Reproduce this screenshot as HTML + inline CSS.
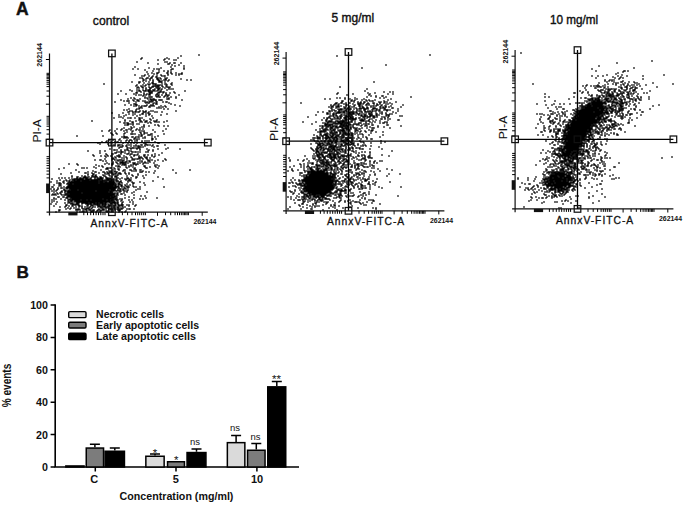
<!DOCTYPE html><html><head><meta charset="utf-8"><style>html,body{margin:0;padding:0;background:#fff;}svg{display:block;}text{font-family:"Liberation Sans",sans-serif;}</style></head><body>
<svg width="685" height="505" viewBox="0 0 685 505">
<rect width="685" height="505" fill="#fff"/>
<text x="16.0" y="15.0" font-family="Liberation Sans, sans-serif" font-size="17.5" font-weight="bold" fill="#111" stroke="#111" stroke-width="0.4">A</text>
<text x="92.8" y="24.7" font-family="Liberation Sans, sans-serif" font-size="12.5" textLength="36.5" lengthAdjust="spacingAndGlyphs" fill="#111" stroke="#111" stroke-width="0.4">control</text>
<text x="331.6" y="22.1" font-family="Liberation Sans, sans-serif" font-size="12" textLength="42.6" lengthAdjust="spacingAndGlyphs" fill="#111" stroke="#111" stroke-width="0.4">5 mg/ml</text>
<text x="549.9" y="23.9" font-family="Liberation Sans, sans-serif" font-size="12" textLength="48.2" lengthAdjust="spacingAndGlyphs" fill="#111" stroke="#111" stroke-width="0.4">10 mg/ml</text>
<g>
<path d="M198.25 54.25h1.5v1.5h-1.5zM180.25 55.25h1.5v1.5h-1.5zM141.25 57.25h1.5v1.5h-1.5zM166.25 57.25h1.5v1.5h-1.5zM177.25 57.25h1.5v1.5h-1.5zM140.25 58.25h1.5v1.5h-1.5zM164.25 58.25h1.5v1.5h-1.5zM168.25 58.25h1.5v1.5h-1.5zM157.25 59.25h1.5v1.5h-1.5zM163.25 59.25h1.5v1.5h-1.5zM173.25 59.25h1.5v1.5h-1.5zM175.25 59.25h1.5v1.5h-1.5zM136.25 61.25h1.5v1.5h-1.5zM164.25 61.25h1.5v1.5h-1.5zM166.25 61.25h1.5v1.5h-1.5zM147.25 62.25h1.5v1.5h-1.5zM169.25 62.25h1.5v1.5h-1.5zM173.25 62.25h2.5v1.5h-2.5zM180.25 62.25h1.5v1.5h-1.5zM157.25 63.25h1.5v1.5h-1.5zM167.25 63.25h2.5v1.5h-2.5zM171.25 64.25h1.5v1.5h-1.5zM178.25 64.25h1.5v1.5h-1.5zM174.25 65.25h1.5v1.5h-1.5zM183.25 65.25h1.5v1.5h-1.5zM134.25 66.25h1.5v1.5h-1.5zM170.25 66.25h1.5v1.5h-1.5zM148.25 67.25h1.5v1.5h-1.5zM160.25 67.25h1.5v1.5h-1.5zM183.25 67.25h1.5v1.5h-1.5zM132.25 68.25h1.5v1.5h-1.5zM137.25 68.25h1.5v1.5h-1.5zM153.25 68.25h1.5v1.5h-1.5zM156.25 68.25h1.5v1.5h-1.5zM158.25 68.25h1.5v1.5h-1.5zM171.25 68.25h2.5v1.5h-2.5zM183.25 68.25h1.5v1.5h-1.5zM144.25 69.25h1.5v1.5h-1.5zM158.25 69.25h1.5v1.5h-1.5zM170.25 69.25h1.5v1.5h-1.5zM152.25 70.25h1.5v1.5h-1.5zM163.25 70.25h1.5v1.5h-1.5zM167.25 70.25h1.5v1.5h-1.5zM146.25 71.25h1.5v1.5h-1.5zM158.25 71.25h1.5v1.5h-1.5zM167.25 71.25h1.5v1.5h-1.5zM170.25 71.25h1.5v1.5h-1.5zM151.25 72.25h1.5v1.5h-1.5zM156.25 72.25h2.5v1.5h-2.5zM166.25 72.25h1.5v1.5h-1.5zM170.25 72.25h1.5v1.5h-1.5zM175.25 72.25h1.5v1.5h-1.5zM181.25 72.25h1.5v1.5h-1.5zM147.25 73.25h1.5v1.5h-1.5zM153.25 73.25h1.5v1.5h-1.5zM156.25 73.25h1.5v1.5h-1.5zM167.25 73.25h1.5v1.5h-1.5zM171.25 73.25h1.5v1.5h-1.5zM178.25 73.25h1.5v1.5h-1.5zM180.25 73.25h2.5v1.5h-2.5zM134.25 74.25h1.5v1.5h-1.5zM144.25 74.25h1.5v1.5h-1.5zM160.25 74.25h1.5v1.5h-1.5zM167.25 74.25h1.5v1.5h-1.5zM175.25 74.25h1.5v1.5h-1.5zM178.25 74.25h1.5v1.5h-1.5zM141.25 75.25h1.5v1.5h-1.5zM143.25 75.25h1.5v1.5h-1.5zM148.25 75.25h1.5v1.5h-1.5zM152.25 75.25h1.5v1.5h-1.5zM156.25 75.25h1.5v1.5h-1.5zM161.25 75.25h1.5v1.5h-1.5zM163.25 75.25h2.5v1.5h-2.5zM151.25 76.25h1.5v1.5h-1.5zM155.25 76.25h1.5v1.5h-1.5zM139.25 77.25h1.5v1.5h-1.5zM141.25 77.25h1.5v1.5h-1.5zM146.25 77.25h2.5v1.5h-2.5zM150.25 77.25h2.5v1.5h-2.5zM156.25 77.25h2.5v1.5h-2.5zM159.25 77.25h1.5v1.5h-1.5zM164.25 77.25h1.5v1.5h-1.5zM166.25 77.25h1.5v1.5h-1.5zM142.25 78.25h1.5v1.5h-1.5zM145.25 78.25h1.5v1.5h-1.5zM149.25 78.25h1.5v1.5h-1.5zM156.25 78.25h2.5v1.5h-2.5zM160.25 78.25h1.5v1.5h-1.5zM165.25 78.25h1.5v1.5h-1.5zM180.25 78.25h1.5v1.5h-1.5zM143.25 79.25h1.5v1.5h-1.5zM149.25 79.25h1.5v1.5h-1.5zM152.25 79.25h1.5v1.5h-1.5zM157.25 79.25h2.5v1.5h-2.5zM163.25 79.25h3.5v1.5h-3.5zM168.25 79.25h1.5v1.5h-1.5zM186.25 79.25h1.5v1.5h-1.5zM190.25 79.25h1.5v1.5h-1.5zM142.25 80.25h1.5v1.5h-1.5zM145.25 80.25h1.5v1.5h-1.5zM152.25 80.25h1.5v1.5h-1.5zM158.25 80.25h2.5v1.5h-2.5zM161.25 80.25h1.5v1.5h-1.5zM167.25 80.25h1.5v1.5h-1.5zM131.25 81.25h1.5v1.5h-1.5zM138.25 81.25h2.5v1.5h-2.5zM148.25 81.25h1.5v1.5h-1.5zM152.25 81.25h1.5v1.5h-1.5zM158.25 81.25h3.5v1.5h-3.5zM164.25 81.25h1.5v1.5h-1.5zM138.25 82.25h1.5v1.5h-1.5zM143.25 82.25h1.5v1.5h-1.5zM151.25 82.25h2.5v1.5h-2.5zM161.25 82.25h1.5v1.5h-1.5zM171.25 82.25h1.5v1.5h-1.5zM103.25 83.25h1.5v1.5h-1.5zM147.25 83.25h1.5v1.5h-1.5zM149.25 83.25h1.5v1.5h-1.5zM152.25 83.25h4.5v1.5h-4.5zM164.25 83.25h2.5v1.5h-2.5zM170.25 83.25h1.5v1.5h-1.5zM136.25 84.25h1.5v1.5h-1.5zM142.25 84.25h1.5v1.5h-1.5zM145.25 84.25h1.5v1.5h-1.5zM148.25 84.25h1.5v1.5h-1.5zM155.25 84.25h1.5v1.5h-1.5zM157.25 84.25h1.5v1.5h-1.5zM159.25 84.25h1.5v1.5h-1.5zM161.25 84.25h1.5v1.5h-1.5zM166.25 84.25h1.5v1.5h-1.5zM171.25 84.25h1.5v1.5h-1.5zM135.25 85.25h1.5v1.5h-1.5zM140.25 85.25h1.5v1.5h-1.5zM144.25 85.25h1.5v1.5h-1.5zM152.25 85.25h3.5v1.5h-3.5zM156.25 85.25h3.5v1.5h-3.5zM161.25 85.25h1.5v1.5h-1.5zM165.25 85.25h1.5v1.5h-1.5zM137.25 86.25h1.5v1.5h-1.5zM141.25 86.25h2.5v1.5h-2.5zM148.25 86.25h1.5v1.5h-1.5zM151.25 86.25h2.5v1.5h-2.5zM155.25 86.25h1.5v1.5h-1.5zM157.25 86.25h1.5v1.5h-1.5zM162.25 86.25h1.5v1.5h-1.5zM166.25 86.25h2.5v1.5h-2.5zM169.25 86.25h1.5v1.5h-1.5zM136.25 87.25h1.5v1.5h-1.5zM138.25 87.25h1.5v1.5h-1.5zM142.25 87.25h1.5v1.5h-1.5zM145.25 87.25h1.5v1.5h-1.5zM149.25 87.25h2.5v1.5h-2.5zM156.25 87.25h1.5v1.5h-1.5zM158.25 87.25h2.5v1.5h-2.5zM164.25 87.25h1.5v1.5h-1.5zM168.25 87.25h1.5v1.5h-1.5zM145.25 88.25h1.5v1.5h-1.5zM149.25 88.25h1.5v1.5h-1.5zM154.25 88.25h1.5v1.5h-1.5zM157.25 88.25h2.5v1.5h-2.5zM161.25 88.25h1.5v1.5h-1.5zM168.25 88.25h1.5v1.5h-1.5zM170.25 88.25h1.5v1.5h-1.5zM172.25 88.25h1.5v1.5h-1.5zM129.25 89.25h1.5v1.5h-1.5zM136.25 89.25h1.5v1.5h-1.5zM138.25 89.25h1.5v1.5h-1.5zM142.25 89.25h1.5v1.5h-1.5zM145.25 89.25h1.5v1.5h-1.5zM147.25 89.25h3.5v1.5h-3.5zM152.25 89.25h2.5v1.5h-2.5zM157.25 89.25h2.5v1.5h-2.5zM160.25 89.25h1.5v1.5h-1.5zM166.25 89.25h1.5v1.5h-1.5zM120.25 90.25h1.5v1.5h-1.5zM131.25 90.25h1.5v1.5h-1.5zM138.25 90.25h2.5v1.5h-2.5zM143.25 90.25h3.5v1.5h-3.5zM147.25 90.25h2.5v1.5h-2.5zM150.25 90.25h1.5v1.5h-1.5zM152.25 90.25h1.5v1.5h-1.5zM154.25 90.25h1.5v1.5h-1.5zM156.25 90.25h1.5v1.5h-1.5zM160.25 90.25h1.5v1.5h-1.5zM184.25 90.25h1.5v1.5h-1.5zM136.25 91.25h1.5v1.5h-1.5zM140.25 91.25h1.5v1.5h-1.5zM148.25 91.25h2.5v1.5h-2.5zM151.25 91.25h1.5v1.5h-1.5zM158.25 91.25h3.5v1.5h-3.5zM162.25 91.25h2.5v1.5h-2.5zM173.25 91.25h1.5v1.5h-1.5zM135.25 92.25h2.5v1.5h-2.5zM143.25 92.25h1.5v1.5h-1.5zM149.25 92.25h3.5v1.5h-3.5zM157.25 92.25h2.5v1.5h-2.5zM162.25 92.25h1.5v1.5h-1.5zM165.25 92.25h1.5v1.5h-1.5zM169.25 92.25h1.5v1.5h-1.5zM174.25 92.25h1.5v1.5h-1.5zM117.25 93.25h1.5v1.5h-1.5zM125.25 93.25h1.5v1.5h-1.5zM133.25 93.25h1.5v1.5h-1.5zM143.25 93.25h1.5v1.5h-1.5zM146.25 93.25h1.5v1.5h-1.5zM148.25 93.25h2.5v1.5h-2.5zM156.25 93.25h1.5v1.5h-1.5zM165.25 93.25h1.5v1.5h-1.5zM135.25 94.25h1.5v1.5h-1.5zM138.25 94.25h1.5v1.5h-1.5zM140.25 94.25h1.5v1.5h-1.5zM143.25 94.25h1.5v1.5h-1.5zM145.25 94.25h1.5v1.5h-1.5zM148.25 94.25h2.5v1.5h-2.5zM155.25 94.25h1.5v1.5h-1.5zM157.25 94.25h2.5v1.5h-2.5zM161.25 94.25h1.5v1.5h-1.5zM165.25 94.25h2.5v1.5h-2.5zM168.25 94.25h1.5v1.5h-1.5zM178.25 94.25h1.5v1.5h-1.5zM142.25 95.25h1.5v1.5h-1.5zM155.25 95.25h1.5v1.5h-1.5zM157.25 95.25h1.5v1.5h-1.5zM164.25 95.25h1.5v1.5h-1.5zM167.25 95.25h1.5v1.5h-1.5zM144.25 96.25h1.5v1.5h-1.5zM148.25 96.25h4.5v1.5h-4.5zM156.25 96.25h1.5v1.5h-1.5zM158.25 96.25h2.5v1.5h-2.5zM163.25 96.25h1.5v1.5h-1.5zM166.25 96.25h1.5v1.5h-1.5zM170.25 96.25h1.5v1.5h-1.5zM175.25 96.25h1.5v1.5h-1.5zM130.25 97.25h1.5v1.5h-1.5zM133.25 97.25h1.5v1.5h-1.5zM144.25 97.25h1.5v1.5h-1.5zM146.25 97.25h1.5v1.5h-1.5zM168.25 97.25h1.5v1.5h-1.5zM175.25 97.25h1.5v1.5h-1.5zM127.25 98.25h1.5v1.5h-1.5zM134.25 98.25h1.5v1.5h-1.5zM139.25 98.25h1.5v1.5h-1.5zM147.25 98.25h1.5v1.5h-1.5zM149.25 98.25h2.5v1.5h-2.5zM152.25 98.25h2.5v1.5h-2.5zM166.25 98.25h3.5v1.5h-3.5zM120.25 99.25h1.5v1.5h-1.5zM132.25 99.25h1.5v1.5h-1.5zM136.25 99.25h2.5v1.5h-2.5zM150.25 99.25h2.5v1.5h-2.5zM153.25 99.25h3.5v1.5h-3.5zM158.25 99.25h4.5v1.5h-4.5zM181.25 99.25h1.5v1.5h-1.5zM123.25 100.25h1.5v1.5h-1.5zM126.25 100.25h3.5v1.5h-3.5zM133.25 100.25h1.5v1.5h-1.5zM137.25 100.25h2.5v1.5h-2.5zM142.25 100.25h1.5v1.5h-1.5zM144.25 100.25h1.5v1.5h-1.5zM148.25 100.25h1.5v1.5h-1.5zM150.25 100.25h1.5v1.5h-1.5zM152.25 100.25h1.5v1.5h-1.5zM155.25 100.25h1.5v1.5h-1.5zM114.25 101.25h1.5v1.5h-1.5zM135.25 101.25h1.5v1.5h-1.5zM144.25 101.25h1.5v1.5h-1.5zM146.25 101.25h1.5v1.5h-1.5zM149.25 101.25h1.5v1.5h-1.5zM151.25 101.25h1.5v1.5h-1.5zM156.25 101.25h1.5v1.5h-1.5zM162.25 101.25h1.5v1.5h-1.5zM165.25 101.25h2.5v1.5h-2.5zM128.25 102.25h1.5v1.5h-1.5zM145.25 102.25h1.5v1.5h-1.5zM147.25 102.25h2.5v1.5h-2.5zM153.25 102.25h1.5v1.5h-1.5zM155.25 102.25h1.5v1.5h-1.5zM168.25 102.25h1.5v1.5h-1.5zM133.25 103.25h3.5v1.5h-3.5zM152.25 103.25h1.5v1.5h-1.5zM155.25 103.25h2.5v1.5h-2.5zM170.25 103.25h1.5v1.5h-1.5zM124.25 104.25h1.5v1.5h-1.5zM130.25 104.25h1.5v1.5h-1.5zM135.25 104.25h2.5v1.5h-2.5zM146.25 104.25h1.5v1.5h-1.5zM150.25 104.25h1.5v1.5h-1.5zM152.25 104.25h1.5v1.5h-1.5zM174.25 104.25h1.5v1.5h-1.5zM133.25 105.25h1.5v1.5h-1.5zM135.25 105.25h1.5v1.5h-1.5zM138.25 105.25h1.5v1.5h-1.5zM141.25 105.25h1.5v1.5h-1.5zM143.25 105.25h3.5v1.5h-3.5zM149.25 105.25h1.5v1.5h-1.5zM151.25 105.25h1.5v1.5h-1.5zM153.25 105.25h1.5v1.5h-1.5zM160.25 105.25h1.5v1.5h-1.5zM164.25 105.25h1.5v1.5h-1.5zM179.25 105.25h1.5v1.5h-1.5zM140.25 106.25h1.5v1.5h-1.5zM148.25 106.25h2.5v1.5h-2.5zM158.25 106.25h1.5v1.5h-1.5zM162.25 106.25h1.5v1.5h-1.5zM165.25 106.25h1.5v1.5h-1.5zM138.25 107.25h2.5v1.5h-2.5zM141.25 107.25h1.5v1.5h-1.5zM156.25 107.25h1.5v1.5h-1.5zM158.25 107.25h1.5v1.5h-1.5zM160.25 107.25h1.5v1.5h-1.5zM128.25 108.25h1.5v1.5h-1.5zM136.25 108.25h1.5v1.5h-1.5zM138.25 108.25h1.5v1.5h-1.5zM163.25 108.25h1.5v1.5h-1.5zM167.25 108.25h1.5v1.5h-1.5zM123.25 109.25h1.5v1.5h-1.5zM126.25 109.25h1.5v1.5h-1.5zM135.25 109.25h1.5v1.5h-1.5zM129.25 110.25h1.5v1.5h-1.5zM131.25 110.25h1.5v1.5h-1.5zM135.25 110.25h1.5v1.5h-1.5zM139.25 110.25h1.5v1.5h-1.5zM142.25 110.25h1.5v1.5h-1.5zM145.25 110.25h1.5v1.5h-1.5zM150.25 110.25h1.5v1.5h-1.5zM152.25 110.25h1.5v1.5h-1.5zM175.25 110.25h1.5v1.5h-1.5zM127.25 111.25h2.5v1.5h-2.5zM132.25 111.25h1.5v1.5h-1.5zM134.25 111.25h2.5v1.5h-2.5zM137.25 111.25h2.5v1.5h-2.5zM143.25 111.25h3.5v1.5h-3.5zM148.25 111.25h1.5v1.5h-1.5zM154.25 111.25h1.5v1.5h-1.5zM156.25 111.25h1.5v1.5h-1.5zM161.25 111.25h1.5v1.5h-1.5zM111.25 112.25h1.5v1.5h-1.5zM122.25 112.25h1.5v1.5h-1.5zM132.25 112.25h1.5v1.5h-1.5zM142.25 112.25h1.5v1.5h-1.5zM147.25 112.25h1.5v1.5h-1.5zM128.25 113.25h1.5v1.5h-1.5zM134.25 113.25h1.5v1.5h-1.5zM141.25 113.25h2.5v1.5h-2.5zM145.25 113.25h1.5v1.5h-1.5zM148.25 113.25h2.5v1.5h-2.5zM166.25 113.25h1.5v1.5h-1.5zM118.25 114.25h1.5v1.5h-1.5zM125.25 114.25h1.5v1.5h-1.5zM132.25 114.25h1.5v1.5h-1.5zM139.25 114.25h1.5v1.5h-1.5zM148.25 114.25h1.5v1.5h-1.5zM160.25 114.25h1.5v1.5h-1.5zM123.25 115.25h1.5v1.5h-1.5zM136.25 115.25h1.5v1.5h-1.5zM145.25 115.25h1.5v1.5h-1.5zM151.25 115.25h1.5v1.5h-1.5zM118.25 116.25h1.5v1.5h-1.5zM120.25 116.25h1.5v1.5h-1.5zM113.25 117.25h1.5v1.5h-1.5zM122.25 117.25h1.5v1.5h-1.5zM127.25 117.25h1.5v1.5h-1.5zM129.25 117.25h2.5v1.5h-2.5zM134.25 117.25h1.5v1.5h-1.5zM138.25 117.25h2.5v1.5h-2.5zM141.25 117.25h1.5v1.5h-1.5zM152.25 117.25h1.5v1.5h-1.5zM139.25 118.25h1.5v1.5h-1.5zM149.25 118.25h1.5v1.5h-1.5zM124.25 119.25h1.5v1.5h-1.5zM138.25 119.25h2.5v1.5h-2.5zM143.25 119.25h1.5v1.5h-1.5zM150.25 119.25h1.5v1.5h-1.5zM156.25 119.25h1.5v1.5h-1.5zM91.25 120.25h1.5v1.5h-1.5zM124.25 120.25h1.5v1.5h-1.5zM129.25 120.25h1.5v1.5h-1.5zM135.25 120.25h1.5v1.5h-1.5zM140.25 120.25h1.5v1.5h-1.5zM145.25 120.25h2.5v1.5h-2.5zM153.25 120.25h1.5v1.5h-1.5zM155.25 120.25h1.5v1.5h-1.5zM166.25 120.25h1.5v1.5h-1.5zM119.25 121.25h1.5v1.5h-1.5zM131.25 121.25h2.5v1.5h-2.5zM139.25 121.25h1.5v1.5h-1.5zM141.25 121.25h1.5v1.5h-1.5zM144.25 121.25h2.5v1.5h-2.5zM149.25 121.25h1.5v1.5h-1.5zM154.25 121.25h1.5v1.5h-1.5zM156.25 121.25h1.5v1.5h-1.5zM158.25 121.25h1.5v1.5h-1.5zM163.25 121.25h1.5v1.5h-1.5zM123.25 122.25h2.5v1.5h-2.5zM126.25 122.25h2.5v1.5h-2.5zM132.25 122.25h1.5v1.5h-1.5zM147.25 122.25h1.5v1.5h-1.5zM150.25 122.25h1.5v1.5h-1.5zM127.25 123.25h2.5v1.5h-2.5zM130.25 123.25h1.5v1.5h-1.5zM132.25 123.25h1.5v1.5h-1.5zM136.25 123.25h1.5v1.5h-1.5zM138.25 123.25h1.5v1.5h-1.5zM124.25 124.25h1.5v1.5h-1.5zM126.25 124.25h2.5v1.5h-2.5zM132.25 124.25h1.5v1.5h-1.5zM143.25 124.25h1.5v1.5h-1.5zM154.25 124.25h1.5v1.5h-1.5zM157.25 124.25h1.5v1.5h-1.5zM143.25 125.25h1.5v1.5h-1.5zM148.25 125.25h1.5v1.5h-1.5zM158.25 125.25h1.5v1.5h-1.5zM163.25 125.25h1.5v1.5h-1.5zM167.25 125.25h1.5v1.5h-1.5zM130.25 126.25h1.5v1.5h-1.5zM133.25 126.25h1.5v1.5h-1.5zM141.25 126.25h1.5v1.5h-1.5zM143.25 126.25h1.5v1.5h-1.5zM123.25 127.25h1.5v1.5h-1.5zM131.25 127.25h1.5v1.5h-1.5zM139.25 127.25h1.5v1.5h-1.5zM116.25 128.25h1.5v1.5h-1.5zM121.25 128.25h1.5v1.5h-1.5zM128.25 128.25h1.5v1.5h-1.5zM130.25 128.25h1.5v1.5h-1.5zM136.25 128.25h1.5v1.5h-1.5zM142.25 128.25h1.5v1.5h-1.5zM165.25 128.25h1.5v1.5h-1.5zM109.25 129.25h1.5v1.5h-1.5zM120.25 129.25h1.5v1.5h-1.5zM125.25 129.25h2.5v1.5h-2.5zM130.25 129.25h1.5v1.5h-1.5zM135.25 129.25h1.5v1.5h-1.5zM138.25 129.25h2.5v1.5h-2.5zM152.25 129.25h1.5v1.5h-1.5zM101.25 130.25h1.5v1.5h-1.5zM108.25 130.25h1.5v1.5h-1.5zM114.25 130.25h1.5v1.5h-1.5zM123.25 130.25h1.5v1.5h-1.5zM132.25 130.25h1.5v1.5h-1.5zM141.25 130.25h1.5v1.5h-1.5zM143.25 130.25h1.5v1.5h-1.5zM162.25 130.25h1.5v1.5h-1.5zM126.25 131.25h1.5v1.5h-1.5zM131.25 131.25h1.5v1.5h-1.5zM139.25 131.25h1.5v1.5h-1.5zM143.25 131.25h1.5v1.5h-1.5zM154.25 131.25h1.5v1.5h-1.5zM110.25 132.25h1.5v1.5h-1.5zM115.25 132.25h1.5v1.5h-1.5zM124.25 132.25h1.5v1.5h-1.5zM140.25 132.25h1.5v1.5h-1.5zM144.25 132.25h1.5v1.5h-1.5zM146.25 132.25h1.5v1.5h-1.5zM111.25 133.25h1.5v1.5h-1.5zM116.25 133.25h1.5v1.5h-1.5zM123.25 133.25h1.5v1.5h-1.5zM130.25 133.25h3.5v1.5h-3.5zM134.25 133.25h1.5v1.5h-1.5zM140.25 133.25h1.5v1.5h-1.5zM143.25 133.25h1.5v1.5h-1.5zM150.25 133.25h2.5v1.5h-2.5zM163.25 133.25h1.5v1.5h-1.5zM112.25 134.25h1.5v1.5h-1.5zM138.25 134.25h1.5v1.5h-1.5zM141.25 134.25h1.5v1.5h-1.5zM147.25 134.25h3.5v1.5h-3.5zM76.25 135.25h1.5v1.5h-1.5zM102.25 135.25h1.5v1.5h-1.5zM123.25 135.25h1.5v1.5h-1.5zM140.25 135.25h2.5v1.5h-2.5zM151.25 135.25h1.5v1.5h-1.5zM157.25 135.25h1.5v1.5h-1.5zM121.25 136.25h1.5v1.5h-1.5zM123.25 136.25h4.5v1.5h-4.5zM131.25 136.25h2.5v1.5h-2.5zM135.25 136.25h1.5v1.5h-1.5zM137.25 136.25h2.5v1.5h-2.5zM144.25 136.25h1.5v1.5h-1.5zM154.25 136.25h1.5v1.5h-1.5zM123.25 137.25h1.5v1.5h-1.5zM125.25 137.25h1.5v1.5h-1.5zM127.25 137.25h1.5v1.5h-1.5zM134.25 137.25h1.5v1.5h-1.5zM142.25 137.25h1.5v1.5h-1.5zM144.25 137.25h1.5v1.5h-1.5zM151.25 137.25h1.5v1.5h-1.5zM119.25 138.25h1.5v1.5h-1.5zM133.25 138.25h2.5v1.5h-2.5zM136.25 138.25h1.5v1.5h-1.5zM138.25 138.25h1.5v1.5h-1.5zM151.25 138.25h2.5v1.5h-2.5zM155.25 138.25h1.5v1.5h-1.5zM109.25 139.25h1.5v1.5h-1.5zM112.25 139.25h1.5v1.5h-1.5zM118.25 139.25h1.5v1.5h-1.5zM126.25 139.25h1.5v1.5h-1.5zM129.25 139.25h2.5v1.5h-2.5zM136.25 139.25h1.5v1.5h-1.5zM151.25 139.25h1.5v1.5h-1.5zM106.25 140.25h1.5v1.5h-1.5zM120.25 140.25h1.5v1.5h-1.5zM125.25 140.25h1.5v1.5h-1.5zM128.25 140.25h1.5v1.5h-1.5zM131.25 140.25h1.5v1.5h-1.5zM134.25 140.25h1.5v1.5h-1.5zM136.25 140.25h1.5v1.5h-1.5zM141.25 140.25h1.5v1.5h-1.5zM144.25 140.25h1.5v1.5h-1.5zM146.25 140.25h1.5v1.5h-1.5zM148.25 140.25h1.5v1.5h-1.5zM101.25 141.25h1.5v1.5h-1.5zM105.25 141.25h1.5v1.5h-1.5zM110.25 141.25h1.5v1.5h-1.5zM114.25 141.25h1.5v1.5h-1.5zM116.25 141.25h2.5v1.5h-2.5zM128.25 141.25h1.5v1.5h-1.5zM141.25 141.25h1.5v1.5h-1.5zM154.25 141.25h1.5v1.5h-1.5zM97.25 142.25h1.5v1.5h-1.5zM110.25 142.25h1.5v1.5h-1.5zM122.25 142.25h1.5v1.5h-1.5zM127.25 142.25h1.5v1.5h-1.5zM133.25 142.25h1.5v1.5h-1.5zM136.25 142.25h1.5v1.5h-1.5zM143.25 142.25h2.5v1.5h-2.5zM157.25 142.25h2.5v1.5h-2.5zM99.25 143.25h1.5v1.5h-1.5zM107.25 143.25h1.5v1.5h-1.5zM130.25 143.25h1.5v1.5h-1.5zM145.25 143.25h1.5v1.5h-1.5zM110.25 144.25h1.5v1.5h-1.5zM113.25 144.25h1.5v1.5h-1.5zM117.25 144.25h3.5v1.5h-3.5zM121.25 144.25h1.5v1.5h-1.5zM126.25 144.25h1.5v1.5h-1.5zM128.25 144.25h1.5v1.5h-1.5zM135.25 144.25h1.5v1.5h-1.5zM140.25 144.25h2.5v1.5h-2.5zM144.25 144.25h1.5v1.5h-1.5zM146.25 144.25h2.5v1.5h-2.5zM149.25 144.25h1.5v1.5h-1.5zM152.25 144.25h1.5v1.5h-1.5zM164.25 144.25h1.5v1.5h-1.5zM117.25 145.25h1.5v1.5h-1.5zM122.25 145.25h1.5v1.5h-1.5zM125.25 145.25h1.5v1.5h-1.5zM130.25 145.25h1.5v1.5h-1.5zM133.25 145.25h1.5v1.5h-1.5zM135.25 145.25h1.5v1.5h-1.5zM137.25 145.25h2.5v1.5h-2.5zM144.25 145.25h1.5v1.5h-1.5zM151.25 145.25h1.5v1.5h-1.5zM156.25 145.25h2.5v1.5h-2.5zM119.25 146.25h3.5v1.5h-3.5zM126.25 146.25h1.5v1.5h-1.5zM137.25 146.25h1.5v1.5h-1.5zM139.25 146.25h2.5v1.5h-2.5zM142.25 146.25h1.5v1.5h-1.5zM153.25 146.25h1.5v1.5h-1.5zM118.25 147.25h1.5v1.5h-1.5zM127.25 147.25h1.5v1.5h-1.5zM129.25 147.25h1.5v1.5h-1.5zM131.25 147.25h3.5v1.5h-3.5zM135.25 147.25h1.5v1.5h-1.5zM137.25 147.25h2.5v1.5h-2.5zM167.25 147.25h1.5v1.5h-1.5zM109.25 148.25h1.5v1.5h-1.5zM126.25 148.25h1.5v1.5h-1.5zM130.25 148.25h1.5v1.5h-1.5zM136.25 148.25h1.5v1.5h-1.5zM139.25 148.25h1.5v1.5h-1.5zM146.25 148.25h1.5v1.5h-1.5zM157.25 148.25h1.5v1.5h-1.5zM165.25 148.25h1.5v1.5h-1.5zM179.25 148.25h1.5v1.5h-1.5zM113.25 149.25h2.5v1.5h-2.5zM116.25 149.25h1.5v1.5h-1.5zM120.25 149.25h1.5v1.5h-1.5zM124.25 149.25h1.5v1.5h-1.5zM126.25 149.25h2.5v1.5h-2.5zM139.25 149.25h1.5v1.5h-1.5zM148.25 149.25h1.5v1.5h-1.5zM152.25 149.25h1.5v1.5h-1.5zM87.25 150.25h1.5v1.5h-1.5zM99.25 150.25h1.5v1.5h-1.5zM104.25 150.25h1.5v1.5h-1.5zM120.25 150.25h1.5v1.5h-1.5zM124.25 150.25h1.5v1.5h-1.5zM128.25 150.25h1.5v1.5h-1.5zM130.25 150.25h1.5v1.5h-1.5zM147.25 150.25h1.5v1.5h-1.5zM152.25 150.25h1.5v1.5h-1.5zM116.25 151.25h1.5v1.5h-1.5zM118.25 151.25h1.5v1.5h-1.5zM120.25 151.25h3.5v1.5h-3.5zM131.25 151.25h2.5v1.5h-2.5zM134.25 151.25h2.5v1.5h-2.5zM137.25 151.25h1.5v1.5h-1.5zM139.25 151.25h1.5v1.5h-1.5zM145.25 151.25h1.5v1.5h-1.5zM147.25 151.25h1.5v1.5h-1.5zM99.25 152.25h1.5v1.5h-1.5zM114.25 152.25h2.5v1.5h-2.5zM120.25 152.25h1.5v1.5h-1.5zM124.25 152.25h1.5v1.5h-1.5zM128.25 152.25h1.5v1.5h-1.5zM161.25 152.25h1.5v1.5h-1.5zM105.25 153.25h1.5v1.5h-1.5zM111.25 153.25h2.5v1.5h-2.5zM120.25 153.25h1.5v1.5h-1.5zM126.25 153.25h2.5v1.5h-2.5zM130.25 153.25h2.5v1.5h-2.5zM137.25 153.25h1.5v1.5h-1.5zM154.25 153.25h1.5v1.5h-1.5zM92.25 154.25h1.5v1.5h-1.5zM106.25 154.25h1.5v1.5h-1.5zM118.25 154.25h1.5v1.5h-1.5zM129.25 154.25h1.5v1.5h-1.5zM133.25 154.25h2.5v1.5h-2.5zM136.25 154.25h1.5v1.5h-1.5zM143.25 154.25h2.5v1.5h-2.5zM147.25 154.25h1.5v1.5h-1.5zM151.25 154.25h1.5v1.5h-1.5zM158.25 154.25h1.5v1.5h-1.5zM93.25 155.25h1.5v1.5h-1.5zM100.25 155.25h1.5v1.5h-1.5zM104.25 155.25h1.5v1.5h-1.5zM107.25 155.25h1.5v1.5h-1.5zM110.25 155.25h2.5v1.5h-2.5zM116.25 155.25h2.5v1.5h-2.5zM119.25 155.25h1.5v1.5h-1.5zM123.25 155.25h1.5v1.5h-1.5zM133.25 155.25h1.5v1.5h-1.5zM138.25 155.25h1.5v1.5h-1.5zM143.25 155.25h1.5v1.5h-1.5zM151.25 155.25h1.5v1.5h-1.5zM154.25 155.25h1.5v1.5h-1.5zM105.25 156.25h1.5v1.5h-1.5zM114.25 156.25h1.5v1.5h-1.5zM118.25 156.25h2.5v1.5h-2.5zM125.25 156.25h1.5v1.5h-1.5zM130.25 156.25h1.5v1.5h-1.5zM138.25 156.25h1.5v1.5h-1.5zM140.25 156.25h1.5v1.5h-1.5zM144.25 156.25h1.5v1.5h-1.5zM146.25 156.25h1.5v1.5h-1.5zM153.25 156.25h1.5v1.5h-1.5zM111.25 157.25h2.5v1.5h-2.5zM115.25 157.25h1.5v1.5h-1.5zM121.25 157.25h1.5v1.5h-1.5zM123.25 157.25h1.5v1.5h-1.5zM126.25 157.25h1.5v1.5h-1.5zM131.25 157.25h1.5v1.5h-1.5zM138.25 157.25h2.5v1.5h-2.5zM141.25 157.25h1.5v1.5h-1.5zM145.25 157.25h2.5v1.5h-2.5zM149.25 157.25h1.5v1.5h-1.5zM104.25 158.25h1.5v1.5h-1.5zM112.25 158.25h2.5v1.5h-2.5zM126.25 158.25h1.5v1.5h-1.5zM132.25 158.25h1.5v1.5h-1.5zM134.25 158.25h1.5v1.5h-1.5zM136.25 158.25h2.5v1.5h-2.5zM139.25 158.25h1.5v1.5h-1.5zM142.25 158.25h1.5v1.5h-1.5zM146.25 158.25h1.5v1.5h-1.5zM164.25 158.25h1.5v1.5h-1.5zM94.25 159.25h1.5v1.5h-1.5zM99.25 159.25h2.5v1.5h-2.5zM111.25 159.25h1.5v1.5h-1.5zM114.25 159.25h1.5v1.5h-1.5zM116.25 159.25h1.5v1.5h-1.5zM118.25 159.25h4.5v1.5h-4.5zM123.25 159.25h1.5v1.5h-1.5zM131.25 159.25h1.5v1.5h-1.5zM133.25 159.25h1.5v1.5h-1.5zM147.25 159.25h1.5v1.5h-1.5zM149.25 159.25h1.5v1.5h-1.5zM151.25 159.25h1.5v1.5h-1.5zM157.25 159.25h1.5v1.5h-1.5zM165.25 159.25h1.5v1.5h-1.5zM102.25 160.25h1.5v1.5h-1.5zM105.25 160.25h1.5v1.5h-1.5zM117.25 160.25h1.5v1.5h-1.5zM122.25 160.25h1.5v1.5h-1.5zM126.25 160.25h1.5v1.5h-1.5zM128.25 160.25h2.5v1.5h-2.5zM139.25 160.25h1.5v1.5h-1.5zM141.25 160.25h1.5v1.5h-1.5zM147.25 160.25h2.5v1.5h-2.5zM154.25 160.25h1.5v1.5h-1.5zM162.25 160.25h1.5v1.5h-1.5zM112.25 161.25h1.5v1.5h-1.5zM115.25 161.25h1.5v1.5h-1.5zM119.25 161.25h4.5v1.5h-4.5zM124.25 161.25h2.5v1.5h-2.5zM129.25 161.25h1.5v1.5h-1.5zM137.25 161.25h1.5v1.5h-1.5zM141.25 161.25h1.5v1.5h-1.5zM144.25 161.25h1.5v1.5h-1.5zM149.25 161.25h1.5v1.5h-1.5zM106.25 162.25h1.5v1.5h-1.5zM112.25 162.25h1.5v1.5h-1.5zM116.25 162.25h1.5v1.5h-1.5zM120.25 162.25h4.5v1.5h-4.5zM125.25 162.25h1.5v1.5h-1.5zM127.25 162.25h1.5v1.5h-1.5zM132.25 162.25h3.5v1.5h-3.5zM139.25 162.25h1.5v1.5h-1.5zM143.25 162.25h1.5v1.5h-1.5zM145.25 162.25h1.5v1.5h-1.5zM147.25 162.25h1.5v1.5h-1.5zM153.25 162.25h1.5v1.5h-1.5zM68.25 163.25h1.5v1.5h-1.5zM76.25 163.25h1.5v1.5h-1.5zM104.25 163.25h1.5v1.5h-1.5zM108.25 163.25h1.5v1.5h-1.5zM111.25 163.25h2.5v1.5h-2.5zM117.25 163.25h1.5v1.5h-1.5zM119.25 163.25h1.5v1.5h-1.5zM122.25 163.25h1.5v1.5h-1.5zM124.25 163.25h1.5v1.5h-1.5zM133.25 163.25h2.5v1.5h-2.5zM136.25 163.25h2.5v1.5h-2.5zM142.25 163.25h1.5v1.5h-1.5zM77.25 164.25h1.5v1.5h-1.5zM95.25 164.25h1.5v1.5h-1.5zM111.25 164.25h1.5v1.5h-1.5zM121.25 164.25h1.5v1.5h-1.5zM123.25 164.25h3.5v1.5h-3.5zM130.25 164.25h1.5v1.5h-1.5zM132.25 164.25h1.5v1.5h-1.5zM135.25 164.25h1.5v1.5h-1.5zM154.25 164.25h1.5v1.5h-1.5zM156.25 164.25h1.5v1.5h-1.5zM98.25 165.25h1.5v1.5h-1.5zM101.25 165.25h1.5v1.5h-1.5zM115.25 165.25h1.5v1.5h-1.5zM117.25 165.25h2.5v1.5h-2.5zM128.25 165.25h1.5v1.5h-1.5zM130.25 165.25h1.5v1.5h-1.5zM143.25 165.25h2.5v1.5h-2.5zM154.25 165.25h1.5v1.5h-1.5zM158.25 165.25h1.5v1.5h-1.5zM93.25 166.25h1.5v1.5h-1.5zM102.25 166.25h1.5v1.5h-1.5zM117.25 166.25h1.5v1.5h-1.5zM119.25 166.25h1.5v1.5h-1.5zM125.25 166.25h1.5v1.5h-1.5zM128.25 166.25h1.5v1.5h-1.5zM132.25 166.25h1.5v1.5h-1.5zM144.25 166.25h1.5v1.5h-1.5zM149.25 166.25h1.5v1.5h-1.5zM155.25 166.25h1.5v1.5h-1.5zM63.25 167.25h1.5v1.5h-1.5zM81.25 167.25h1.5v1.5h-1.5zM83.25 167.25h1.5v1.5h-1.5zM86.25 167.25h1.5v1.5h-1.5zM95.25 167.25h1.5v1.5h-1.5zM106.25 167.25h2.5v1.5h-2.5zM109.25 167.25h2.5v1.5h-2.5zM113.25 167.25h1.5v1.5h-1.5zM126.25 167.25h1.5v1.5h-1.5zM134.25 167.25h1.5v1.5h-1.5zM145.25 167.25h2.5v1.5h-2.5zM157.25 167.25h1.5v1.5h-1.5zM58.25 168.25h1.5v1.5h-1.5zM105.25 168.25h3.5v1.5h-3.5zM114.25 168.25h1.5v1.5h-1.5zM117.25 168.25h2.5v1.5h-2.5zM133.25 168.25h2.5v1.5h-2.5zM75.25 169.25h1.5v1.5h-1.5zM100.25 169.25h1.5v1.5h-1.5zM112.25 169.25h1.5v1.5h-1.5zM118.25 169.25h1.5v1.5h-1.5zM123.25 169.25h2.5v1.5h-2.5zM129.25 169.25h2.5v1.5h-2.5zM135.25 169.25h1.5v1.5h-1.5zM139.25 169.25h2.5v1.5h-2.5zM172.25 169.25h1.5v1.5h-1.5zM189.25 169.25h1.5v1.5h-1.5zM92.25 170.25h1.5v1.5h-1.5zM108.25 170.25h1.5v1.5h-1.5zM110.25 170.25h1.5v1.5h-1.5zM114.25 170.25h1.5v1.5h-1.5zM122.25 170.25h1.5v1.5h-1.5zM131.25 170.25h1.5v1.5h-1.5zM133.25 170.25h1.5v1.5h-1.5zM135.25 170.25h1.5v1.5h-1.5zM142.25 170.25h1.5v1.5h-1.5zM154.25 170.25h1.5v1.5h-1.5zM78.25 171.25h1.5v1.5h-1.5zM87.25 171.25h1.5v1.5h-1.5zM94.25 171.25h2.5v1.5h-2.5zM102.25 171.25h2.5v1.5h-2.5zM106.25 171.25h1.5v1.5h-1.5zM109.25 171.25h1.5v1.5h-1.5zM111.25 171.25h1.5v1.5h-1.5zM113.25 171.25h1.5v1.5h-1.5zM115.25 171.25h2.5v1.5h-2.5zM124.25 171.25h1.5v1.5h-1.5zM139.25 171.25h3.5v1.5h-3.5zM145.25 171.25h1.5v1.5h-1.5zM148.25 171.25h1.5v1.5h-1.5zM70.25 172.25h1.5v1.5h-1.5zM84.25 172.25h2.5v1.5h-2.5zM91.25 172.25h1.5v1.5h-1.5zM98.25 172.25h1.5v1.5h-1.5zM104.25 172.25h1.5v1.5h-1.5zM107.25 172.25h2.5v1.5h-2.5zM110.25 172.25h2.5v1.5h-2.5zM115.25 172.25h1.5v1.5h-1.5zM118.25 172.25h2.5v1.5h-2.5zM124.25 172.25h1.5v1.5h-1.5zM128.25 172.25h1.5v1.5h-1.5zM153.25 172.25h1.5v1.5h-1.5zM175.25 172.25h1.5v1.5h-1.5zM60.25 173.25h1.5v1.5h-1.5zM87.25 173.25h1.5v1.5h-1.5zM92.25 173.25h2.5v1.5h-2.5zM104.25 173.25h1.5v1.5h-1.5zM106.25 173.25h1.5v1.5h-1.5zM108.25 173.25h1.5v1.5h-1.5zM112.25 173.25h4.5v1.5h-4.5zM117.25 173.25h1.5v1.5h-1.5zM119.25 173.25h2.5v1.5h-2.5zM125.25 173.25h1.5v1.5h-1.5zM128.25 173.25h1.5v1.5h-1.5zM137.25 173.25h1.5v1.5h-1.5zM87.25 174.25h1.5v1.5h-1.5zM92.25 174.25h1.5v1.5h-1.5zM95.25 174.25h1.5v1.5h-1.5zM102.25 174.25h1.5v1.5h-1.5zM108.25 174.25h1.5v1.5h-1.5zM112.25 174.25h1.5v1.5h-1.5zM117.25 174.25h1.5v1.5h-1.5zM131.25 174.25h1.5v1.5h-1.5zM137.25 174.25h1.5v1.5h-1.5zM145.25 174.25h1.5v1.5h-1.5zM71.25 175.25h1.5v1.5h-1.5zM81.25 175.25h1.5v1.5h-1.5zM84.25 175.25h1.5v1.5h-1.5zM91.25 175.25h2.5v1.5h-2.5zM94.25 175.25h2.5v1.5h-2.5zM103.25 175.25h2.5v1.5h-2.5zM109.25 175.25h1.5v1.5h-1.5zM114.25 175.25h3.5v1.5h-3.5zM126.25 175.25h1.5v1.5h-1.5zM132.25 175.25h1.5v1.5h-1.5zM142.25 175.25h1.5v1.5h-1.5zM71.25 176.25h1.5v1.5h-1.5zM76.25 176.25h2.5v1.5h-2.5zM83.25 176.25h3.5v1.5h-3.5zM87.25 176.25h2.5v1.5h-2.5zM91.25 176.25h1.5v1.5h-1.5zM93.25 176.25h1.5v1.5h-1.5zM95.25 176.25h2.5v1.5h-2.5zM99.25 176.25h2.5v1.5h-2.5zM105.25 176.25h1.5v1.5h-1.5zM111.25 176.25h1.5v1.5h-1.5zM114.25 176.25h2.5v1.5h-2.5zM135.25 176.25h2.5v1.5h-2.5zM157.25 176.25h1.5v1.5h-1.5zM58.25 177.25h1.5v1.5h-1.5zM61.25 177.25h1.5v1.5h-1.5zM64.25 177.25h1.5v1.5h-1.5zM68.25 177.25h1.5v1.5h-1.5zM76.25 177.25h1.5v1.5h-1.5zM79.25 177.25h2.5v1.5h-2.5zM82.25 177.25h5.5v1.5h-5.5zM90.25 177.25h1.5v1.5h-1.5zM94.25 177.25h1.5v1.5h-1.5zM97.25 177.25h1.5v1.5h-1.5zM99.25 177.25h4.5v1.5h-4.5zM105.25 177.25h3.5v1.5h-3.5zM109.25 177.25h1.5v1.5h-1.5zM116.25 177.25h2.5v1.5h-2.5zM121.25 177.25h1.5v1.5h-1.5zM126.25 177.25h2.5v1.5h-2.5zM130.25 177.25h1.5v1.5h-1.5zM135.25 177.25h1.5v1.5h-1.5zM143.25 177.25h1.5v1.5h-1.5zM51.25 178.25h1.5v1.5h-1.5zM71.25 178.25h1.5v1.5h-1.5zM73.25 178.25h10.5v1.5h-10.5zM85.25 178.25h6.5v1.5h-6.5zM94.25 178.25h1.5v1.5h-1.5zM96.25 178.25h6.5v1.5h-6.5zM106.25 178.25h5.5v1.5h-5.5zM112.25 178.25h2.5v1.5h-2.5zM115.25 178.25h1.5v1.5h-1.5zM119.25 178.25h1.5v1.5h-1.5zM124.25 178.25h1.5v1.5h-1.5zM126.25 178.25h1.5v1.5h-1.5zM128.25 178.25h1.5v1.5h-1.5zM162.25 178.25h1.5v1.5h-1.5zM59.25 179.25h1.5v1.5h-1.5zM65.25 179.25h1.5v1.5h-1.5zM69.25 179.25h1.5v1.5h-1.5zM72.25 179.25h3.5v1.5h-3.5zM76.25 179.25h13.5v1.5h-13.5zM90.25 179.25h10.5v1.5h-10.5zM101.25 179.25h2.5v1.5h-2.5zM104.25 179.25h5.5v1.5h-5.5zM110.25 179.25h2.5v1.5h-2.5zM113.25 179.25h1.5v1.5h-1.5zM115.25 179.25h2.5v1.5h-2.5zM125.25 179.25h1.5v1.5h-1.5zM128.25 179.25h3.5v1.5h-3.5zM56.25 180.25h1.5v1.5h-1.5zM63.25 180.25h1.5v1.5h-1.5zM66.25 180.25h1.5v1.5h-1.5zM68.25 180.25h1.5v1.5h-1.5zM71.25 180.25h1.5v1.5h-1.5zM73.25 180.25h7.5v1.5h-7.5zM81.25 180.25h17.5v1.5h-17.5zM99.25 180.25h6.5v1.5h-6.5zM106.25 180.25h1.5v1.5h-1.5zM108.25 180.25h3.5v1.5h-3.5zM112.25 180.25h2.5v1.5h-2.5zM115.25 180.25h1.5v1.5h-1.5zM117.25 180.25h1.5v1.5h-1.5zM120.25 180.25h1.5v1.5h-1.5zM127.25 180.25h1.5v1.5h-1.5zM129.25 180.25h1.5v1.5h-1.5zM152.25 180.25h1.5v1.5h-1.5zM50.25 181.25h1.5v1.5h-1.5zM62.25 181.25h1.5v1.5h-1.5zM68.25 181.25h35.5v1.5h-35.5zM104.25 181.25h3.5v1.5h-3.5zM108.25 181.25h6.5v1.5h-6.5zM116.25 181.25h1.5v1.5h-1.5zM118.25 181.25h3.5v1.5h-3.5zM127.25 181.25h1.5v1.5h-1.5zM131.25 181.25h1.5v1.5h-1.5zM139.25 181.25h1.5v1.5h-1.5zM56.25 182.25h1.5v1.5h-1.5zM58.25 182.25h2.5v1.5h-2.5zM63.25 182.25h1.5v1.5h-1.5zM67.25 182.25h1.5v1.5h-1.5zM69.25 182.25h29.5v1.5h-29.5zM99.25 182.25h16.5v1.5h-16.5zM118.25 182.25h1.5v1.5h-1.5zM121.25 182.25h1.5v1.5h-1.5zM132.25 182.25h2.5v1.5h-2.5zM143.25 182.25h1.5v1.5h-1.5zM58.25 183.25h1.5v1.5h-1.5zM60.25 183.25h1.5v1.5h-1.5zM66.25 183.25h6.5v1.5h-6.5zM73.25 183.25h41.5v1.5h-41.5zM115.25 183.25h1.5v1.5h-1.5zM117.25 183.25h3.5v1.5h-3.5zM126.25 183.25h1.5v1.5h-1.5zM132.25 183.25h1.5v1.5h-1.5zM53.25 184.25h1.5v1.5h-1.5zM59.25 184.25h1.5v1.5h-1.5zM68.25 184.25h48.5v1.5h-48.5zM118.25 184.25h1.5v1.5h-1.5zM120.25 184.25h2.5v1.5h-2.5zM124.25 184.25h1.5v1.5h-1.5zM129.25 184.25h1.5v1.5h-1.5zM144.25 184.25h1.5v1.5h-1.5zM58.25 185.25h1.5v1.5h-1.5zM60.25 185.25h1.5v1.5h-1.5zM67.25 185.25h46.5v1.5h-46.5zM114.25 185.25h2.5v1.5h-2.5zM117.25 185.25h1.5v1.5h-1.5zM120.25 185.25h2.5v1.5h-2.5zM125.25 185.25h1.5v1.5h-1.5zM127.25 185.25h1.5v1.5h-1.5zM132.25 185.25h1.5v1.5h-1.5zM51.25 186.25h2.5v1.5h-2.5zM63.25 186.25h1.5v1.5h-1.5zM66.25 186.25h53.5v1.5h-53.5zM121.25 186.25h1.5v1.5h-1.5zM123.25 186.25h1.5v1.5h-1.5zM126.25 186.25h1.5v1.5h-1.5zM128.25 186.25h1.5v1.5h-1.5zM133.25 186.25h1.5v1.5h-1.5zM135.25 186.25h1.5v1.5h-1.5zM139.25 186.25h1.5v1.5h-1.5zM163.25 186.25h1.5v1.5h-1.5zM57.25 187.25h1.5v1.5h-1.5zM60.25 187.25h2.5v1.5h-2.5zM65.25 187.25h51.5v1.5h-51.5zM118.25 187.25h1.5v1.5h-1.5zM124.25 187.25h1.5v1.5h-1.5zM127.25 187.25h1.5v1.5h-1.5zM50.25 188.25h1.5v1.5h-1.5zM53.25 188.25h1.5v1.5h-1.5zM57.25 188.25h1.5v1.5h-1.5zM63.25 188.25h1.5v1.5h-1.5zM66.25 188.25h1.5v1.5h-1.5zM69.25 188.25h46.5v1.5h-46.5zM117.25 188.25h1.5v1.5h-1.5zM119.25 188.25h2.5v1.5h-2.5zM122.25 188.25h2.5v1.5h-2.5zM125.25 188.25h1.5v1.5h-1.5zM137.25 188.25h1.5v1.5h-1.5zM139.25 188.25h1.5v1.5h-1.5zM53.25 189.25h1.5v1.5h-1.5zM56.25 189.25h1.5v1.5h-1.5zM63.25 189.25h2.5v1.5h-2.5zM68.25 189.25h1.5v1.5h-1.5zM70.25 189.25h7.5v1.5h-7.5zM78.25 189.25h31.5v1.5h-31.5zM110.25 189.25h5.5v1.5h-5.5zM117.25 189.25h1.5v1.5h-1.5zM119.25 189.25h1.5v1.5h-1.5zM122.25 189.25h1.5v1.5h-1.5zM127.25 189.25h1.5v1.5h-1.5zM135.25 189.25h1.5v1.5h-1.5zM51.25 190.25h1.5v1.5h-1.5zM55.25 190.25h1.5v1.5h-1.5zM61.25 190.25h1.5v1.5h-1.5zM64.25 190.25h31.5v1.5h-31.5zM96.25 190.25h15.5v1.5h-15.5zM112.25 190.25h2.5v1.5h-2.5zM115.25 190.25h2.5v1.5h-2.5zM118.25 190.25h1.5v1.5h-1.5zM120.25 190.25h1.5v1.5h-1.5zM123.25 190.25h2.5v1.5h-2.5zM126.25 190.25h1.5v1.5h-1.5zM53.25 191.25h1.5v1.5h-1.5zM60.25 191.25h2.5v1.5h-2.5zM64.25 191.25h1.5v1.5h-1.5zM67.25 191.25h41.5v1.5h-41.5zM109.25 191.25h3.5v1.5h-3.5zM119.25 191.25h1.5v1.5h-1.5zM126.25 191.25h1.5v1.5h-1.5zM133.25 191.25h1.5v1.5h-1.5zM146.25 191.25h1.5v1.5h-1.5zM56.25 192.25h1.5v1.5h-1.5zM59.25 192.25h1.5v1.5h-1.5zM64.25 192.25h1.5v1.5h-1.5zM66.25 192.25h15.5v1.5h-15.5zM82.25 192.25h29.5v1.5h-29.5zM112.25 192.25h1.5v1.5h-1.5zM114.25 192.25h1.5v1.5h-1.5zM116.25 192.25h2.5v1.5h-2.5zM123.25 192.25h1.5v1.5h-1.5zM131.25 192.25h1.5v1.5h-1.5zM52.25 193.25h1.5v1.5h-1.5zM54.25 193.25h1.5v1.5h-1.5zM57.25 193.25h1.5v1.5h-1.5zM60.25 193.25h1.5v1.5h-1.5zM65.25 193.25h1.5v1.5h-1.5zM67.25 193.25h1.5v1.5h-1.5zM69.25 193.25h46.5v1.5h-46.5zM116.25 193.25h1.5v1.5h-1.5zM120.25 193.25h2.5v1.5h-2.5zM51.25 194.25h1.5v1.5h-1.5zM53.25 194.25h1.5v1.5h-1.5zM55.25 194.25h1.5v1.5h-1.5zM61.25 194.25h1.5v1.5h-1.5zM63.25 194.25h51.5v1.5h-51.5zM116.25 194.25h2.5v1.5h-2.5zM124.25 194.25h1.5v1.5h-1.5zM133.25 194.25h1.5v1.5h-1.5zM67.25 195.25h45.5v1.5h-45.5zM113.25 195.25h3.5v1.5h-3.5zM140.25 195.25h1.5v1.5h-1.5zM144.25 195.25h1.5v1.5h-1.5zM57.25 196.25h2.5v1.5h-2.5zM62.25 196.25h2.5v1.5h-2.5zM66.25 196.25h44.5v1.5h-44.5zM111.25 196.25h4.5v1.5h-4.5zM116.25 196.25h1.5v1.5h-1.5zM128.25 196.25h1.5v1.5h-1.5zM53.25 197.25h1.5v1.5h-1.5zM65.25 197.25h2.5v1.5h-2.5zM70.25 197.25h44.5v1.5h-44.5zM115.25 197.25h1.5v1.5h-1.5zM124.25 197.25h1.5v1.5h-1.5zM133.25 197.25h1.5v1.5h-1.5zM145.25 197.25h1.5v1.5h-1.5zM156.25 197.25h1.5v1.5h-1.5zM53.25 198.25h1.5v1.5h-1.5zM55.25 198.25h1.5v1.5h-1.5zM60.25 198.25h1.5v1.5h-1.5zM67.25 198.25h1.5v1.5h-1.5zM69.25 198.25h1.5v1.5h-1.5zM71.25 198.25h31.5v1.5h-31.5zM103.25 198.25h8.5v1.5h-8.5zM112.25 198.25h1.5v1.5h-1.5zM114.25 198.25h3.5v1.5h-3.5zM119.25 198.25h1.5v1.5h-1.5zM121.25 198.25h1.5v1.5h-1.5zM139.25 198.25h1.5v1.5h-1.5zM142.25 198.25h1.5v1.5h-1.5zM51.25 199.25h1.5v1.5h-1.5zM64.25 199.25h1.5v1.5h-1.5zM68.25 199.25h12.5v1.5h-12.5zM81.25 199.25h5.5v1.5h-5.5zM87.25 199.25h3.5v1.5h-3.5zM91.25 199.25h15.5v1.5h-15.5zM107.25 199.25h3.5v1.5h-3.5zM111.25 199.25h3.5v1.5h-3.5zM115.25 199.25h1.5v1.5h-1.5zM117.25 199.25h1.5v1.5h-1.5zM121.25 199.25h1.5v1.5h-1.5zM128.25 199.25h1.5v1.5h-1.5zM131.25 199.25h1.5v1.5h-1.5zM53.25 200.25h1.5v1.5h-1.5zM67.25 200.25h1.5v1.5h-1.5zM70.25 200.25h2.5v1.5h-2.5zM74.25 200.25h38.5v1.5h-38.5zM113.25 200.25h1.5v1.5h-1.5zM116.25 200.25h1.5v1.5h-1.5zM120.25 200.25h1.5v1.5h-1.5zM51.25 201.25h1.5v1.5h-1.5zM56.25 201.25h1.5v1.5h-1.5zM68.25 201.25h2.5v1.5h-2.5zM71.25 201.25h1.5v1.5h-1.5zM73.25 201.25h1.5v1.5h-1.5zM75.25 201.25h35.5v1.5h-35.5zM112.25 201.25h3.5v1.5h-3.5zM117.25 201.25h1.5v1.5h-1.5zM122.25 201.25h1.5v1.5h-1.5zM129.25 201.25h1.5v1.5h-1.5zM132.25 201.25h1.5v1.5h-1.5zM64.25 202.25h1.5v1.5h-1.5zM67.25 202.25h1.5v1.5h-1.5zM69.25 202.25h1.5v1.5h-1.5zM71.25 202.25h1.5v1.5h-1.5zM76.25 202.25h3.5v1.5h-3.5zM81.25 202.25h7.5v1.5h-7.5zM89.25 202.25h6.5v1.5h-6.5zM96.25 202.25h2.5v1.5h-2.5zM99.25 202.25h4.5v1.5h-4.5zM104.25 202.25h2.5v1.5h-2.5zM109.25 202.25h9.5v1.5h-9.5zM121.25 202.25h1.5v1.5h-1.5zM50.25 203.25h1.5v1.5h-1.5zM55.25 203.25h1.5v1.5h-1.5zM70.25 203.25h4.5v1.5h-4.5zM75.25 203.25h3.5v1.5h-3.5zM81.25 203.25h1.5v1.5h-1.5zM85.25 203.25h6.5v1.5h-6.5zM93.25 203.25h7.5v1.5h-7.5zM101.25 203.25h5.5v1.5h-5.5zM107.25 203.25h1.5v1.5h-1.5zM110.25 203.25h1.5v1.5h-1.5zM114.25 203.25h1.5v1.5h-1.5zM117.25 203.25h1.5v1.5h-1.5zM121.25 203.25h1.5v1.5h-1.5zM132.25 203.25h1.5v1.5h-1.5zM65.25 204.25h2.5v1.5h-2.5zM72.25 204.25h1.5v1.5h-1.5zM74.25 204.25h2.5v1.5h-2.5zM77.25 204.25h2.5v1.5h-2.5zM87.25 204.25h1.5v1.5h-1.5zM90.25 204.25h3.5v1.5h-3.5zM94.25 204.25h1.5v1.5h-1.5zM96.25 204.25h2.5v1.5h-2.5zM99.25 204.25h1.5v1.5h-1.5zM101.25 204.25h2.5v1.5h-2.5zM104.25 204.25h2.5v1.5h-2.5zM108.25 204.25h2.5v1.5h-2.5zM112.25 204.25h1.5v1.5h-1.5zM114.25 204.25h2.5v1.5h-2.5zM117.25 204.25h2.5v1.5h-2.5zM120.25 204.25h3.5v1.5h-3.5zM126.25 204.25h1.5v1.5h-1.5zM128.25 204.25h1.5v1.5h-1.5zM135.25 204.25h1.5v1.5h-1.5zM53.25 205.25h1.5v1.5h-1.5zM65.25 205.25h1.5v1.5h-1.5zM68.25 205.25h1.5v1.5h-1.5zM71.25 205.25h2.5v1.5h-2.5zM78.25 205.25h2.5v1.5h-2.5zM81.25 205.25h1.5v1.5h-1.5zM86.25 205.25h2.5v1.5h-2.5zM90.25 205.25h1.5v1.5h-1.5zM92.25 205.25h1.5v1.5h-1.5zM97.25 205.25h3.5v1.5h-3.5zM101.25 205.25h1.5v1.5h-1.5zM103.25 205.25h2.5v1.5h-2.5zM107.25 205.25h4.5v1.5h-4.5zM113.25 205.25h2.5v1.5h-2.5zM118.25 205.25h2.5v1.5h-2.5zM121.25 205.25h1.5v1.5h-1.5zM128.25 205.25h1.5v1.5h-1.5zM134.25 205.25h1.5v1.5h-1.5zM59.25 206.25h1.5v1.5h-1.5zM64.25 206.25h1.5v1.5h-1.5zM75.25 206.25h1.5v1.5h-1.5zM78.25 206.25h1.5v1.5h-1.5zM81.25 206.25h1.5v1.5h-1.5zM84.25 206.25h1.5v1.5h-1.5zM89.25 206.25h1.5v1.5h-1.5zM92.25 206.25h1.5v1.5h-1.5zM94.25 206.25h1.5v1.5h-1.5zM97.25 206.25h1.5v1.5h-1.5zM99.25 206.25h2.5v1.5h-2.5zM102.25 206.25h5.5v1.5h-5.5zM108.25 206.25h1.5v1.5h-1.5zM112.25 206.25h1.5v1.5h-1.5zM114.25 206.25h1.5v1.5h-1.5zM116.25 206.25h2.5v1.5h-2.5zM122.25 206.25h1.5v1.5h-1.5zM124.25 206.25h1.5v1.5h-1.5zM67.25 207.25h1.5v1.5h-1.5zM70.25 207.25h1.5v1.5h-1.5zM73.25 207.25h1.5v1.5h-1.5zM81.25 207.25h1.5v1.5h-1.5zM86.25 207.25h3.5v1.5h-3.5zM91.25 207.25h1.5v1.5h-1.5zM100.25 207.25h2.5v1.5h-2.5zM105.25 207.25h1.5v1.5h-1.5zM107.25 207.25h2.5v1.5h-2.5zM110.25 207.25h1.5v1.5h-1.5zM113.25 207.25h2.5v1.5h-2.5zM117.25 207.25h2.5v1.5h-2.5zM120.25 207.25h1.5v1.5h-1.5zM122.25 207.25h1.5v1.5h-1.5zM65.25 208.25h1.5v1.5h-1.5zM69.25 208.25h1.5v1.5h-1.5zM75.25 208.25h1.5v1.5h-1.5zM77.25 208.25h2.5v1.5h-2.5zM82.25 208.25h5.5v1.5h-5.5zM88.25 208.25h1.5v1.5h-1.5zM90.25 208.25h1.5v1.5h-1.5zM98.25 208.25h1.5v1.5h-1.5zM102.25 208.25h2.5v1.5h-2.5zM105.25 208.25h1.5v1.5h-1.5zM108.25 208.25h2.5v1.5h-2.5zM111.25 208.25h1.5v1.5h-1.5zM114.25 208.25h1.5v1.5h-1.5zM116.25 208.25h1.5v1.5h-1.5zM118.25 208.25h1.5v1.5h-1.5zM120.25 208.25h2.5v1.5h-2.5zM126.25 208.25h1.5v1.5h-1.5zM128.25 208.25h2.5v1.5h-2.5zM133.25 208.25h1.5v1.5h-1.5zM58.25 209.25h2.5v1.5h-2.5zM75.25 209.25h3.5v1.5h-3.5zM79.25 209.25h1.5v1.5h-1.5zM85.25 209.25h1.5v1.5h-1.5zM88.25 209.25h2.5v1.5h-2.5zM92.25 209.25h2.5v1.5h-2.5zM97.25 209.25h1.5v1.5h-1.5zM99.25 209.25h1.5v1.5h-1.5zM101.25 209.25h3.5v1.5h-3.5zM110.25 209.25h1.5v1.5h-1.5zM112.25 209.25h1.5v1.5h-1.5zM114.25 209.25h1.5v1.5h-1.5zM117.25 209.25h3.5v1.5h-3.5zM58.25 210.25h1.5v1.5h-1.5zM82.25 210.25h2.5v1.5h-2.5zM86.25 210.25h1.5v1.5h-1.5zM90.25 210.25h2.5v1.5h-2.5zM93.25 210.25h1.5v1.5h-1.5zM96.25 210.25h2.5v1.5h-2.5zM99.25 210.25h2.5v1.5h-2.5zM105.25 210.25h2.5v1.5h-2.5zM108.25 210.25h1.5v1.5h-1.5zM112.25 210.25h1.5v1.5h-1.5zM118.25 210.25h2.5v1.5h-2.5zM125.25 210.25h1.5v1.5h-1.5zM55.25 211.25h1.5v1.5h-1.5zM76.25 211.25h1.5v1.5h-1.5zM79.25 211.25h1.5v1.5h-1.5zM81.25 211.25h1.5v1.5h-1.5zM83.25 211.25h1.5v1.5h-1.5zM85.25 211.25h1.5v1.5h-1.5zM90.25 211.25h3.5v1.5h-3.5zM95.25 211.25h1.5v1.5h-1.5zM99.25 211.25h1.5v1.5h-1.5zM106.25 211.25h3.5v1.5h-3.5zM110.25 211.25h1.5v1.5h-1.5zM112.25 211.25h1.5v1.5h-1.5zM118.25 211.25h1.5v1.5h-1.5zM121.25 211.25h1.5v1.5h-1.5zM124.25 211.25h1.5v1.5h-1.5z" fill="#000"/>
<path d="M429.25 54.25h1.5v1.5h-1.5zM336.25 55.25h1.5v1.5h-1.5zM385.25 64.25h1.5v1.5h-1.5zM361.25 67.25h1.5v1.5h-1.5zM373.25 81.25h1.5v1.5h-1.5zM339.25 86.25h1.5v1.5h-1.5zM366.25 88.25h1.5v1.5h-1.5zM364.25 90.25h1.5v1.5h-1.5zM383.25 91.25h1.5v1.5h-1.5zM389.25 91.25h1.5v1.5h-1.5zM392.25 91.25h1.5v1.5h-1.5zM337.25 92.25h1.5v1.5h-1.5zM367.25 92.25h1.5v1.5h-1.5zM374.25 92.25h1.5v1.5h-1.5zM336.25 93.25h1.5v1.5h-1.5zM352.25 93.25h1.5v1.5h-1.5zM369.25 93.25h1.5v1.5h-1.5zM387.25 93.25h1.5v1.5h-1.5zM392.25 93.25h1.5v1.5h-1.5zM346.25 94.25h1.5v1.5h-1.5zM368.25 94.25h1.5v1.5h-1.5zM370.25 95.25h1.5v1.5h-1.5zM375.25 95.25h1.5v1.5h-1.5zM381.25 95.25h2.5v1.5h-2.5zM366.25 96.25h1.5v1.5h-1.5zM375.25 96.25h1.5v1.5h-1.5zM385.25 96.25h1.5v1.5h-1.5zM410.25 96.25h1.5v1.5h-1.5zM336.25 97.25h1.5v1.5h-1.5zM339.25 97.25h1.5v1.5h-1.5zM344.25 97.25h1.5v1.5h-1.5zM354.25 97.25h1.5v1.5h-1.5zM379.25 97.25h1.5v1.5h-1.5zM383.25 97.25h1.5v1.5h-1.5zM324.25 98.25h1.5v1.5h-1.5zM329.25 98.25h1.5v1.5h-1.5zM344.25 98.25h1.5v1.5h-1.5zM349.25 98.25h1.5v1.5h-1.5zM356.25 98.25h1.5v1.5h-1.5zM363.25 98.25h1.5v1.5h-1.5zM390.25 98.25h1.5v1.5h-1.5zM351.25 99.25h1.5v1.5h-1.5zM354.25 99.25h1.5v1.5h-1.5zM361.25 99.25h1.5v1.5h-1.5zM365.25 99.25h1.5v1.5h-1.5zM368.25 99.25h1.5v1.5h-1.5zM374.25 99.25h1.5v1.5h-1.5zM387.25 99.25h1.5v1.5h-1.5zM341.25 100.25h2.5v1.5h-2.5zM350.25 100.25h2.5v1.5h-2.5zM353.25 100.25h1.5v1.5h-1.5zM366.25 100.25h1.5v1.5h-1.5zM369.25 100.25h1.5v1.5h-1.5zM371.25 100.25h2.5v1.5h-2.5zM383.25 100.25h1.5v1.5h-1.5zM341.25 101.25h1.5v1.5h-1.5zM353.25 101.25h1.5v1.5h-1.5zM357.25 101.25h1.5v1.5h-1.5zM360.25 101.25h1.5v1.5h-1.5zM363.25 101.25h2.5v1.5h-2.5zM378.25 101.25h1.5v1.5h-1.5zM380.25 101.25h1.5v1.5h-1.5zM384.25 101.25h1.5v1.5h-1.5zM386.25 101.25h1.5v1.5h-1.5zM395.25 101.25h1.5v1.5h-1.5zM300.25 102.25h1.5v1.5h-1.5zM335.25 102.25h2.5v1.5h-2.5zM340.25 102.25h2.5v1.5h-2.5zM345.25 102.25h1.5v1.5h-1.5zM348.25 102.25h2.5v1.5h-2.5zM357.25 102.25h1.5v1.5h-1.5zM359.25 102.25h2.5v1.5h-2.5zM363.25 102.25h1.5v1.5h-1.5zM367.25 102.25h1.5v1.5h-1.5zM372.25 102.25h2.5v1.5h-2.5zM379.25 102.25h1.5v1.5h-1.5zM383.25 102.25h1.5v1.5h-1.5zM389.25 102.25h1.5v1.5h-1.5zM334.25 103.25h2.5v1.5h-2.5zM338.25 103.25h1.5v1.5h-1.5zM343.25 103.25h1.5v1.5h-1.5zM345.25 103.25h1.5v1.5h-1.5zM352.25 103.25h1.5v1.5h-1.5zM357.25 103.25h2.5v1.5h-2.5zM360.25 103.25h1.5v1.5h-1.5zM362.25 103.25h1.5v1.5h-1.5zM366.25 103.25h1.5v1.5h-1.5zM368.25 103.25h1.5v1.5h-1.5zM373.25 103.25h1.5v1.5h-1.5zM376.25 103.25h1.5v1.5h-1.5zM379.25 103.25h1.5v1.5h-1.5zM385.25 103.25h1.5v1.5h-1.5zM387.25 103.25h1.5v1.5h-1.5zM391.25 103.25h1.5v1.5h-1.5zM330.25 104.25h1.5v1.5h-1.5zM333.25 104.25h1.5v1.5h-1.5zM337.25 104.25h1.5v1.5h-1.5zM345.25 104.25h2.5v1.5h-2.5zM354.25 104.25h1.5v1.5h-1.5zM358.25 104.25h2.5v1.5h-2.5zM365.25 104.25h2.5v1.5h-2.5zM368.25 104.25h1.5v1.5h-1.5zM376.25 104.25h2.5v1.5h-2.5zM381.25 104.25h1.5v1.5h-1.5zM402.25 104.25h1.5v1.5h-1.5zM330.25 105.25h1.5v1.5h-1.5zM332.25 105.25h1.5v1.5h-1.5zM335.25 105.25h1.5v1.5h-1.5zM337.25 105.25h2.5v1.5h-2.5zM340.25 105.25h1.5v1.5h-1.5zM345.25 105.25h1.5v1.5h-1.5zM349.25 105.25h1.5v1.5h-1.5zM353.25 105.25h1.5v1.5h-1.5zM358.25 105.25h2.5v1.5h-2.5zM361.25 105.25h1.5v1.5h-1.5zM370.25 105.25h1.5v1.5h-1.5zM372.25 105.25h2.5v1.5h-2.5zM375.25 105.25h1.5v1.5h-1.5zM380.25 105.25h1.5v1.5h-1.5zM384.25 105.25h2.5v1.5h-2.5zM390.25 105.25h1.5v1.5h-1.5zM328.25 106.25h1.5v1.5h-1.5zM331.25 106.25h2.5v1.5h-2.5zM336.25 106.25h3.5v1.5h-3.5zM343.25 106.25h1.5v1.5h-1.5zM345.25 106.25h1.5v1.5h-1.5zM348.25 106.25h1.5v1.5h-1.5zM351.25 106.25h1.5v1.5h-1.5zM353.25 106.25h1.5v1.5h-1.5zM359.25 106.25h1.5v1.5h-1.5zM362.25 106.25h1.5v1.5h-1.5zM366.25 106.25h1.5v1.5h-1.5zM370.25 106.25h1.5v1.5h-1.5zM379.25 106.25h1.5v1.5h-1.5zM382.25 106.25h1.5v1.5h-1.5zM385.25 106.25h1.5v1.5h-1.5zM388.25 106.25h1.5v1.5h-1.5zM400.25 106.25h1.5v1.5h-1.5zM330.25 107.25h1.5v1.5h-1.5zM335.25 107.25h1.5v1.5h-1.5zM344.25 107.25h1.5v1.5h-1.5zM347.25 107.25h1.5v1.5h-1.5zM349.25 107.25h1.5v1.5h-1.5zM355.25 107.25h1.5v1.5h-1.5zM359.25 107.25h1.5v1.5h-1.5zM361.25 107.25h3.5v1.5h-3.5zM366.25 107.25h2.5v1.5h-2.5zM372.25 107.25h3.5v1.5h-3.5zM380.25 107.25h1.5v1.5h-1.5zM382.25 107.25h3.5v1.5h-3.5zM391.25 107.25h2.5v1.5h-2.5zM331.25 108.25h1.5v1.5h-1.5zM337.25 108.25h1.5v1.5h-1.5zM339.25 108.25h3.5v1.5h-3.5zM343.25 108.25h1.5v1.5h-1.5zM345.25 108.25h4.5v1.5h-4.5zM350.25 108.25h1.5v1.5h-1.5zM353.25 108.25h1.5v1.5h-1.5zM356.25 108.25h1.5v1.5h-1.5zM358.25 108.25h3.5v1.5h-3.5zM363.25 108.25h3.5v1.5h-3.5zM367.25 108.25h1.5v1.5h-1.5zM372.25 108.25h2.5v1.5h-2.5zM375.25 108.25h2.5v1.5h-2.5zM379.25 108.25h1.5v1.5h-1.5zM384.25 108.25h1.5v1.5h-1.5zM397.25 108.25h1.5v1.5h-1.5zM331.25 109.25h1.5v1.5h-1.5zM333.25 109.25h1.5v1.5h-1.5zM338.25 109.25h4.5v1.5h-4.5zM345.25 109.25h1.5v1.5h-1.5zM348.25 109.25h2.5v1.5h-2.5zM356.25 109.25h1.5v1.5h-1.5zM363.25 109.25h2.5v1.5h-2.5zM371.25 109.25h1.5v1.5h-1.5zM376.25 109.25h1.5v1.5h-1.5zM378.25 109.25h1.5v1.5h-1.5zM383.25 109.25h1.5v1.5h-1.5zM385.25 109.25h3.5v1.5h-3.5zM389.25 109.25h1.5v1.5h-1.5zM328.25 110.25h2.5v1.5h-2.5zM331.25 110.25h1.5v1.5h-1.5zM334.25 110.25h2.5v1.5h-2.5zM338.25 110.25h1.5v1.5h-1.5zM343.25 110.25h4.5v1.5h-4.5zM352.25 110.25h1.5v1.5h-1.5zM356.25 110.25h1.5v1.5h-1.5zM358.25 110.25h3.5v1.5h-3.5zM364.25 110.25h1.5v1.5h-1.5zM367.25 110.25h1.5v1.5h-1.5zM369.25 110.25h1.5v1.5h-1.5zM372.25 110.25h1.5v1.5h-1.5zM374.25 110.25h2.5v1.5h-2.5zM378.25 110.25h2.5v1.5h-2.5zM386.25 110.25h1.5v1.5h-1.5zM397.25 110.25h1.5v1.5h-1.5zM317.25 111.25h1.5v1.5h-1.5zM322.25 111.25h1.5v1.5h-1.5zM329.25 111.25h1.5v1.5h-1.5zM337.25 111.25h7.5v1.5h-7.5zM346.25 111.25h1.5v1.5h-1.5zM348.25 111.25h4.5v1.5h-4.5zM353.25 111.25h1.5v1.5h-1.5zM355.25 111.25h1.5v1.5h-1.5zM361.25 111.25h1.5v1.5h-1.5zM364.25 111.25h3.5v1.5h-3.5zM368.25 111.25h1.5v1.5h-1.5zM370.25 111.25h2.5v1.5h-2.5zM381.25 111.25h1.5v1.5h-1.5zM392.25 111.25h1.5v1.5h-1.5zM326.25 112.25h2.5v1.5h-2.5zM333.25 112.25h1.5v1.5h-1.5zM335.25 112.25h5.5v1.5h-5.5zM343.25 112.25h2.5v1.5h-2.5zM346.25 112.25h1.5v1.5h-1.5zM348.25 112.25h2.5v1.5h-2.5zM351.25 112.25h3.5v1.5h-3.5zM355.25 112.25h2.5v1.5h-2.5zM359.25 112.25h1.5v1.5h-1.5zM361.25 112.25h1.5v1.5h-1.5zM368.25 112.25h1.5v1.5h-1.5zM370.25 112.25h1.5v1.5h-1.5zM375.25 112.25h1.5v1.5h-1.5zM379.25 112.25h1.5v1.5h-1.5zM381.25 112.25h1.5v1.5h-1.5zM385.25 112.25h1.5v1.5h-1.5zM395.25 112.25h1.5v1.5h-1.5zM326.25 113.25h2.5v1.5h-2.5zM329.25 113.25h1.5v1.5h-1.5zM332.25 113.25h2.5v1.5h-2.5zM335.25 113.25h1.5v1.5h-1.5zM341.25 113.25h1.5v1.5h-1.5zM346.25 113.25h1.5v1.5h-1.5zM348.25 113.25h3.5v1.5h-3.5zM352.25 113.25h2.5v1.5h-2.5zM357.25 113.25h2.5v1.5h-2.5zM363.25 113.25h1.5v1.5h-1.5zM365.25 113.25h1.5v1.5h-1.5zM368.25 113.25h2.5v1.5h-2.5zM371.25 113.25h1.5v1.5h-1.5zM376.25 113.25h1.5v1.5h-1.5zM381.25 113.25h1.5v1.5h-1.5zM385.25 113.25h1.5v1.5h-1.5zM389.25 113.25h1.5v1.5h-1.5zM391.25 113.25h1.5v1.5h-1.5zM315.25 114.25h1.5v1.5h-1.5zM332.25 114.25h2.5v1.5h-2.5zM335.25 114.25h1.5v1.5h-1.5zM340.25 114.25h1.5v1.5h-1.5zM343.25 114.25h2.5v1.5h-2.5zM346.25 114.25h1.5v1.5h-1.5zM348.25 114.25h1.5v1.5h-1.5zM350.25 114.25h2.5v1.5h-2.5zM355.25 114.25h1.5v1.5h-1.5zM358.25 114.25h1.5v1.5h-1.5zM360.25 114.25h2.5v1.5h-2.5zM364.25 114.25h1.5v1.5h-1.5zM369.25 114.25h3.5v1.5h-3.5zM375.25 114.25h2.5v1.5h-2.5zM378.25 114.25h1.5v1.5h-1.5zM386.25 114.25h3.5v1.5h-3.5zM329.25 115.25h2.5v1.5h-2.5zM332.25 115.25h1.5v1.5h-1.5zM335.25 115.25h2.5v1.5h-2.5zM339.25 115.25h1.5v1.5h-1.5zM341.25 115.25h1.5v1.5h-1.5zM345.25 115.25h2.5v1.5h-2.5zM348.25 115.25h2.5v1.5h-2.5zM351.25 115.25h1.5v1.5h-1.5zM360.25 115.25h2.5v1.5h-2.5zM363.25 115.25h4.5v1.5h-4.5zM369.25 115.25h2.5v1.5h-2.5zM372.25 115.25h2.5v1.5h-2.5zM376.25 115.25h1.5v1.5h-1.5zM385.25 115.25h1.5v1.5h-1.5zM388.25 115.25h1.5v1.5h-1.5zM399.25 115.25h1.5v1.5h-1.5zM401.25 115.25h1.5v1.5h-1.5zM307.25 116.25h1.5v1.5h-1.5zM328.25 116.25h1.5v1.5h-1.5zM333.25 116.25h1.5v1.5h-1.5zM337.25 116.25h1.5v1.5h-1.5zM339.25 116.25h2.5v1.5h-2.5zM344.25 116.25h4.5v1.5h-4.5zM349.25 116.25h2.5v1.5h-2.5zM352.25 116.25h1.5v1.5h-1.5zM362.25 116.25h1.5v1.5h-1.5zM364.25 116.25h1.5v1.5h-1.5zM367.25 116.25h3.5v1.5h-3.5zM372.25 116.25h3.5v1.5h-3.5zM376.25 116.25h1.5v1.5h-1.5zM381.25 116.25h1.5v1.5h-1.5zM383.25 116.25h1.5v1.5h-1.5zM387.25 116.25h1.5v1.5h-1.5zM323.25 117.25h1.5v1.5h-1.5zM326.25 117.25h2.5v1.5h-2.5zM329.25 117.25h1.5v1.5h-1.5zM334.25 117.25h1.5v1.5h-1.5zM336.25 117.25h2.5v1.5h-2.5zM340.25 117.25h1.5v1.5h-1.5zM343.25 117.25h3.5v1.5h-3.5zM349.25 117.25h4.5v1.5h-4.5zM355.25 117.25h1.5v1.5h-1.5zM358.25 117.25h2.5v1.5h-2.5zM363.25 117.25h1.5v1.5h-1.5zM366.25 117.25h1.5v1.5h-1.5zM373.25 117.25h1.5v1.5h-1.5zM384.25 117.25h1.5v1.5h-1.5zM387.25 117.25h1.5v1.5h-1.5zM326.25 118.25h1.5v1.5h-1.5zM330.25 118.25h1.5v1.5h-1.5zM332.25 118.25h1.5v1.5h-1.5zM334.25 118.25h1.5v1.5h-1.5zM336.25 118.25h1.5v1.5h-1.5zM338.25 118.25h2.5v1.5h-2.5zM344.25 118.25h3.5v1.5h-3.5zM348.25 118.25h2.5v1.5h-2.5zM351.25 118.25h5.5v1.5h-5.5zM361.25 118.25h1.5v1.5h-1.5zM364.25 118.25h1.5v1.5h-1.5zM369.25 118.25h1.5v1.5h-1.5zM371.25 118.25h1.5v1.5h-1.5zM380.25 118.25h2.5v1.5h-2.5zM384.25 118.25h1.5v1.5h-1.5zM389.25 118.25h1.5v1.5h-1.5zM321.25 119.25h1.5v1.5h-1.5zM325.25 119.25h2.5v1.5h-2.5zM331.25 119.25h1.5v1.5h-1.5zM342.25 119.25h1.5v1.5h-1.5zM344.25 119.25h3.5v1.5h-3.5zM350.25 119.25h1.5v1.5h-1.5zM352.25 119.25h1.5v1.5h-1.5zM354.25 119.25h1.5v1.5h-1.5zM359.25 119.25h5.5v1.5h-5.5zM368.25 119.25h1.5v1.5h-1.5zM375.25 119.25h1.5v1.5h-1.5zM387.25 119.25h1.5v1.5h-1.5zM397.25 119.25h2.5v1.5h-2.5zM325.25 120.25h1.5v1.5h-1.5zM328.25 120.25h3.5v1.5h-3.5zM335.25 120.25h3.5v1.5h-3.5zM339.25 120.25h5.5v1.5h-5.5zM345.25 120.25h1.5v1.5h-1.5zM351.25 120.25h1.5v1.5h-1.5zM360.25 120.25h4.5v1.5h-4.5zM365.25 120.25h1.5v1.5h-1.5zM367.25 120.25h2.5v1.5h-2.5zM372.25 120.25h1.5v1.5h-1.5zM379.25 120.25h1.5v1.5h-1.5zM302.25 121.25h1.5v1.5h-1.5zM315.25 121.25h1.5v1.5h-1.5zM326.25 121.25h7.5v1.5h-7.5zM334.25 121.25h1.5v1.5h-1.5zM337.25 121.25h3.5v1.5h-3.5zM341.25 121.25h4.5v1.5h-4.5zM346.25 121.25h1.5v1.5h-1.5zM349.25 121.25h3.5v1.5h-3.5zM354.25 121.25h1.5v1.5h-1.5zM365.25 121.25h1.5v1.5h-1.5zM369.25 121.25h1.5v1.5h-1.5zM374.25 121.25h1.5v1.5h-1.5zM384.25 121.25h1.5v1.5h-1.5zM386.25 121.25h1.5v1.5h-1.5zM322.25 122.25h1.5v1.5h-1.5zM324.25 122.25h1.5v1.5h-1.5zM327.25 122.25h1.5v1.5h-1.5zM333.25 122.25h1.5v1.5h-1.5zM335.25 122.25h1.5v1.5h-1.5zM337.25 122.25h6.5v1.5h-6.5zM344.25 122.25h5.5v1.5h-5.5zM358.25 122.25h3.5v1.5h-3.5zM365.25 122.25h1.5v1.5h-1.5zM371.25 122.25h1.5v1.5h-1.5zM379.25 122.25h1.5v1.5h-1.5zM382.25 122.25h2.5v1.5h-2.5zM386.25 122.25h1.5v1.5h-1.5zM311.25 123.25h1.5v1.5h-1.5zM324.25 123.25h4.5v1.5h-4.5zM329.25 123.25h1.5v1.5h-1.5zM331.25 123.25h2.5v1.5h-2.5zM334.25 123.25h4.5v1.5h-4.5zM339.25 123.25h3.5v1.5h-3.5zM343.25 123.25h2.5v1.5h-2.5zM346.25 123.25h1.5v1.5h-1.5zM349.25 123.25h1.5v1.5h-1.5zM353.25 123.25h3.5v1.5h-3.5zM357.25 123.25h1.5v1.5h-1.5zM363.25 123.25h1.5v1.5h-1.5zM365.25 123.25h1.5v1.5h-1.5zM367.25 123.25h2.5v1.5h-2.5zM324.25 124.25h3.5v1.5h-3.5zM328.25 124.25h4.5v1.5h-4.5zM340.25 124.25h4.5v1.5h-4.5zM345.25 124.25h2.5v1.5h-2.5zM348.25 124.25h3.5v1.5h-3.5zM352.25 124.25h1.5v1.5h-1.5zM356.25 124.25h1.5v1.5h-1.5zM358.25 124.25h1.5v1.5h-1.5zM361.25 124.25h1.5v1.5h-1.5zM365.25 124.25h1.5v1.5h-1.5zM371.25 124.25h2.5v1.5h-2.5zM386.25 124.25h2.5v1.5h-2.5zM319.25 125.25h1.5v1.5h-1.5zM321.25 125.25h2.5v1.5h-2.5zM324.25 125.25h2.5v1.5h-2.5zM327.25 125.25h3.5v1.5h-3.5zM332.25 125.25h5.5v1.5h-5.5zM339.25 125.25h2.5v1.5h-2.5zM342.25 125.25h6.5v1.5h-6.5zM352.25 125.25h1.5v1.5h-1.5zM360.25 125.25h1.5v1.5h-1.5zM364.25 125.25h1.5v1.5h-1.5zM366.25 125.25h1.5v1.5h-1.5zM377.25 125.25h1.5v1.5h-1.5zM400.25 125.25h1.5v1.5h-1.5zM322.25 126.25h1.5v1.5h-1.5zM326.25 126.25h2.5v1.5h-2.5zM330.25 126.25h3.5v1.5h-3.5zM335.25 126.25h2.5v1.5h-2.5zM338.25 126.25h5.5v1.5h-5.5zM344.25 126.25h1.5v1.5h-1.5zM346.25 126.25h2.5v1.5h-2.5zM349.25 126.25h2.5v1.5h-2.5zM352.25 126.25h1.5v1.5h-1.5zM369.25 126.25h1.5v1.5h-1.5zM377.25 126.25h1.5v1.5h-1.5zM383.25 126.25h1.5v1.5h-1.5zM321.25 127.25h1.5v1.5h-1.5zM325.25 127.25h1.5v1.5h-1.5zM329.25 127.25h3.5v1.5h-3.5zM334.25 127.25h1.5v1.5h-1.5zM336.25 127.25h2.5v1.5h-2.5zM341.25 127.25h2.5v1.5h-2.5zM344.25 127.25h3.5v1.5h-3.5zM350.25 127.25h1.5v1.5h-1.5zM353.25 127.25h2.5v1.5h-2.5zM356.25 127.25h1.5v1.5h-1.5zM361.25 127.25h1.5v1.5h-1.5zM366.25 127.25h1.5v1.5h-1.5zM371.25 127.25h3.5v1.5h-3.5zM389.25 127.25h1.5v1.5h-1.5zM319.25 128.25h1.5v1.5h-1.5zM322.25 128.25h1.5v1.5h-1.5zM324.25 128.25h1.5v1.5h-1.5zM326.25 128.25h1.5v1.5h-1.5zM330.25 128.25h1.5v1.5h-1.5zM332.25 128.25h1.5v1.5h-1.5zM334.25 128.25h1.5v1.5h-1.5zM342.25 128.25h2.5v1.5h-2.5zM345.25 128.25h3.5v1.5h-3.5zM349.25 128.25h2.5v1.5h-2.5zM355.25 128.25h1.5v1.5h-1.5zM358.25 128.25h2.5v1.5h-2.5zM315.25 129.25h1.5v1.5h-1.5zM323.25 129.25h3.5v1.5h-3.5zM327.25 129.25h1.5v1.5h-1.5zM329.25 129.25h2.5v1.5h-2.5zM332.25 129.25h3.5v1.5h-3.5zM337.25 129.25h1.5v1.5h-1.5zM339.25 129.25h5.5v1.5h-5.5zM346.25 129.25h1.5v1.5h-1.5zM348.25 129.25h1.5v1.5h-1.5zM354.25 129.25h1.5v1.5h-1.5zM356.25 129.25h1.5v1.5h-1.5zM368.25 129.25h1.5v1.5h-1.5zM371.25 129.25h2.5v1.5h-2.5zM319.25 130.25h5.5v1.5h-5.5zM325.25 130.25h1.5v1.5h-1.5zM331.25 130.25h1.5v1.5h-1.5zM333.25 130.25h1.5v1.5h-1.5zM338.25 130.25h1.5v1.5h-1.5zM340.25 130.25h5.5v1.5h-5.5zM346.25 130.25h1.5v1.5h-1.5zM348.25 130.25h2.5v1.5h-2.5zM355.25 130.25h1.5v1.5h-1.5zM357.25 130.25h1.5v1.5h-1.5zM360.25 130.25h1.5v1.5h-1.5zM364.25 130.25h1.5v1.5h-1.5zM370.25 130.25h2.5v1.5h-2.5zM317.25 131.25h1.5v1.5h-1.5zM319.25 131.25h3.5v1.5h-3.5zM323.25 131.25h2.5v1.5h-2.5zM329.25 131.25h3.5v1.5h-3.5zM334.25 131.25h3.5v1.5h-3.5zM339.25 131.25h1.5v1.5h-1.5zM342.25 131.25h1.5v1.5h-1.5zM344.25 131.25h1.5v1.5h-1.5zM354.25 131.25h1.5v1.5h-1.5zM359.25 131.25h1.5v1.5h-1.5zM365.25 131.25h1.5v1.5h-1.5zM375.25 131.25h1.5v1.5h-1.5zM382.25 131.25h1.5v1.5h-1.5zM319.25 132.25h1.5v1.5h-1.5zM326.25 132.25h1.5v1.5h-1.5zM330.25 132.25h1.5v1.5h-1.5zM332.25 132.25h2.5v1.5h-2.5zM335.25 132.25h2.5v1.5h-2.5zM339.25 132.25h2.5v1.5h-2.5zM342.25 132.25h5.5v1.5h-5.5zM349.25 132.25h3.5v1.5h-3.5zM356.25 132.25h1.5v1.5h-1.5zM370.25 132.25h1.5v1.5h-1.5zM320.25 133.25h1.5v1.5h-1.5zM324.25 133.25h2.5v1.5h-2.5zM327.25 133.25h1.5v1.5h-1.5zM329.25 133.25h1.5v1.5h-1.5zM331.25 133.25h2.5v1.5h-2.5zM334.25 133.25h1.5v1.5h-1.5zM339.25 133.25h1.5v1.5h-1.5zM342.25 133.25h1.5v1.5h-1.5zM344.25 133.25h2.5v1.5h-2.5zM347.25 133.25h2.5v1.5h-2.5zM351.25 133.25h2.5v1.5h-2.5zM354.25 133.25h1.5v1.5h-1.5zM359.25 133.25h1.5v1.5h-1.5zM361.25 133.25h1.5v1.5h-1.5zM313.25 134.25h1.5v1.5h-1.5zM319.25 134.25h2.5v1.5h-2.5zM323.25 134.25h4.5v1.5h-4.5zM329.25 134.25h1.5v1.5h-1.5zM332.25 134.25h2.5v1.5h-2.5zM335.25 134.25h4.5v1.5h-4.5zM341.25 134.25h3.5v1.5h-3.5zM345.25 134.25h7.5v1.5h-7.5zM357.25 134.25h1.5v1.5h-1.5zM362.25 134.25h1.5v1.5h-1.5zM368.25 134.25h1.5v1.5h-1.5zM382.25 134.25h1.5v1.5h-1.5zM316.25 135.25h1.5v1.5h-1.5zM321.25 135.25h2.5v1.5h-2.5zM325.25 135.25h3.5v1.5h-3.5zM330.25 135.25h3.5v1.5h-3.5zM335.25 135.25h1.5v1.5h-1.5zM337.25 135.25h1.5v1.5h-1.5zM341.25 135.25h1.5v1.5h-1.5zM343.25 135.25h1.5v1.5h-1.5zM351.25 135.25h2.5v1.5h-2.5zM317.25 136.25h1.5v1.5h-1.5zM319.25 136.25h1.5v1.5h-1.5zM322.25 136.25h1.5v1.5h-1.5zM325.25 136.25h1.5v1.5h-1.5zM327.25 136.25h2.5v1.5h-2.5zM330.25 136.25h3.5v1.5h-3.5zM334.25 136.25h3.5v1.5h-3.5zM338.25 136.25h3.5v1.5h-3.5zM342.25 136.25h2.5v1.5h-2.5zM347.25 136.25h1.5v1.5h-1.5zM349.25 136.25h1.5v1.5h-1.5zM351.25 136.25h1.5v1.5h-1.5zM357.25 136.25h1.5v1.5h-1.5zM362.25 136.25h1.5v1.5h-1.5zM365.25 136.25h1.5v1.5h-1.5zM379.25 136.25h1.5v1.5h-1.5zM312.25 137.25h3.5v1.5h-3.5zM316.25 137.25h4.5v1.5h-4.5zM322.25 137.25h1.5v1.5h-1.5zM324.25 137.25h6.5v1.5h-6.5zM331.25 137.25h1.5v1.5h-1.5zM333.25 137.25h4.5v1.5h-4.5zM341.25 137.25h2.5v1.5h-2.5zM345.25 137.25h2.5v1.5h-2.5zM348.25 137.25h3.5v1.5h-3.5zM352.25 137.25h2.5v1.5h-2.5zM358.25 137.25h1.5v1.5h-1.5zM366.25 137.25h1.5v1.5h-1.5zM317.25 138.25h1.5v1.5h-1.5zM319.25 138.25h1.5v1.5h-1.5zM322.25 138.25h1.5v1.5h-1.5zM325.25 138.25h2.5v1.5h-2.5zM329.25 138.25h1.5v1.5h-1.5zM332.25 138.25h2.5v1.5h-2.5zM336.25 138.25h2.5v1.5h-2.5zM339.25 138.25h2.5v1.5h-2.5zM346.25 138.25h2.5v1.5h-2.5zM351.25 138.25h1.5v1.5h-1.5zM356.25 138.25h1.5v1.5h-1.5zM360.25 138.25h1.5v1.5h-1.5zM366.25 138.25h1.5v1.5h-1.5zM370.25 138.25h2.5v1.5h-2.5zM310.25 139.25h1.5v1.5h-1.5zM312.25 139.25h2.5v1.5h-2.5zM325.25 139.25h1.5v1.5h-1.5zM328.25 139.25h1.5v1.5h-1.5zM330.25 139.25h1.5v1.5h-1.5zM333.25 139.25h4.5v1.5h-4.5zM341.25 139.25h1.5v1.5h-1.5zM343.25 139.25h1.5v1.5h-1.5zM345.25 139.25h3.5v1.5h-3.5zM351.25 139.25h2.5v1.5h-2.5zM314.25 140.25h1.5v1.5h-1.5zM316.25 140.25h2.5v1.5h-2.5zM320.25 140.25h2.5v1.5h-2.5zM323.25 140.25h2.5v1.5h-2.5zM327.25 140.25h1.5v1.5h-1.5zM329.25 140.25h2.5v1.5h-2.5zM332.25 140.25h1.5v1.5h-1.5zM335.25 140.25h2.5v1.5h-2.5zM340.25 140.25h4.5v1.5h-4.5zM345.25 140.25h1.5v1.5h-1.5zM347.25 140.25h2.5v1.5h-2.5zM351.25 140.25h1.5v1.5h-1.5zM359.25 140.25h1.5v1.5h-1.5zM380.25 140.25h1.5v1.5h-1.5zM318.25 141.25h1.5v1.5h-1.5zM324.25 141.25h1.5v1.5h-1.5zM328.25 141.25h1.5v1.5h-1.5zM330.25 141.25h2.5v1.5h-2.5zM334.25 141.25h3.5v1.5h-3.5zM340.25 141.25h1.5v1.5h-1.5zM342.25 141.25h1.5v1.5h-1.5zM344.25 141.25h1.5v1.5h-1.5zM349.25 141.25h2.5v1.5h-2.5zM360.25 141.25h1.5v1.5h-1.5zM362.25 141.25h1.5v1.5h-1.5zM384.25 141.25h1.5v1.5h-1.5zM315.25 142.25h2.5v1.5h-2.5zM319.25 142.25h1.5v1.5h-1.5zM321.25 142.25h2.5v1.5h-2.5zM324.25 142.25h1.5v1.5h-1.5zM326.25 142.25h3.5v1.5h-3.5zM331.25 142.25h2.5v1.5h-2.5zM334.25 142.25h2.5v1.5h-2.5zM338.25 142.25h1.5v1.5h-1.5zM343.25 142.25h1.5v1.5h-1.5zM345.25 142.25h2.5v1.5h-2.5zM350.25 142.25h4.5v1.5h-4.5zM363.25 142.25h1.5v1.5h-1.5zM370.25 142.25h1.5v1.5h-1.5zM380.25 142.25h1.5v1.5h-1.5zM310.25 143.25h1.5v1.5h-1.5zM317.25 143.25h4.5v1.5h-4.5zM322.25 143.25h1.5v1.5h-1.5zM326.25 143.25h1.5v1.5h-1.5zM328.25 143.25h3.5v1.5h-3.5zM336.25 143.25h1.5v1.5h-1.5zM340.25 143.25h2.5v1.5h-2.5zM345.25 143.25h4.5v1.5h-4.5zM352.25 143.25h1.5v1.5h-1.5zM357.25 143.25h1.5v1.5h-1.5zM317.25 144.25h3.5v1.5h-3.5zM322.25 144.25h3.5v1.5h-3.5zM326.25 144.25h2.5v1.5h-2.5zM329.25 144.25h1.5v1.5h-1.5zM331.25 144.25h2.5v1.5h-2.5zM335.25 144.25h1.5v1.5h-1.5zM338.25 144.25h1.5v1.5h-1.5zM340.25 144.25h2.5v1.5h-2.5zM344.25 144.25h1.5v1.5h-1.5zM347.25 144.25h1.5v1.5h-1.5zM349.25 144.25h1.5v1.5h-1.5zM352.25 144.25h2.5v1.5h-2.5zM357.25 144.25h1.5v1.5h-1.5zM362.25 144.25h1.5v1.5h-1.5zM364.25 144.25h1.5v1.5h-1.5zM317.25 145.25h1.5v1.5h-1.5zM319.25 145.25h3.5v1.5h-3.5zM325.25 145.25h1.5v1.5h-1.5zM329.25 145.25h3.5v1.5h-3.5zM333.25 145.25h3.5v1.5h-3.5zM340.25 145.25h1.5v1.5h-1.5zM342.25 145.25h2.5v1.5h-2.5zM345.25 145.25h1.5v1.5h-1.5zM354.25 145.25h1.5v1.5h-1.5zM360.25 145.25h1.5v1.5h-1.5zM362.25 145.25h1.5v1.5h-1.5zM365.25 145.25h1.5v1.5h-1.5zM370.25 145.25h1.5v1.5h-1.5zM316.25 146.25h1.5v1.5h-1.5zM319.25 146.25h2.5v1.5h-2.5zM323.25 146.25h1.5v1.5h-1.5zM328.25 146.25h8.5v1.5h-8.5zM337.25 146.25h4.5v1.5h-4.5zM345.25 146.25h1.5v1.5h-1.5zM351.25 146.25h1.5v1.5h-1.5zM378.25 146.25h1.5v1.5h-1.5zM310.25 147.25h1.5v1.5h-1.5zM316.25 147.25h3.5v1.5h-3.5zM320.25 147.25h3.5v1.5h-3.5zM325.25 147.25h1.5v1.5h-1.5zM328.25 147.25h1.5v1.5h-1.5zM330.25 147.25h1.5v1.5h-1.5zM332.25 147.25h2.5v1.5h-2.5zM336.25 147.25h1.5v1.5h-1.5zM345.25 147.25h1.5v1.5h-1.5zM348.25 147.25h2.5v1.5h-2.5zM351.25 147.25h2.5v1.5h-2.5zM355.25 147.25h2.5v1.5h-2.5zM358.25 147.25h2.5v1.5h-2.5zM311.25 148.25h1.5v1.5h-1.5zM315.25 148.25h1.5v1.5h-1.5zM317.25 148.25h1.5v1.5h-1.5zM320.25 148.25h1.5v1.5h-1.5zM323.25 148.25h2.5v1.5h-2.5zM326.25 148.25h3.5v1.5h-3.5zM330.25 148.25h5.5v1.5h-5.5zM336.25 148.25h1.5v1.5h-1.5zM338.25 148.25h5.5v1.5h-5.5zM345.25 148.25h1.5v1.5h-1.5zM349.25 148.25h1.5v1.5h-1.5zM352.25 148.25h1.5v1.5h-1.5zM359.25 148.25h1.5v1.5h-1.5zM361.25 148.25h2.5v1.5h-2.5zM369.25 148.25h1.5v1.5h-1.5zM381.25 148.25h1.5v1.5h-1.5zM312.25 149.25h1.5v1.5h-1.5zM315.25 149.25h2.5v1.5h-2.5zM319.25 149.25h2.5v1.5h-2.5zM322.25 149.25h2.5v1.5h-2.5zM327.25 149.25h1.5v1.5h-1.5zM329.25 149.25h1.5v1.5h-1.5zM332.25 149.25h3.5v1.5h-3.5zM336.25 149.25h3.5v1.5h-3.5zM341.25 149.25h1.5v1.5h-1.5zM344.25 149.25h1.5v1.5h-1.5zM347.25 149.25h3.5v1.5h-3.5zM313.25 150.25h1.5v1.5h-1.5zM316.25 150.25h2.5v1.5h-2.5zM322.25 150.25h1.5v1.5h-1.5zM327.25 150.25h2.5v1.5h-2.5zM330.25 150.25h2.5v1.5h-2.5zM334.25 150.25h2.5v1.5h-2.5zM339.25 150.25h1.5v1.5h-1.5zM342.25 150.25h1.5v1.5h-1.5zM344.25 150.25h2.5v1.5h-2.5zM351.25 150.25h2.5v1.5h-2.5zM355.25 150.25h1.5v1.5h-1.5zM391.25 150.25h1.5v1.5h-1.5zM315.25 151.25h4.5v1.5h-4.5zM320.25 151.25h1.5v1.5h-1.5zM322.25 151.25h1.5v1.5h-1.5zM324.25 151.25h1.5v1.5h-1.5zM326.25 151.25h1.5v1.5h-1.5zM329.25 151.25h1.5v1.5h-1.5zM331.25 151.25h1.5v1.5h-1.5zM333.25 151.25h1.5v1.5h-1.5zM336.25 151.25h2.5v1.5h-2.5zM340.25 151.25h1.5v1.5h-1.5zM342.25 151.25h1.5v1.5h-1.5zM344.25 151.25h1.5v1.5h-1.5zM353.25 151.25h1.5v1.5h-1.5zM361.25 151.25h1.5v1.5h-1.5zM364.25 151.25h1.5v1.5h-1.5zM369.25 151.25h1.5v1.5h-1.5zM315.25 152.25h1.5v1.5h-1.5zM318.25 152.25h1.5v1.5h-1.5zM321.25 152.25h1.5v1.5h-1.5zM323.25 152.25h4.5v1.5h-4.5zM329.25 152.25h1.5v1.5h-1.5zM331.25 152.25h1.5v1.5h-1.5zM333.25 152.25h1.5v1.5h-1.5zM336.25 152.25h1.5v1.5h-1.5zM338.25 152.25h1.5v1.5h-1.5zM344.25 152.25h2.5v1.5h-2.5zM355.25 152.25h1.5v1.5h-1.5zM358.25 152.25h1.5v1.5h-1.5zM369.25 152.25h1.5v1.5h-1.5zM313.25 153.25h1.5v1.5h-1.5zM316.25 153.25h1.5v1.5h-1.5zM318.25 153.25h4.5v1.5h-4.5zM328.25 153.25h3.5v1.5h-3.5zM332.25 153.25h1.5v1.5h-1.5zM334.25 153.25h1.5v1.5h-1.5zM336.25 153.25h2.5v1.5h-2.5zM339.25 153.25h1.5v1.5h-1.5zM347.25 153.25h1.5v1.5h-1.5zM350.25 153.25h1.5v1.5h-1.5zM316.25 154.25h2.5v1.5h-2.5zM319.25 154.25h1.5v1.5h-1.5zM321.25 154.25h2.5v1.5h-2.5zM327.25 154.25h4.5v1.5h-4.5zM332.25 154.25h4.5v1.5h-4.5zM337.25 154.25h1.5v1.5h-1.5zM341.25 154.25h1.5v1.5h-1.5zM343.25 154.25h1.5v1.5h-1.5zM347.25 154.25h1.5v1.5h-1.5zM349.25 154.25h1.5v1.5h-1.5zM357.25 154.25h1.5v1.5h-1.5zM361.25 154.25h1.5v1.5h-1.5zM363.25 154.25h1.5v1.5h-1.5zM369.25 154.25h1.5v1.5h-1.5zM381.25 154.25h1.5v1.5h-1.5zM304.25 155.25h1.5v1.5h-1.5zM312.25 155.25h1.5v1.5h-1.5zM314.25 155.25h1.5v1.5h-1.5zM316.25 155.25h3.5v1.5h-3.5zM321.25 155.25h2.5v1.5h-2.5zM325.25 155.25h2.5v1.5h-2.5zM329.25 155.25h2.5v1.5h-2.5zM333.25 155.25h2.5v1.5h-2.5zM337.25 155.25h1.5v1.5h-1.5zM340.25 155.25h3.5v1.5h-3.5zM344.25 155.25h3.5v1.5h-3.5zM348.25 155.25h1.5v1.5h-1.5zM350.25 155.25h1.5v1.5h-1.5zM357.25 155.25h2.5v1.5h-2.5zM361.25 155.25h1.5v1.5h-1.5zM364.25 155.25h1.5v1.5h-1.5zM368.25 155.25h1.5v1.5h-1.5zM388.25 155.25h1.5v1.5h-1.5zM317.25 156.25h1.5v1.5h-1.5zM319.25 156.25h1.5v1.5h-1.5zM322.25 156.25h3.5v1.5h-3.5zM327.25 156.25h2.5v1.5h-2.5zM330.25 156.25h6.5v1.5h-6.5zM337.25 156.25h3.5v1.5h-3.5zM342.25 156.25h2.5v1.5h-2.5zM346.25 156.25h1.5v1.5h-1.5zM352.25 156.25h1.5v1.5h-1.5zM355.25 156.25h1.5v1.5h-1.5zM364.25 156.25h1.5v1.5h-1.5zM367.25 156.25h1.5v1.5h-1.5zM369.25 156.25h1.5v1.5h-1.5zM288.25 157.25h1.5v1.5h-1.5zM312.25 157.25h1.5v1.5h-1.5zM314.25 157.25h1.5v1.5h-1.5zM318.25 157.25h3.5v1.5h-3.5zM323.25 157.25h2.5v1.5h-2.5zM329.25 157.25h3.5v1.5h-3.5zM333.25 157.25h3.5v1.5h-3.5zM338.25 157.25h1.5v1.5h-1.5zM340.25 157.25h1.5v1.5h-1.5zM348.25 157.25h1.5v1.5h-1.5zM353.25 157.25h1.5v1.5h-1.5zM362.25 157.25h1.5v1.5h-1.5zM364.25 157.25h1.5v1.5h-1.5zM368.25 157.25h1.5v1.5h-1.5zM370.25 157.25h2.5v1.5h-2.5zM306.25 158.25h1.5v1.5h-1.5zM313.25 158.25h1.5v1.5h-1.5zM318.25 158.25h1.5v1.5h-1.5zM323.25 158.25h2.5v1.5h-2.5zM330.25 158.25h2.5v1.5h-2.5zM333.25 158.25h1.5v1.5h-1.5zM336.25 158.25h1.5v1.5h-1.5zM339.25 158.25h1.5v1.5h-1.5zM342.25 158.25h4.5v1.5h-4.5zM351.25 158.25h1.5v1.5h-1.5zM356.25 158.25h1.5v1.5h-1.5zM361.25 158.25h1.5v1.5h-1.5zM363.25 158.25h2.5v1.5h-2.5zM289.25 159.25h1.5v1.5h-1.5zM297.25 159.25h1.5v1.5h-1.5zM303.25 159.25h1.5v1.5h-1.5zM315.25 159.25h1.5v1.5h-1.5zM317.25 159.25h1.5v1.5h-1.5zM319.25 159.25h4.5v1.5h-4.5zM325.25 159.25h1.5v1.5h-1.5zM327.25 159.25h1.5v1.5h-1.5zM331.25 159.25h3.5v1.5h-3.5zM338.25 159.25h1.5v1.5h-1.5zM343.25 159.25h1.5v1.5h-1.5zM346.25 159.25h1.5v1.5h-1.5zM348.25 159.25h1.5v1.5h-1.5zM358.25 159.25h1.5v1.5h-1.5zM360.25 159.25h1.5v1.5h-1.5zM365.25 159.25h1.5v1.5h-1.5zM289.25 160.25h1.5v1.5h-1.5zM302.25 160.25h1.5v1.5h-1.5zM308.25 160.25h1.5v1.5h-1.5zM317.25 160.25h1.5v1.5h-1.5zM319.25 160.25h1.5v1.5h-1.5zM321.25 160.25h1.5v1.5h-1.5zM323.25 160.25h1.5v1.5h-1.5zM326.25 160.25h1.5v1.5h-1.5zM331.25 160.25h1.5v1.5h-1.5zM333.25 160.25h1.5v1.5h-1.5zM337.25 160.25h2.5v1.5h-2.5zM341.25 160.25h2.5v1.5h-2.5zM345.25 160.25h3.5v1.5h-3.5zM353.25 160.25h1.5v1.5h-1.5zM364.25 160.25h1.5v1.5h-1.5zM369.25 160.25h1.5v1.5h-1.5zM374.25 160.25h1.5v1.5h-1.5zM379.25 160.25h1.5v1.5h-1.5zM381.25 160.25h1.5v1.5h-1.5zM316.25 161.25h1.5v1.5h-1.5zM319.25 161.25h1.5v1.5h-1.5zM321.25 161.25h3.5v1.5h-3.5zM325.25 161.25h4.5v1.5h-4.5zM330.25 161.25h1.5v1.5h-1.5zM334.25 161.25h1.5v1.5h-1.5zM337.25 161.25h1.5v1.5h-1.5zM339.25 161.25h1.5v1.5h-1.5zM344.25 161.25h1.5v1.5h-1.5zM346.25 161.25h3.5v1.5h-3.5zM369.25 161.25h1.5v1.5h-1.5zM373.25 161.25h1.5v1.5h-1.5zM307.25 162.25h1.5v1.5h-1.5zM309.25 162.25h1.5v1.5h-1.5zM311.25 162.25h2.5v1.5h-2.5zM320.25 162.25h1.5v1.5h-1.5zM322.25 162.25h1.5v1.5h-1.5zM324.25 162.25h3.5v1.5h-3.5zM328.25 162.25h1.5v1.5h-1.5zM330.25 162.25h1.5v1.5h-1.5zM335.25 162.25h1.5v1.5h-1.5zM339.25 162.25h2.5v1.5h-2.5zM343.25 162.25h1.5v1.5h-1.5zM353.25 162.25h2.5v1.5h-2.5zM360.25 162.25h2.5v1.5h-2.5zM363.25 162.25h1.5v1.5h-1.5zM373.25 162.25h1.5v1.5h-1.5zM376.25 162.25h1.5v1.5h-1.5zM299.25 163.25h1.5v1.5h-1.5zM303.25 163.25h1.5v1.5h-1.5zM311.25 163.25h2.5v1.5h-2.5zM316.25 163.25h1.5v1.5h-1.5zM320.25 163.25h4.5v1.5h-4.5zM326.25 163.25h3.5v1.5h-3.5zM333.25 163.25h2.5v1.5h-2.5zM338.25 163.25h1.5v1.5h-1.5zM342.25 163.25h2.5v1.5h-2.5zM347.25 163.25h1.5v1.5h-1.5zM349.25 163.25h1.5v1.5h-1.5zM356.25 163.25h3.5v1.5h-3.5zM363.25 163.25h1.5v1.5h-1.5zM365.25 163.25h1.5v1.5h-1.5zM369.25 163.25h1.5v1.5h-1.5zM300.25 164.25h1.5v1.5h-1.5zM307.25 164.25h1.5v1.5h-1.5zM315.25 164.25h2.5v1.5h-2.5zM318.25 164.25h1.5v1.5h-1.5zM323.25 164.25h3.5v1.5h-3.5zM327.25 164.25h3.5v1.5h-3.5zM331.25 164.25h1.5v1.5h-1.5zM333.25 164.25h1.5v1.5h-1.5zM335.25 164.25h2.5v1.5h-2.5zM342.25 164.25h2.5v1.5h-2.5zM345.25 164.25h1.5v1.5h-1.5zM347.25 164.25h1.5v1.5h-1.5zM351.25 164.25h1.5v1.5h-1.5zM354.25 164.25h1.5v1.5h-1.5zM356.25 164.25h2.5v1.5h-2.5zM360.25 164.25h2.5v1.5h-2.5zM371.25 164.25h1.5v1.5h-1.5zM293.25 165.25h1.5v1.5h-1.5zM303.25 165.25h1.5v1.5h-1.5zM307.25 165.25h1.5v1.5h-1.5zM316.25 165.25h5.5v1.5h-5.5zM322.25 165.25h1.5v1.5h-1.5zM325.25 165.25h2.5v1.5h-2.5zM329.25 165.25h2.5v1.5h-2.5zM332.25 165.25h4.5v1.5h-4.5zM341.25 165.25h1.5v1.5h-1.5zM351.25 165.25h1.5v1.5h-1.5zM354.25 165.25h1.5v1.5h-1.5zM358.25 165.25h1.5v1.5h-1.5zM362.25 165.25h1.5v1.5h-1.5zM369.25 165.25h1.5v1.5h-1.5zM372.25 165.25h2.5v1.5h-2.5zM289.25 166.25h1.5v1.5h-1.5zM300.25 166.25h1.5v1.5h-1.5zM306.25 166.25h1.5v1.5h-1.5zM308.25 166.25h1.5v1.5h-1.5zM311.25 166.25h1.5v1.5h-1.5zM313.25 166.25h2.5v1.5h-2.5zM316.25 166.25h1.5v1.5h-1.5zM321.25 166.25h1.5v1.5h-1.5zM323.25 166.25h1.5v1.5h-1.5zM325.25 166.25h1.5v1.5h-1.5zM327.25 166.25h1.5v1.5h-1.5zM330.25 166.25h1.5v1.5h-1.5zM334.25 166.25h1.5v1.5h-1.5zM336.25 166.25h1.5v1.5h-1.5zM340.25 166.25h1.5v1.5h-1.5zM343.25 166.25h2.5v1.5h-2.5zM346.25 166.25h1.5v1.5h-1.5zM350.25 166.25h2.5v1.5h-2.5zM354.25 166.25h1.5v1.5h-1.5zM357.25 166.25h1.5v1.5h-1.5zM363.25 166.25h2.5v1.5h-2.5zM366.25 166.25h2.5v1.5h-2.5zM303.25 167.25h1.5v1.5h-1.5zM309.25 167.25h2.5v1.5h-2.5zM316.25 167.25h2.5v1.5h-2.5zM319.25 167.25h1.5v1.5h-1.5zM325.25 167.25h1.5v1.5h-1.5zM327.25 167.25h2.5v1.5h-2.5zM330.25 167.25h2.5v1.5h-2.5zM337.25 167.25h1.5v1.5h-1.5zM341.25 167.25h2.5v1.5h-2.5zM345.25 167.25h1.5v1.5h-1.5zM354.25 167.25h1.5v1.5h-1.5zM357.25 167.25h1.5v1.5h-1.5zM371.25 167.25h1.5v1.5h-1.5zM373.25 167.25h1.5v1.5h-1.5zM291.25 168.25h1.5v1.5h-1.5zM307.25 168.25h1.5v1.5h-1.5zM309.25 168.25h3.5v1.5h-3.5zM315.25 168.25h1.5v1.5h-1.5zM317.25 168.25h2.5v1.5h-2.5zM322.25 168.25h1.5v1.5h-1.5zM324.25 168.25h3.5v1.5h-3.5zM330.25 168.25h2.5v1.5h-2.5zM334.25 168.25h1.5v1.5h-1.5zM336.25 168.25h1.5v1.5h-1.5zM339.25 168.25h1.5v1.5h-1.5zM342.25 168.25h1.5v1.5h-1.5zM356.25 168.25h1.5v1.5h-1.5zM358.25 168.25h1.5v1.5h-1.5zM377.25 168.25h1.5v1.5h-1.5zM386.25 168.25h1.5v1.5h-1.5zM291.25 169.25h1.5v1.5h-1.5zM297.25 169.25h1.5v1.5h-1.5zM303.25 169.25h1.5v1.5h-1.5zM310.25 169.25h3.5v1.5h-3.5zM316.25 169.25h2.5v1.5h-2.5zM320.25 169.25h1.5v1.5h-1.5zM323.25 169.25h4.5v1.5h-4.5zM328.25 169.25h1.5v1.5h-1.5zM330.25 169.25h2.5v1.5h-2.5zM333.25 169.25h1.5v1.5h-1.5zM337.25 169.25h1.5v1.5h-1.5zM340.25 169.25h1.5v1.5h-1.5zM348.25 169.25h3.5v1.5h-3.5zM355.25 169.25h1.5v1.5h-1.5zM361.25 169.25h1.5v1.5h-1.5zM391.25 169.25h1.5v1.5h-1.5zM287.25 170.25h1.5v1.5h-1.5zM292.25 170.25h1.5v1.5h-1.5zM304.25 170.25h1.5v1.5h-1.5zM306.25 170.25h1.5v1.5h-1.5zM308.25 170.25h1.5v1.5h-1.5zM310.25 170.25h5.5v1.5h-5.5zM316.25 170.25h9.5v1.5h-9.5zM326.25 170.25h1.5v1.5h-1.5zM333.25 170.25h1.5v1.5h-1.5zM335.25 170.25h1.5v1.5h-1.5zM341.25 170.25h1.5v1.5h-1.5zM345.25 170.25h2.5v1.5h-2.5zM363.25 170.25h2.5v1.5h-2.5zM370.25 170.25h1.5v1.5h-1.5zM379.25 170.25h1.5v1.5h-1.5zM304.25 171.25h1.5v1.5h-1.5zM307.25 171.25h17.5v1.5h-17.5zM326.25 171.25h1.5v1.5h-1.5zM330.25 171.25h1.5v1.5h-1.5zM333.25 171.25h1.5v1.5h-1.5zM338.25 171.25h1.5v1.5h-1.5zM341.25 171.25h1.5v1.5h-1.5zM349.25 171.25h1.5v1.5h-1.5zM351.25 171.25h1.5v1.5h-1.5zM359.25 171.25h1.5v1.5h-1.5zM365.25 171.25h1.5v1.5h-1.5zM373.25 171.25h1.5v1.5h-1.5zM299.25 172.25h3.5v1.5h-3.5zM307.25 172.25h2.5v1.5h-2.5zM310.25 172.25h18.5v1.5h-18.5zM329.25 172.25h2.5v1.5h-2.5zM334.25 172.25h2.5v1.5h-2.5zM337.25 172.25h1.5v1.5h-1.5zM351.25 172.25h1.5v1.5h-1.5zM355.25 172.25h1.5v1.5h-1.5zM357.25 172.25h1.5v1.5h-1.5zM361.25 172.25h1.5v1.5h-1.5zM363.25 172.25h1.5v1.5h-1.5zM307.25 173.25h1.5v1.5h-1.5zM309.25 173.25h19.5v1.5h-19.5zM330.25 173.25h4.5v1.5h-4.5zM335.25 173.25h1.5v1.5h-1.5zM340.25 173.25h2.5v1.5h-2.5zM346.25 173.25h1.5v1.5h-1.5zM356.25 173.25h1.5v1.5h-1.5zM358.25 173.25h1.5v1.5h-1.5zM361.25 173.25h1.5v1.5h-1.5zM363.25 173.25h1.5v1.5h-1.5zM374.25 173.25h1.5v1.5h-1.5zM388.25 173.25h1.5v1.5h-1.5zM399.25 173.25h1.5v1.5h-1.5zM299.25 174.25h1.5v1.5h-1.5zM303.25 174.25h1.5v1.5h-1.5zM305.25 174.25h2.5v1.5h-2.5zM308.25 174.25h20.5v1.5h-20.5zM329.25 174.25h1.5v1.5h-1.5zM332.25 174.25h3.5v1.5h-3.5zM344.25 174.25h2.5v1.5h-2.5zM348.25 174.25h1.5v1.5h-1.5zM353.25 174.25h1.5v1.5h-1.5zM355.25 174.25h1.5v1.5h-1.5zM358.25 174.25h2.5v1.5h-2.5zM369.25 174.25h1.5v1.5h-1.5zM374.25 174.25h1.5v1.5h-1.5zM301.25 175.25h1.5v1.5h-1.5zM303.25 175.25h1.5v1.5h-1.5zM305.25 175.25h2.5v1.5h-2.5zM308.25 175.25h25.5v1.5h-25.5zM334.25 175.25h1.5v1.5h-1.5zM337.25 175.25h1.5v1.5h-1.5zM345.25 175.25h1.5v1.5h-1.5zM353.25 175.25h1.5v1.5h-1.5zM363.25 175.25h1.5v1.5h-1.5zM386.25 175.25h1.5v1.5h-1.5zM303.25 176.25h1.5v1.5h-1.5zM305.25 176.25h30.5v1.5h-30.5zM342.25 176.25h1.5v1.5h-1.5zM346.25 176.25h3.5v1.5h-3.5zM351.25 176.25h1.5v1.5h-1.5zM356.25 176.25h2.5v1.5h-2.5zM368.25 176.25h1.5v1.5h-1.5zM292.25 177.25h1.5v1.5h-1.5zM304.25 177.25h29.5v1.5h-29.5zM334.25 177.25h2.5v1.5h-2.5zM339.25 177.25h1.5v1.5h-1.5zM347.25 177.25h1.5v1.5h-1.5zM350.25 177.25h1.5v1.5h-1.5zM359.25 177.25h1.5v1.5h-1.5zM362.25 177.25h1.5v1.5h-1.5zM303.25 178.25h28.5v1.5h-28.5zM332.25 178.25h2.5v1.5h-2.5zM338.25 178.25h1.5v1.5h-1.5zM344.25 178.25h2.5v1.5h-2.5zM348.25 178.25h3.5v1.5h-3.5zM352.25 178.25h1.5v1.5h-1.5zM357.25 178.25h1.5v1.5h-1.5zM362.25 178.25h1.5v1.5h-1.5zM364.25 178.25h1.5v1.5h-1.5zM367.25 178.25h2.5v1.5h-2.5zM376.25 178.25h1.5v1.5h-1.5zM290.25 179.25h1.5v1.5h-1.5zM294.25 179.25h1.5v1.5h-1.5zM298.25 179.25h1.5v1.5h-1.5zM301.25 179.25h32.5v1.5h-32.5zM334.25 179.25h1.5v1.5h-1.5zM336.25 179.25h1.5v1.5h-1.5zM344.25 179.25h1.5v1.5h-1.5zM348.25 179.25h2.5v1.5h-2.5zM353.25 179.25h1.5v1.5h-1.5zM355.25 179.25h1.5v1.5h-1.5zM360.25 179.25h1.5v1.5h-1.5zM364.25 179.25h3.5v1.5h-3.5zM298.25 180.25h2.5v1.5h-2.5zM301.25 180.25h33.5v1.5h-33.5zM335.25 180.25h3.5v1.5h-3.5zM341.25 180.25h3.5v1.5h-3.5zM346.25 180.25h1.5v1.5h-1.5zM349.25 180.25h1.5v1.5h-1.5zM353.25 180.25h1.5v1.5h-1.5zM364.25 180.25h2.5v1.5h-2.5zM372.25 180.25h1.5v1.5h-1.5zM291.25 181.25h1.5v1.5h-1.5zM302.25 181.25h1.5v1.5h-1.5zM304.25 181.25h29.5v1.5h-29.5zM334.25 181.25h2.5v1.5h-2.5zM338.25 181.25h2.5v1.5h-2.5zM344.25 181.25h1.5v1.5h-1.5zM346.25 181.25h1.5v1.5h-1.5zM349.25 181.25h3.5v1.5h-3.5zM361.25 181.25h1.5v1.5h-1.5zM368.25 181.25h1.5v1.5h-1.5zM375.25 181.25h1.5v1.5h-1.5zM389.25 181.25h1.5v1.5h-1.5zM288.25 182.25h2.5v1.5h-2.5zM292.25 182.25h1.5v1.5h-1.5zM295.25 182.25h1.5v1.5h-1.5zM299.25 182.25h1.5v1.5h-1.5zM301.25 182.25h2.5v1.5h-2.5zM305.25 182.25h28.5v1.5h-28.5zM335.25 182.25h1.5v1.5h-1.5zM342.25 182.25h1.5v1.5h-1.5zM346.25 182.25h1.5v1.5h-1.5zM351.25 182.25h2.5v1.5h-2.5zM358.25 182.25h1.5v1.5h-1.5zM368.25 182.25h1.5v1.5h-1.5zM374.25 182.25h1.5v1.5h-1.5zM296.25 183.25h1.5v1.5h-1.5zM298.25 183.25h3.5v1.5h-3.5zM303.25 183.25h29.5v1.5h-29.5zM333.25 183.25h3.5v1.5h-3.5zM337.25 183.25h4.5v1.5h-4.5zM346.25 183.25h1.5v1.5h-1.5zM348.25 183.25h1.5v1.5h-1.5zM350.25 183.25h1.5v1.5h-1.5zM355.25 183.25h2.5v1.5h-2.5zM360.25 183.25h1.5v1.5h-1.5zM367.25 183.25h2.5v1.5h-2.5zM372.25 183.25h1.5v1.5h-1.5zM297.25 184.25h1.5v1.5h-1.5zM299.25 184.25h1.5v1.5h-1.5zM301.25 184.25h1.5v1.5h-1.5zM303.25 184.25h2.5v1.5h-2.5zM306.25 184.25h28.5v1.5h-28.5zM335.25 184.25h1.5v1.5h-1.5zM341.25 184.25h1.5v1.5h-1.5zM347.25 184.25h2.5v1.5h-2.5zM351.25 184.25h1.5v1.5h-1.5zM354.25 184.25h1.5v1.5h-1.5zM360.25 184.25h2.5v1.5h-2.5zM369.25 184.25h1.5v1.5h-1.5zM374.25 184.25h1.5v1.5h-1.5zM292.25 185.25h1.5v1.5h-1.5zM294.25 185.25h1.5v1.5h-1.5zM300.25 185.25h33.5v1.5h-33.5zM334.25 185.25h1.5v1.5h-1.5zM340.25 185.25h1.5v1.5h-1.5zM345.25 185.25h1.5v1.5h-1.5zM352.25 185.25h1.5v1.5h-1.5zM357.25 185.25h1.5v1.5h-1.5zM361.25 185.25h2.5v1.5h-2.5zM364.25 185.25h1.5v1.5h-1.5zM288.25 186.25h1.5v1.5h-1.5zM295.25 186.25h1.5v1.5h-1.5zM304.25 186.25h30.5v1.5h-30.5zM336.25 186.25h1.5v1.5h-1.5zM344.25 186.25h1.5v1.5h-1.5zM346.25 186.25h2.5v1.5h-2.5zM353.25 186.25h1.5v1.5h-1.5zM357.25 186.25h1.5v1.5h-1.5zM360.25 186.25h1.5v1.5h-1.5zM369.25 186.25h1.5v1.5h-1.5zM378.25 186.25h1.5v1.5h-1.5zM400.25 186.25h1.5v1.5h-1.5zM298.25 187.25h1.5v1.5h-1.5zM300.25 187.25h1.5v1.5h-1.5zM303.25 187.25h31.5v1.5h-31.5zM335.25 187.25h1.5v1.5h-1.5zM342.25 187.25h1.5v1.5h-1.5zM353.25 187.25h1.5v1.5h-1.5zM361.25 187.25h2.5v1.5h-2.5zM364.25 187.25h2.5v1.5h-2.5zM381.25 187.25h1.5v1.5h-1.5zM302.25 188.25h31.5v1.5h-31.5zM336.25 188.25h1.5v1.5h-1.5zM338.25 188.25h1.5v1.5h-1.5zM340.25 188.25h1.5v1.5h-1.5zM344.25 188.25h1.5v1.5h-1.5zM350.25 188.25h1.5v1.5h-1.5zM358.25 188.25h2.5v1.5h-2.5zM361.25 188.25h1.5v1.5h-1.5zM369.25 188.25h1.5v1.5h-1.5zM294.25 189.25h1.5v1.5h-1.5zM299.25 189.25h1.5v1.5h-1.5zM303.25 189.25h1.5v1.5h-1.5zM305.25 189.25h27.5v1.5h-27.5zM337.25 189.25h2.5v1.5h-2.5zM340.25 189.25h2.5v1.5h-2.5zM344.25 189.25h2.5v1.5h-2.5zM348.25 189.25h2.5v1.5h-2.5zM289.25 190.25h1.5v1.5h-1.5zM294.25 190.25h1.5v1.5h-1.5zM301.25 190.25h1.5v1.5h-1.5zM303.25 190.25h27.5v1.5h-27.5zM335.25 190.25h2.5v1.5h-2.5zM339.25 190.25h7.5v1.5h-7.5zM349.25 190.25h1.5v1.5h-1.5zM290.25 191.25h2.5v1.5h-2.5zM300.25 191.25h2.5v1.5h-2.5zM303.25 191.25h1.5v1.5h-1.5zM305.25 191.25h1.5v1.5h-1.5zM307.25 191.25h24.5v1.5h-24.5zM334.25 191.25h1.5v1.5h-1.5zM336.25 191.25h1.5v1.5h-1.5zM340.25 191.25h1.5v1.5h-1.5zM359.25 191.25h1.5v1.5h-1.5zM368.25 191.25h1.5v1.5h-1.5zM293.25 192.25h1.5v1.5h-1.5zM301.25 192.25h2.5v1.5h-2.5zM307.25 192.25h21.5v1.5h-21.5zM329.25 192.25h1.5v1.5h-1.5zM331.25 192.25h1.5v1.5h-1.5zM333.25 192.25h1.5v1.5h-1.5zM335.25 192.25h1.5v1.5h-1.5zM339.25 192.25h1.5v1.5h-1.5zM344.25 192.25h2.5v1.5h-2.5zM350.25 192.25h1.5v1.5h-1.5zM352.25 192.25h1.5v1.5h-1.5zM363.25 192.25h2.5v1.5h-2.5zM292.25 193.25h1.5v1.5h-1.5zM298.25 193.25h1.5v1.5h-1.5zM303.25 193.25h2.5v1.5h-2.5zM306.25 193.25h1.5v1.5h-1.5zM308.25 193.25h2.5v1.5h-2.5zM311.25 193.25h15.5v1.5h-15.5zM329.25 193.25h2.5v1.5h-2.5zM332.25 193.25h1.5v1.5h-1.5zM337.25 193.25h1.5v1.5h-1.5zM339.25 193.25h2.5v1.5h-2.5zM362.25 193.25h1.5v1.5h-1.5zM368.25 193.25h1.5v1.5h-1.5zM304.25 194.25h3.5v1.5h-3.5zM309.25 194.25h7.5v1.5h-7.5zM317.25 194.25h1.5v1.5h-1.5zM319.25 194.25h7.5v1.5h-7.5zM327.25 194.25h2.5v1.5h-2.5zM334.25 194.25h2.5v1.5h-2.5zM338.25 194.25h1.5v1.5h-1.5zM340.25 194.25h1.5v1.5h-1.5zM347.25 194.25h1.5v1.5h-1.5zM353.25 194.25h1.5v1.5h-1.5zM360.25 194.25h1.5v1.5h-1.5zM365.25 194.25h1.5v1.5h-1.5zM375.25 194.25h1.5v1.5h-1.5zM296.25 195.25h1.5v1.5h-1.5zM303.25 195.25h1.5v1.5h-1.5zM306.25 195.25h4.5v1.5h-4.5zM313.25 195.25h2.5v1.5h-2.5zM316.25 195.25h3.5v1.5h-3.5zM320.25 195.25h4.5v1.5h-4.5zM326.25 195.25h2.5v1.5h-2.5zM329.25 195.25h2.5v1.5h-2.5zM338.25 195.25h2.5v1.5h-2.5zM341.25 195.25h1.5v1.5h-1.5zM345.25 195.25h1.5v1.5h-1.5zM349.25 195.25h1.5v1.5h-1.5zM351.25 195.25h2.5v1.5h-2.5zM358.25 195.25h1.5v1.5h-1.5zM362.25 195.25h1.5v1.5h-1.5zM397.25 195.25h1.5v1.5h-1.5zM287.25 196.25h1.5v1.5h-1.5zM290.25 196.25h1.5v1.5h-1.5zM298.25 196.25h1.5v1.5h-1.5zM301.25 196.25h2.5v1.5h-2.5zM304.25 196.25h2.5v1.5h-2.5zM307.25 196.25h1.5v1.5h-1.5zM310.25 196.25h1.5v1.5h-1.5zM312.25 196.25h7.5v1.5h-7.5zM320.25 196.25h4.5v1.5h-4.5zM336.25 196.25h1.5v1.5h-1.5zM338.25 196.25h1.5v1.5h-1.5zM346.25 196.25h1.5v1.5h-1.5zM357.25 196.25h1.5v1.5h-1.5zM295.25 197.25h1.5v1.5h-1.5zM303.25 197.25h1.5v1.5h-1.5zM308.25 197.25h2.5v1.5h-2.5zM315.25 197.25h1.5v1.5h-1.5zM318.25 197.25h2.5v1.5h-2.5zM322.25 197.25h1.5v1.5h-1.5zM324.25 197.25h2.5v1.5h-2.5zM333.25 197.25h1.5v1.5h-1.5zM335.25 197.25h1.5v1.5h-1.5zM339.25 197.25h2.5v1.5h-2.5zM361.25 197.25h1.5v1.5h-1.5zM364.25 197.25h1.5v1.5h-1.5zM290.25 198.25h1.5v1.5h-1.5zM301.25 198.25h1.5v1.5h-1.5zM303.25 198.25h3.5v1.5h-3.5zM309.25 198.25h1.5v1.5h-1.5zM311.25 198.25h3.5v1.5h-3.5zM318.25 198.25h2.5v1.5h-2.5zM321.25 198.25h1.5v1.5h-1.5zM324.25 198.25h5.5v1.5h-5.5zM364.25 198.25h1.5v1.5h-1.5zM293.25 199.25h1.5v1.5h-1.5zM297.25 199.25h3.5v1.5h-3.5zM302.25 199.25h1.5v1.5h-1.5zM307.25 199.25h1.5v1.5h-1.5zM311.25 199.25h1.5v1.5h-1.5zM314.25 199.25h1.5v1.5h-1.5zM317.25 199.25h1.5v1.5h-1.5zM319.25 199.25h2.5v1.5h-2.5zM322.25 199.25h1.5v1.5h-1.5zM329.25 199.25h1.5v1.5h-1.5zM340.25 199.25h1.5v1.5h-1.5zM349.25 199.25h1.5v1.5h-1.5zM359.25 199.25h1.5v1.5h-1.5zM368.25 199.25h1.5v1.5h-1.5zM370.25 199.25h1.5v1.5h-1.5zM372.25 199.25h1.5v1.5h-1.5zM302.25 200.25h1.5v1.5h-1.5zM304.25 200.25h1.5v1.5h-1.5zM309.25 200.25h1.5v1.5h-1.5zM314.25 200.25h1.5v1.5h-1.5zM316.25 200.25h1.5v1.5h-1.5zM320.25 200.25h2.5v1.5h-2.5zM332.25 200.25h1.5v1.5h-1.5zM339.25 200.25h1.5v1.5h-1.5zM344.25 200.25h1.5v1.5h-1.5zM347.25 200.25h1.5v1.5h-1.5zM352.25 200.25h1.5v1.5h-1.5zM372.25 200.25h2.5v1.5h-2.5zM303.25 201.25h1.5v1.5h-1.5zM307.25 201.25h1.5v1.5h-1.5zM316.25 201.25h1.5v1.5h-1.5zM318.25 201.25h1.5v1.5h-1.5zM323.25 201.25h1.5v1.5h-1.5zM325.25 201.25h1.5v1.5h-1.5zM327.25 201.25h1.5v1.5h-1.5zM338.25 201.25h1.5v1.5h-1.5zM344.25 201.25h1.5v1.5h-1.5zM350.25 201.25h1.5v1.5h-1.5zM354.25 201.25h3.5v1.5h-3.5zM358.25 201.25h1.5v1.5h-1.5zM366.25 201.25h1.5v1.5h-1.5zM294.25 202.25h1.5v1.5h-1.5zM302.25 202.25h1.5v1.5h-1.5zM314.25 202.25h2.5v1.5h-2.5zM326.25 202.25h1.5v1.5h-1.5zM334.25 202.25h1.5v1.5h-1.5zM349.25 202.25h1.5v1.5h-1.5zM359.25 202.25h1.5v1.5h-1.5zM362.25 202.25h1.5v1.5h-1.5zM371.25 202.25h1.5v1.5h-1.5zM301.25 203.25h2.5v1.5h-2.5zM312.25 203.25h1.5v1.5h-1.5zM315.25 203.25h1.5v1.5h-1.5zM325.25 203.25h1.5v1.5h-1.5zM350.25 203.25h1.5v1.5h-1.5zM360.25 203.25h1.5v1.5h-1.5zM379.25 203.25h1.5v1.5h-1.5zM298.25 204.25h1.5v1.5h-1.5zM306.25 204.25h1.5v1.5h-1.5zM312.25 204.25h1.5v1.5h-1.5zM322.25 204.25h1.5v1.5h-1.5zM330.25 204.25h1.5v1.5h-1.5zM333.25 204.25h2.5v1.5h-2.5zM363.25 204.25h1.5v1.5h-1.5zM365.25 204.25h1.5v1.5h-1.5zM299.25 205.25h1.5v1.5h-1.5zM309.25 205.25h1.5v1.5h-1.5zM314.25 205.25h1.5v1.5h-1.5zM316.25 205.25h1.5v1.5h-1.5zM318.25 205.25h1.5v1.5h-1.5zM330.25 205.25h1.5v1.5h-1.5zM334.25 205.25h1.5v1.5h-1.5zM338.25 205.25h1.5v1.5h-1.5zM351.25 205.25h1.5v1.5h-1.5zM289.25 206.25h1.5v1.5h-1.5zM302.25 206.25h1.5v1.5h-1.5zM311.25 206.25h1.5v1.5h-1.5zM314.25 206.25h1.5v1.5h-1.5zM332.25 206.25h1.5v1.5h-1.5zM349.25 206.25h1.5v1.5h-1.5zM306.25 207.25h1.5v1.5h-1.5zM328.25 207.25h1.5v1.5h-1.5zM334.25 207.25h1.5v1.5h-1.5zM342.25 207.25h1.5v1.5h-1.5zM357.25 207.25h1.5v1.5h-1.5zM372.25 207.25h1.5v1.5h-1.5zM375.25 207.25h1.5v1.5h-1.5zM287.25 208.25h1.5v1.5h-1.5zM300.25 208.25h1.5v1.5h-1.5zM310.25 208.25h2.5v1.5h-2.5zM375.25 208.25h1.5v1.5h-1.5zM322.25 209.25h1.5v1.5h-1.5zM336.25 209.25h1.5v1.5h-1.5z" fill="#000"/>
<path d="M520.25 52.25h1.5v1.5h-1.5zM651.25 60.25h1.5v1.5h-1.5zM616.25 62.25h1.5v1.5h-1.5zM598.25 65.25h1.5v1.5h-1.5zM633.25 67.25h1.5v1.5h-1.5zM591.25 68.25h1.5v1.5h-1.5zM595.25 70.25h1.5v1.5h-1.5zM623.25 70.25h2.5v1.5h-2.5zM627.25 70.25h1.5v1.5h-1.5zM622.25 71.25h1.5v1.5h-1.5zM617.25 72.25h1.5v1.5h-1.5zM615.25 73.25h1.5v1.5h-1.5zM606.25 74.25h1.5v1.5h-1.5zM621.25 74.25h1.5v1.5h-1.5zM663.25 74.25h1.5v1.5h-1.5zM591.25 75.25h1.5v1.5h-1.5zM597.25 75.25h1.5v1.5h-1.5zM602.25 75.25h1.5v1.5h-1.5zM617.25 75.25h1.5v1.5h-1.5zM626.25 75.25h1.5v1.5h-1.5zM642.25 75.25h1.5v1.5h-1.5zM612.25 76.25h1.5v1.5h-1.5zM620.25 76.25h1.5v1.5h-1.5zM595.25 77.25h1.5v1.5h-1.5zM614.25 77.25h1.5v1.5h-1.5zM619.25 77.25h1.5v1.5h-1.5zM622.25 77.25h1.5v1.5h-1.5zM618.25 78.25h1.5v1.5h-1.5zM642.25 78.25h1.5v1.5h-1.5zM604.25 79.25h1.5v1.5h-1.5zM609.25 79.25h1.5v1.5h-1.5zM611.25 79.25h1.5v1.5h-1.5zM613.25 79.25h1.5v1.5h-1.5zM604.25 80.25h1.5v1.5h-1.5zM608.25 80.25h1.5v1.5h-1.5zM611.25 80.25h1.5v1.5h-1.5zM622.25 80.25h1.5v1.5h-1.5zM606.25 81.25h1.5v1.5h-1.5zM613.25 81.25h1.5v1.5h-1.5zM620.25 81.25h2.5v1.5h-2.5zM628.25 81.25h1.5v1.5h-1.5zM633.25 81.25h1.5v1.5h-1.5zM598.25 82.25h1.5v1.5h-1.5zM615.25 82.25h1.5v1.5h-1.5zM617.25 82.25h1.5v1.5h-1.5zM624.25 82.25h1.5v1.5h-1.5zM634.25 82.25h1.5v1.5h-1.5zM636.25 82.25h1.5v1.5h-1.5zM652.25 82.25h1.5v1.5h-1.5zM532.25 83.25h1.5v1.5h-1.5zM607.25 83.25h1.5v1.5h-1.5zM612.25 83.25h1.5v1.5h-1.5zM615.25 83.25h1.5v1.5h-1.5zM622.25 83.25h1.5v1.5h-1.5zM627.25 83.25h1.5v1.5h-1.5zM638.25 83.25h1.5v1.5h-1.5zM672.25 83.25h1.5v1.5h-1.5zM586.25 84.25h1.5v1.5h-1.5zM597.25 84.25h1.5v1.5h-1.5zM604.25 84.25h1.5v1.5h-1.5zM615.25 84.25h1.5v1.5h-1.5zM620.25 84.25h1.5v1.5h-1.5zM623.25 84.25h1.5v1.5h-1.5zM627.25 84.25h1.5v1.5h-1.5zM631.25 84.25h1.5v1.5h-1.5zM633.25 84.25h1.5v1.5h-1.5zM636.25 84.25h1.5v1.5h-1.5zM645.25 84.25h1.5v1.5h-1.5zM582.25 85.25h1.5v1.5h-1.5zM585.25 85.25h1.5v1.5h-1.5zM590.25 85.25h1.5v1.5h-1.5zM593.25 85.25h1.5v1.5h-1.5zM595.25 85.25h2.5v1.5h-2.5zM598.25 85.25h1.5v1.5h-1.5zM602.25 85.25h1.5v1.5h-1.5zM626.25 85.25h1.5v1.5h-1.5zM629.25 85.25h1.5v1.5h-1.5zM639.25 85.25h1.5v1.5h-1.5zM597.25 86.25h1.5v1.5h-1.5zM599.25 86.25h2.5v1.5h-2.5zM604.25 86.25h1.5v1.5h-1.5zM607.25 86.25h1.5v1.5h-1.5zM618.25 86.25h1.5v1.5h-1.5zM620.25 86.25h1.5v1.5h-1.5zM624.25 86.25h3.5v1.5h-3.5zM632.25 86.25h1.5v1.5h-1.5zM634.25 86.25h1.5v1.5h-1.5zM656.25 86.25h1.5v1.5h-1.5zM584.25 87.25h1.5v1.5h-1.5zM594.25 87.25h2.5v1.5h-2.5zM603.25 87.25h1.5v1.5h-1.5zM620.25 87.25h2.5v1.5h-2.5zM626.25 87.25h1.5v1.5h-1.5zM630.25 87.25h2.5v1.5h-2.5zM635.25 87.25h2.5v1.5h-2.5zM605.25 88.25h1.5v1.5h-1.5zM607.25 88.25h2.5v1.5h-2.5zM610.25 88.25h2.5v1.5h-2.5zM613.25 88.25h1.5v1.5h-1.5zM615.25 88.25h1.5v1.5h-1.5zM621.25 88.25h1.5v1.5h-1.5zM626.25 88.25h1.5v1.5h-1.5zM629.25 88.25h1.5v1.5h-1.5zM634.25 88.25h1.5v1.5h-1.5zM641.25 88.25h1.5v1.5h-1.5zM585.25 89.25h1.5v1.5h-1.5zM597.25 89.25h1.5v1.5h-1.5zM600.25 89.25h3.5v1.5h-3.5zM607.25 89.25h1.5v1.5h-1.5zM609.25 89.25h1.5v1.5h-1.5zM614.25 89.25h1.5v1.5h-1.5zM618.25 89.25h1.5v1.5h-1.5zM623.25 89.25h1.5v1.5h-1.5zM625.25 89.25h1.5v1.5h-1.5zM632.25 89.25h3.5v1.5h-3.5zM579.25 90.25h1.5v1.5h-1.5zM598.25 90.25h2.5v1.5h-2.5zM604.25 90.25h1.5v1.5h-1.5zM608.25 90.25h1.5v1.5h-1.5zM613.25 90.25h2.5v1.5h-2.5zM618.25 90.25h2.5v1.5h-2.5zM624.25 90.25h1.5v1.5h-1.5zM629.25 90.25h1.5v1.5h-1.5zM632.25 90.25h2.5v1.5h-2.5zM649.25 90.25h1.5v1.5h-1.5zM582.25 91.25h1.5v1.5h-1.5zM587.25 91.25h1.5v1.5h-1.5zM600.25 91.25h1.5v1.5h-1.5zM604.25 91.25h1.5v1.5h-1.5zM606.25 91.25h2.5v1.5h-2.5zM611.25 91.25h1.5v1.5h-1.5zM614.25 91.25h1.5v1.5h-1.5zM620.25 91.25h1.5v1.5h-1.5zM622.25 91.25h1.5v1.5h-1.5zM626.25 91.25h1.5v1.5h-1.5zM628.25 91.25h1.5v1.5h-1.5zM635.25 91.25h1.5v1.5h-1.5zM573.25 92.25h2.5v1.5h-2.5zM581.25 92.25h1.5v1.5h-1.5zM587.25 92.25h1.5v1.5h-1.5zM601.25 92.25h1.5v1.5h-1.5zM603.25 92.25h2.5v1.5h-2.5zM606.25 92.25h1.5v1.5h-1.5zM608.25 92.25h1.5v1.5h-1.5zM612.25 92.25h1.5v1.5h-1.5zM616.25 92.25h1.5v1.5h-1.5zM620.25 92.25h1.5v1.5h-1.5zM622.25 92.25h2.5v1.5h-2.5zM627.25 92.25h1.5v1.5h-1.5zM630.25 92.25h1.5v1.5h-1.5zM633.25 92.25h1.5v1.5h-1.5zM643.25 92.25h1.5v1.5h-1.5zM646.25 92.25h1.5v1.5h-1.5zM544.25 93.25h1.5v1.5h-1.5zM606.25 93.25h2.5v1.5h-2.5zM609.25 93.25h1.5v1.5h-1.5zM611.25 93.25h2.5v1.5h-2.5zM617.25 93.25h1.5v1.5h-1.5zM619.25 93.25h1.5v1.5h-1.5zM621.25 93.25h1.5v1.5h-1.5zM627.25 93.25h2.5v1.5h-2.5zM630.25 93.25h1.5v1.5h-1.5zM632.25 93.25h1.5v1.5h-1.5zM637.25 93.25h1.5v1.5h-1.5zM588.25 94.25h1.5v1.5h-1.5zM591.25 94.25h1.5v1.5h-1.5zM596.25 94.25h1.5v1.5h-1.5zM601.25 94.25h1.5v1.5h-1.5zM605.25 94.25h1.5v1.5h-1.5zM608.25 94.25h3.5v1.5h-3.5zM612.25 94.25h1.5v1.5h-1.5zM616.25 94.25h3.5v1.5h-3.5zM621.25 94.25h1.5v1.5h-1.5zM626.25 94.25h2.5v1.5h-2.5zM590.25 95.25h2.5v1.5h-2.5zM596.25 95.25h1.5v1.5h-1.5zM598.25 95.25h2.5v1.5h-2.5zM602.25 95.25h2.5v1.5h-2.5zM606.25 95.25h6.5v1.5h-6.5zM613.25 95.25h1.5v1.5h-1.5zM615.25 95.25h3.5v1.5h-3.5zM622.25 95.25h1.5v1.5h-1.5zM628.25 95.25h1.5v1.5h-1.5zM631.25 95.25h1.5v1.5h-1.5zM636.25 95.25h1.5v1.5h-1.5zM544.25 96.25h1.5v1.5h-1.5zM548.25 96.25h1.5v1.5h-1.5zM573.25 96.25h1.5v1.5h-1.5zM598.25 96.25h2.5v1.5h-2.5zM603.25 96.25h1.5v1.5h-1.5zM605.25 96.25h1.5v1.5h-1.5zM609.25 96.25h1.5v1.5h-1.5zM611.25 96.25h3.5v1.5h-3.5zM620.25 96.25h1.5v1.5h-1.5zM622.25 96.25h2.5v1.5h-2.5zM626.25 96.25h1.5v1.5h-1.5zM628.25 96.25h1.5v1.5h-1.5zM637.25 96.25h1.5v1.5h-1.5zM640.25 96.25h1.5v1.5h-1.5zM648.25 96.25h1.5v1.5h-1.5zM580.25 97.25h1.5v1.5h-1.5zM584.25 97.25h2.5v1.5h-2.5zM591.25 97.25h2.5v1.5h-2.5zM594.25 97.25h1.5v1.5h-1.5zM596.25 97.25h3.5v1.5h-3.5zM601.25 97.25h1.5v1.5h-1.5zM605.25 97.25h1.5v1.5h-1.5zM607.25 97.25h1.5v1.5h-1.5zM610.25 97.25h1.5v1.5h-1.5zM614.25 97.25h2.5v1.5h-2.5zM618.25 97.25h1.5v1.5h-1.5zM627.25 97.25h2.5v1.5h-2.5zM633.25 97.25h1.5v1.5h-1.5zM637.25 97.25h1.5v1.5h-1.5zM640.25 97.25h1.5v1.5h-1.5zM568.25 98.25h1.5v1.5h-1.5zM587.25 98.25h1.5v1.5h-1.5zM589.25 98.25h4.5v1.5h-4.5zM594.25 98.25h2.5v1.5h-2.5zM597.25 98.25h2.5v1.5h-2.5zM604.25 98.25h5.5v1.5h-5.5zM611.25 98.25h1.5v1.5h-1.5zM613.25 98.25h3.5v1.5h-3.5zM619.25 98.25h2.5v1.5h-2.5zM623.25 98.25h2.5v1.5h-2.5zM629.25 98.25h3.5v1.5h-3.5zM635.25 98.25h1.5v1.5h-1.5zM638.25 98.25h1.5v1.5h-1.5zM648.25 98.25h1.5v1.5h-1.5zM588.25 99.25h2.5v1.5h-2.5zM591.25 99.25h2.5v1.5h-2.5zM594.25 99.25h6.5v1.5h-6.5zM601.25 99.25h1.5v1.5h-1.5zM603.25 99.25h1.5v1.5h-1.5zM605.25 99.25h2.5v1.5h-2.5zM610.25 99.25h1.5v1.5h-1.5zM613.25 99.25h1.5v1.5h-1.5zM615.25 99.25h2.5v1.5h-2.5zM620.25 99.25h2.5v1.5h-2.5zM624.25 99.25h1.5v1.5h-1.5zM632.25 99.25h1.5v1.5h-1.5zM634.25 99.25h2.5v1.5h-2.5zM639.25 99.25h2.5v1.5h-2.5zM544.25 100.25h1.5v1.5h-1.5zM554.25 100.25h1.5v1.5h-1.5zM584.25 100.25h1.5v1.5h-1.5zM586.25 100.25h1.5v1.5h-1.5zM588.25 100.25h1.5v1.5h-1.5zM590.25 100.25h1.5v1.5h-1.5zM592.25 100.25h3.5v1.5h-3.5zM596.25 100.25h4.5v1.5h-4.5zM601.25 100.25h1.5v1.5h-1.5zM605.25 100.25h5.5v1.5h-5.5zM612.25 100.25h1.5v1.5h-1.5zM618.25 100.25h1.5v1.5h-1.5zM620.25 100.25h2.5v1.5h-2.5zM629.25 100.25h1.5v1.5h-1.5zM635.25 100.25h1.5v1.5h-1.5zM586.25 101.25h1.5v1.5h-1.5zM591.25 101.25h11.5v1.5h-11.5zM603.25 101.25h2.5v1.5h-2.5zM607.25 101.25h2.5v1.5h-2.5zM610.25 101.25h5.5v1.5h-5.5zM616.25 101.25h1.5v1.5h-1.5zM619.25 101.25h1.5v1.5h-1.5zM621.25 101.25h1.5v1.5h-1.5zM624.25 101.25h1.5v1.5h-1.5zM626.25 101.25h1.5v1.5h-1.5zM628.25 101.25h1.5v1.5h-1.5zM632.25 101.25h1.5v1.5h-1.5zM575.25 102.25h1.5v1.5h-1.5zM578.25 102.25h2.5v1.5h-2.5zM581.25 102.25h1.5v1.5h-1.5zM583.25 102.25h1.5v1.5h-1.5zM588.25 102.25h18.5v1.5h-18.5zM612.25 102.25h1.5v1.5h-1.5zM614.25 102.25h4.5v1.5h-4.5zM620.25 102.25h4.5v1.5h-4.5zM625.25 102.25h1.5v1.5h-1.5zM638.25 102.25h1.5v1.5h-1.5zM536.25 103.25h1.5v1.5h-1.5zM553.25 103.25h1.5v1.5h-1.5zM559.25 103.25h1.5v1.5h-1.5zM563.25 103.25h1.5v1.5h-1.5zM569.25 103.25h1.5v1.5h-1.5zM581.25 103.25h1.5v1.5h-1.5zM587.25 103.25h3.5v1.5h-3.5zM591.25 103.25h12.5v1.5h-12.5zM604.25 103.25h2.5v1.5h-2.5zM611.25 103.25h1.5v1.5h-1.5zM616.25 103.25h1.5v1.5h-1.5zM618.25 103.25h2.5v1.5h-2.5zM621.25 103.25h2.5v1.5h-2.5zM626.25 103.25h1.5v1.5h-1.5zM629.25 103.25h1.5v1.5h-1.5zM634.25 103.25h1.5v1.5h-1.5zM545.25 104.25h1.5v1.5h-1.5zM551.25 104.25h1.5v1.5h-1.5zM581.25 104.25h1.5v1.5h-1.5zM585.25 104.25h17.5v1.5h-17.5zM608.25 104.25h1.5v1.5h-1.5zM611.25 104.25h1.5v1.5h-1.5zM613.25 104.25h1.5v1.5h-1.5zM615.25 104.25h1.5v1.5h-1.5zM619.25 104.25h2.5v1.5h-2.5zM625.25 104.25h1.5v1.5h-1.5zM633.25 104.25h1.5v1.5h-1.5zM658.25 104.25h1.5v1.5h-1.5zM579.25 105.25h2.5v1.5h-2.5zM582.25 105.25h1.5v1.5h-1.5zM584.25 105.25h1.5v1.5h-1.5zM586.25 105.25h5.5v1.5h-5.5zM592.25 105.25h12.5v1.5h-12.5zM605.25 105.25h1.5v1.5h-1.5zM607.25 105.25h2.5v1.5h-2.5zM611.25 105.25h2.5v1.5h-2.5zM614.25 105.25h1.5v1.5h-1.5zM617.25 105.25h1.5v1.5h-1.5zM619.25 105.25h4.5v1.5h-4.5zM628.25 105.25h1.5v1.5h-1.5zM635.25 105.25h1.5v1.5h-1.5zM652.25 105.25h1.5v1.5h-1.5zM555.25 106.25h1.5v1.5h-1.5zM558.25 106.25h1.5v1.5h-1.5zM560.25 106.25h1.5v1.5h-1.5zM581.25 106.25h22.5v1.5h-22.5zM604.25 106.25h2.5v1.5h-2.5zM609.25 106.25h2.5v1.5h-2.5zM614.25 106.25h2.5v1.5h-2.5zM620.25 106.25h2.5v1.5h-2.5zM635.25 106.25h1.5v1.5h-1.5zM547.25 107.25h1.5v1.5h-1.5zM578.25 107.25h1.5v1.5h-1.5zM580.25 107.25h1.5v1.5h-1.5zM582.25 107.25h1.5v1.5h-1.5zM584.25 107.25h13.5v1.5h-13.5zM598.25 107.25h7.5v1.5h-7.5zM606.25 107.25h5.5v1.5h-5.5zM612.25 107.25h1.5v1.5h-1.5zM618.25 107.25h2.5v1.5h-2.5zM621.25 107.25h1.5v1.5h-1.5zM623.25 107.25h1.5v1.5h-1.5zM625.25 107.25h1.5v1.5h-1.5zM556.25 108.25h1.5v1.5h-1.5zM562.25 108.25h2.5v1.5h-2.5zM575.25 108.25h1.5v1.5h-1.5zM581.25 108.25h23.5v1.5h-23.5zM605.25 108.25h2.5v1.5h-2.5zM610.25 108.25h3.5v1.5h-3.5zM615.25 108.25h1.5v1.5h-1.5zM618.25 108.25h1.5v1.5h-1.5zM620.25 108.25h3.5v1.5h-3.5zM630.25 108.25h1.5v1.5h-1.5zM633.25 108.25h2.5v1.5h-2.5zM649.25 108.25h1.5v1.5h-1.5zM572.25 109.25h2.5v1.5h-2.5zM576.25 109.25h2.5v1.5h-2.5zM579.25 109.25h20.5v1.5h-20.5zM600.25 109.25h4.5v1.5h-4.5zM605.25 109.25h2.5v1.5h-2.5zM608.25 109.25h1.5v1.5h-1.5zM611.25 109.25h1.5v1.5h-1.5zM613.25 109.25h2.5v1.5h-2.5zM618.25 109.25h3.5v1.5h-3.5zM622.25 109.25h1.5v1.5h-1.5zM634.25 109.25h1.5v1.5h-1.5zM639.25 109.25h1.5v1.5h-1.5zM549.25 110.25h2.5v1.5h-2.5zM566.25 110.25h1.5v1.5h-1.5zM574.25 110.25h1.5v1.5h-1.5zM576.25 110.25h27.5v1.5h-27.5zM604.25 110.25h1.5v1.5h-1.5zM606.25 110.25h1.5v1.5h-1.5zM609.25 110.25h1.5v1.5h-1.5zM611.25 110.25h2.5v1.5h-2.5zM615.25 110.25h2.5v1.5h-2.5zM618.25 110.25h2.5v1.5h-2.5zM621.25 110.25h1.5v1.5h-1.5zM628.25 110.25h1.5v1.5h-1.5zM552.25 111.25h1.5v1.5h-1.5zM557.25 111.25h1.5v1.5h-1.5zM561.25 111.25h1.5v1.5h-1.5zM564.25 111.25h1.5v1.5h-1.5zM575.25 111.25h2.5v1.5h-2.5zM578.25 111.25h15.5v1.5h-15.5zM594.25 111.25h9.5v1.5h-9.5zM604.25 111.25h4.5v1.5h-4.5zM610.25 111.25h2.5v1.5h-2.5zM614.25 111.25h1.5v1.5h-1.5zM617.25 111.25h2.5v1.5h-2.5zM627.25 111.25h1.5v1.5h-1.5zM641.25 111.25h2.5v1.5h-2.5zM554.25 112.25h1.5v1.5h-1.5zM562.25 112.25h1.5v1.5h-1.5zM573.25 112.25h1.5v1.5h-1.5zM575.25 112.25h1.5v1.5h-1.5zM577.25 112.25h31.5v1.5h-31.5zM610.25 112.25h2.5v1.5h-2.5zM615.25 112.25h2.5v1.5h-2.5zM621.25 112.25h1.5v1.5h-1.5zM627.25 112.25h1.5v1.5h-1.5zM636.25 112.25h1.5v1.5h-1.5zM536.25 113.25h1.5v1.5h-1.5zM539.25 113.25h1.5v1.5h-1.5zM541.25 113.25h1.5v1.5h-1.5zM550.25 113.25h3.5v1.5h-3.5zM558.25 113.25h1.5v1.5h-1.5zM562.25 113.25h1.5v1.5h-1.5zM564.25 113.25h1.5v1.5h-1.5zM570.25 113.25h1.5v1.5h-1.5zM574.25 113.25h1.5v1.5h-1.5zM576.25 113.25h26.5v1.5h-26.5zM603.25 113.25h1.5v1.5h-1.5zM606.25 113.25h3.5v1.5h-3.5zM616.25 113.25h1.5v1.5h-1.5zM619.25 113.25h1.5v1.5h-1.5zM622.25 113.25h1.5v1.5h-1.5zM629.25 113.25h3.5v1.5h-3.5zM543.25 114.25h1.5v1.5h-1.5zM547.25 114.25h1.5v1.5h-1.5zM556.25 114.25h1.5v1.5h-1.5zM564.25 114.25h1.5v1.5h-1.5zM572.25 114.25h1.5v1.5h-1.5zM575.25 114.25h25.5v1.5h-25.5zM601.25 114.25h2.5v1.5h-2.5zM604.25 114.25h1.5v1.5h-1.5zM615.25 114.25h1.5v1.5h-1.5zM622.25 114.25h1.5v1.5h-1.5zM625.25 114.25h2.5v1.5h-2.5zM629.25 114.25h1.5v1.5h-1.5zM640.25 114.25h1.5v1.5h-1.5zM549.25 115.25h1.5v1.5h-1.5zM556.25 115.25h1.5v1.5h-1.5zM559.25 115.25h1.5v1.5h-1.5zM561.25 115.25h1.5v1.5h-1.5zM564.25 115.25h1.5v1.5h-1.5zM574.25 115.25h3.5v1.5h-3.5zM578.25 115.25h21.5v1.5h-21.5zM600.25 115.25h3.5v1.5h-3.5zM608.25 115.25h1.5v1.5h-1.5zM611.25 115.25h1.5v1.5h-1.5zM617.25 115.25h4.5v1.5h-4.5zM622.25 115.25h1.5v1.5h-1.5zM540.25 116.25h1.5v1.5h-1.5zM549.25 116.25h1.5v1.5h-1.5zM566.25 116.25h1.5v1.5h-1.5zM573.25 116.25h3.5v1.5h-3.5zM577.25 116.25h19.5v1.5h-19.5zM597.25 116.25h4.5v1.5h-4.5zM602.25 116.25h1.5v1.5h-1.5zM605.25 116.25h3.5v1.5h-3.5zM614.25 116.25h1.5v1.5h-1.5zM621.25 116.25h1.5v1.5h-1.5zM624.25 116.25h1.5v1.5h-1.5zM548.25 117.25h1.5v1.5h-1.5zM554.25 117.25h1.5v1.5h-1.5zM559.25 117.25h1.5v1.5h-1.5zM571.25 117.25h2.5v1.5h-2.5zM574.25 117.25h21.5v1.5h-21.5zM596.25 117.25h5.5v1.5h-5.5zM603.25 117.25h1.5v1.5h-1.5zM605.25 117.25h2.5v1.5h-2.5zM620.25 117.25h1.5v1.5h-1.5zM622.25 117.25h1.5v1.5h-1.5zM629.25 117.25h1.5v1.5h-1.5zM636.25 117.25h1.5v1.5h-1.5zM539.25 118.25h1.5v1.5h-1.5zM547.25 118.25h2.5v1.5h-2.5zM555.25 118.25h2.5v1.5h-2.5zM572.25 118.25h23.5v1.5h-23.5zM596.25 118.25h5.5v1.5h-5.5zM602.25 118.25h4.5v1.5h-4.5zM610.25 118.25h1.5v1.5h-1.5zM621.25 118.25h1.5v1.5h-1.5zM539.25 119.25h1.5v1.5h-1.5zM552.25 119.25h1.5v1.5h-1.5zM559.25 119.25h1.5v1.5h-1.5zM564.25 119.25h1.5v1.5h-1.5zM568.25 119.25h2.5v1.5h-2.5zM572.25 119.25h3.5v1.5h-3.5zM576.25 119.25h24.5v1.5h-24.5zM601.25 119.25h1.5v1.5h-1.5zM603.25 119.25h1.5v1.5h-1.5zM607.25 119.25h4.5v1.5h-4.5zM628.25 119.25h1.5v1.5h-1.5zM631.25 119.25h1.5v1.5h-1.5zM549.25 120.25h3.5v1.5h-3.5zM559.25 120.25h1.5v1.5h-1.5zM563.25 120.25h1.5v1.5h-1.5zM569.25 120.25h28.5v1.5h-28.5zM598.25 120.25h1.5v1.5h-1.5zM601.25 120.25h1.5v1.5h-1.5zM603.25 120.25h3.5v1.5h-3.5zM608.25 120.25h2.5v1.5h-2.5zM611.25 120.25h1.5v1.5h-1.5zM613.25 120.25h1.5v1.5h-1.5zM540.25 121.25h1.5v1.5h-1.5zM549.25 121.25h1.5v1.5h-1.5zM552.25 121.25h1.5v1.5h-1.5zM554.25 121.25h1.5v1.5h-1.5zM562.25 121.25h2.5v1.5h-2.5zM565.25 121.25h1.5v1.5h-1.5zM567.25 121.25h1.5v1.5h-1.5zM569.25 121.25h1.5v1.5h-1.5zM571.25 121.25h28.5v1.5h-28.5zM600.25 121.25h2.5v1.5h-2.5zM604.25 121.25h2.5v1.5h-2.5zM610.25 121.25h1.5v1.5h-1.5zM614.25 121.25h1.5v1.5h-1.5zM628.25 121.25h1.5v1.5h-1.5zM542.25 122.25h1.5v1.5h-1.5zM550.25 122.25h1.5v1.5h-1.5zM553.25 122.25h1.5v1.5h-1.5zM558.25 122.25h1.5v1.5h-1.5zM568.25 122.25h1.5v1.5h-1.5zM570.25 122.25h27.5v1.5h-27.5zM598.25 122.25h2.5v1.5h-2.5zM602.25 122.25h1.5v1.5h-1.5zM614.25 122.25h2.5v1.5h-2.5zM627.25 122.25h2.5v1.5h-2.5zM537.25 123.25h1.5v1.5h-1.5zM552.25 123.25h1.5v1.5h-1.5zM557.25 123.25h1.5v1.5h-1.5zM562.25 123.25h1.5v1.5h-1.5zM567.25 123.25h1.5v1.5h-1.5zM570.25 123.25h23.5v1.5h-23.5zM594.25 123.25h1.5v1.5h-1.5zM598.25 123.25h1.5v1.5h-1.5zM611.25 123.25h3.5v1.5h-3.5zM617.25 123.25h1.5v1.5h-1.5zM620.25 123.25h1.5v1.5h-1.5zM559.25 124.25h1.5v1.5h-1.5zM565.25 124.25h26.5v1.5h-26.5zM592.25 124.25h2.5v1.5h-2.5zM595.25 124.25h1.5v1.5h-1.5zM599.25 124.25h2.5v1.5h-2.5zM603.25 124.25h1.5v1.5h-1.5zM606.25 124.25h1.5v1.5h-1.5zM608.25 124.25h1.5v1.5h-1.5zM611.25 124.25h2.5v1.5h-2.5zM614.25 124.25h2.5v1.5h-2.5zM618.25 124.25h1.5v1.5h-1.5zM622.25 124.25h1.5v1.5h-1.5zM543.25 125.25h1.5v1.5h-1.5zM549.25 125.25h1.5v1.5h-1.5zM555.25 125.25h1.5v1.5h-1.5zM560.25 125.25h1.5v1.5h-1.5zM565.25 125.25h1.5v1.5h-1.5zM567.25 125.25h2.5v1.5h-2.5zM570.25 125.25h25.5v1.5h-25.5zM596.25 125.25h1.5v1.5h-1.5zM600.25 125.25h2.5v1.5h-2.5zM609.25 125.25h1.5v1.5h-1.5zM612.25 125.25h1.5v1.5h-1.5zM614.25 125.25h1.5v1.5h-1.5zM616.25 125.25h1.5v1.5h-1.5zM634.25 125.25h1.5v1.5h-1.5zM548.25 126.25h1.5v1.5h-1.5zM555.25 126.25h1.5v1.5h-1.5zM563.25 126.25h1.5v1.5h-1.5zM565.25 126.25h25.5v1.5h-25.5zM591.25 126.25h1.5v1.5h-1.5zM595.25 126.25h2.5v1.5h-2.5zM599.25 126.25h1.5v1.5h-1.5zM605.25 126.25h2.5v1.5h-2.5zM609.25 126.25h2.5v1.5h-2.5zM612.25 126.25h2.5v1.5h-2.5zM535.25 127.25h1.5v1.5h-1.5zM543.25 127.25h2.5v1.5h-2.5zM565.25 127.25h1.5v1.5h-1.5zM567.25 127.25h25.5v1.5h-25.5zM597.25 127.25h1.5v1.5h-1.5zM601.25 127.25h2.5v1.5h-2.5zM604.25 127.25h1.5v1.5h-1.5zM606.25 127.25h1.5v1.5h-1.5zM608.25 127.25h1.5v1.5h-1.5zM611.25 127.25h1.5v1.5h-1.5zM619.25 127.25h1.5v1.5h-1.5zM548.25 128.25h1.5v1.5h-1.5zM553.25 128.25h1.5v1.5h-1.5zM555.25 128.25h1.5v1.5h-1.5zM557.25 128.25h1.5v1.5h-1.5zM559.25 128.25h1.5v1.5h-1.5zM564.25 128.25h1.5v1.5h-1.5zM566.25 128.25h26.5v1.5h-26.5zM595.25 128.25h1.5v1.5h-1.5zM598.25 128.25h2.5v1.5h-2.5zM603.25 128.25h1.5v1.5h-1.5zM607.25 128.25h2.5v1.5h-2.5zM613.25 128.25h2.5v1.5h-2.5zM618.25 128.25h1.5v1.5h-1.5zM620.25 128.25h1.5v1.5h-1.5zM543.25 129.25h1.5v1.5h-1.5zM550.25 129.25h1.5v1.5h-1.5zM553.25 129.25h1.5v1.5h-1.5zM557.25 129.25h3.5v1.5h-3.5zM562.25 129.25h1.5v1.5h-1.5zM564.25 129.25h4.5v1.5h-4.5zM569.25 129.25h18.5v1.5h-18.5zM588.25 129.25h3.5v1.5h-3.5zM592.25 129.25h1.5v1.5h-1.5zM594.25 129.25h1.5v1.5h-1.5zM599.25 129.25h1.5v1.5h-1.5zM602.25 129.25h1.5v1.5h-1.5zM606.25 129.25h1.5v1.5h-1.5zM608.25 129.25h1.5v1.5h-1.5zM610.25 129.25h1.5v1.5h-1.5zM620.25 129.25h1.5v1.5h-1.5zM544.25 130.25h1.5v1.5h-1.5zM549.25 130.25h2.5v1.5h-2.5zM553.25 130.25h1.5v1.5h-1.5zM557.25 130.25h3.5v1.5h-3.5zM562.25 130.25h4.5v1.5h-4.5zM567.25 130.25h23.5v1.5h-23.5zM592.25 130.25h1.5v1.5h-1.5zM594.25 130.25h1.5v1.5h-1.5zM596.25 130.25h1.5v1.5h-1.5zM601.25 130.25h2.5v1.5h-2.5zM606.25 130.25h1.5v1.5h-1.5zM540.25 131.25h2.5v1.5h-2.5zM549.25 131.25h1.5v1.5h-1.5zM553.25 131.25h1.5v1.5h-1.5zM555.25 131.25h1.5v1.5h-1.5zM557.25 131.25h1.5v1.5h-1.5zM563.25 131.25h2.5v1.5h-2.5zM567.25 131.25h24.5v1.5h-24.5zM592.25 131.25h1.5v1.5h-1.5zM595.25 131.25h1.5v1.5h-1.5zM597.25 131.25h2.5v1.5h-2.5zM600.25 131.25h1.5v1.5h-1.5zM624.25 131.25h1.5v1.5h-1.5zM555.25 132.25h1.5v1.5h-1.5zM557.25 132.25h1.5v1.5h-1.5zM561.25 132.25h1.5v1.5h-1.5zM563.25 132.25h23.5v1.5h-23.5zM587.25 132.25h1.5v1.5h-1.5zM589.25 132.25h2.5v1.5h-2.5zM594.25 132.25h1.5v1.5h-1.5zM596.25 132.25h1.5v1.5h-1.5zM598.25 132.25h1.5v1.5h-1.5zM601.25 132.25h1.5v1.5h-1.5zM604.25 132.25h1.5v1.5h-1.5zM610.25 132.25h1.5v1.5h-1.5zM613.25 132.25h1.5v1.5h-1.5zM555.25 133.25h3.5v1.5h-3.5zM563.25 133.25h1.5v1.5h-1.5zM565.25 133.25h1.5v1.5h-1.5zM567.25 133.25h21.5v1.5h-21.5zM590.25 133.25h1.5v1.5h-1.5zM592.25 133.25h1.5v1.5h-1.5zM597.25 133.25h2.5v1.5h-2.5zM606.25 133.25h1.5v1.5h-1.5zM613.25 133.25h1.5v1.5h-1.5zM616.25 133.25h1.5v1.5h-1.5zM537.25 134.25h1.5v1.5h-1.5zM542.25 134.25h1.5v1.5h-1.5zM555.25 134.25h1.5v1.5h-1.5zM563.25 134.25h23.5v1.5h-23.5zM588.25 134.25h4.5v1.5h-4.5zM600.25 134.25h2.5v1.5h-2.5zM604.25 134.25h1.5v1.5h-1.5zM608.25 134.25h1.5v1.5h-1.5zM616.25 134.25h2.5v1.5h-2.5zM551.25 135.25h1.5v1.5h-1.5zM555.25 135.25h1.5v1.5h-1.5zM561.25 135.25h25.5v1.5h-25.5zM588.25 135.25h2.5v1.5h-2.5zM591.25 135.25h1.5v1.5h-1.5zM593.25 135.25h1.5v1.5h-1.5zM604.25 135.25h1.5v1.5h-1.5zM547.25 136.25h1.5v1.5h-1.5zM552.25 136.25h1.5v1.5h-1.5zM556.25 136.25h1.5v1.5h-1.5zM563.25 136.25h1.5v1.5h-1.5zM565.25 136.25h20.5v1.5h-20.5zM586.25 136.25h3.5v1.5h-3.5zM591.25 136.25h1.5v1.5h-1.5zM599.25 136.25h1.5v1.5h-1.5zM555.25 137.25h1.5v1.5h-1.5zM558.25 137.25h1.5v1.5h-1.5zM562.25 137.25h22.5v1.5h-22.5zM585.25 137.25h1.5v1.5h-1.5zM588.25 137.25h2.5v1.5h-2.5zM592.25 137.25h1.5v1.5h-1.5zM599.25 137.25h1.5v1.5h-1.5zM558.25 138.25h1.5v1.5h-1.5zM561.25 138.25h2.5v1.5h-2.5zM564.25 138.25h21.5v1.5h-21.5zM589.25 138.25h2.5v1.5h-2.5zM592.25 138.25h1.5v1.5h-1.5zM597.25 138.25h1.5v1.5h-1.5zM604.25 138.25h1.5v1.5h-1.5zM606.25 138.25h1.5v1.5h-1.5zM554.25 139.25h1.5v1.5h-1.5zM562.25 139.25h1.5v1.5h-1.5zM564.25 139.25h20.5v1.5h-20.5zM587.25 139.25h2.5v1.5h-2.5zM593.25 139.25h1.5v1.5h-1.5zM545.25 140.25h1.5v1.5h-1.5zM555.25 140.25h1.5v1.5h-1.5zM558.25 140.25h1.5v1.5h-1.5zM561.25 140.25h1.5v1.5h-1.5zM564.25 140.25h2.5v1.5h-2.5zM567.25 140.25h15.5v1.5h-15.5zM583.25 140.25h6.5v1.5h-6.5zM592.25 140.25h2.5v1.5h-2.5zM606.25 140.25h1.5v1.5h-1.5zM552.25 141.25h1.5v1.5h-1.5zM557.25 141.25h1.5v1.5h-1.5zM559.25 141.25h1.5v1.5h-1.5zM561.25 141.25h1.5v1.5h-1.5zM563.25 141.25h19.5v1.5h-19.5zM588.25 141.25h1.5v1.5h-1.5zM591.25 141.25h1.5v1.5h-1.5zM600.25 141.25h1.5v1.5h-1.5zM551.25 142.25h1.5v1.5h-1.5zM561.25 142.25h3.5v1.5h-3.5zM565.25 142.25h21.5v1.5h-21.5zM593.25 142.25h1.5v1.5h-1.5zM596.25 142.25h1.5v1.5h-1.5zM549.25 143.25h1.5v1.5h-1.5zM557.25 143.25h1.5v1.5h-1.5zM563.25 143.25h19.5v1.5h-19.5zM583.25 143.25h1.5v1.5h-1.5zM586.25 143.25h1.5v1.5h-1.5zM590.25 143.25h2.5v1.5h-2.5zM594.25 143.25h1.5v1.5h-1.5zM596.25 143.25h1.5v1.5h-1.5zM600.25 143.25h1.5v1.5h-1.5zM605.25 143.25h1.5v1.5h-1.5zM553.25 144.25h2.5v1.5h-2.5zM565.25 144.25h17.5v1.5h-17.5zM583.25 144.25h1.5v1.5h-1.5zM586.25 144.25h1.5v1.5h-1.5zM594.25 144.25h2.5v1.5h-2.5zM601.25 144.25h1.5v1.5h-1.5zM559.25 145.25h3.5v1.5h-3.5zM563.25 145.25h16.5v1.5h-16.5zM580.25 145.25h4.5v1.5h-4.5zM586.25 145.25h1.5v1.5h-1.5zM589.25 145.25h1.5v1.5h-1.5zM593.25 145.25h2.5v1.5h-2.5zM561.25 146.25h1.5v1.5h-1.5zM563.25 146.25h18.5v1.5h-18.5zM583.25 146.25h1.5v1.5h-1.5zM586.25 146.25h1.5v1.5h-1.5zM592.25 146.25h1.5v1.5h-1.5zM594.25 146.25h1.5v1.5h-1.5zM596.25 146.25h1.5v1.5h-1.5zM551.25 147.25h2.5v1.5h-2.5zM557.25 147.25h4.5v1.5h-4.5zM563.25 147.25h15.5v1.5h-15.5zM589.25 147.25h1.5v1.5h-1.5zM592.25 147.25h1.5v1.5h-1.5zM595.25 147.25h1.5v1.5h-1.5zM597.25 147.25h1.5v1.5h-1.5zM554.25 148.25h1.5v1.5h-1.5zM556.25 148.25h1.5v1.5h-1.5zM558.25 148.25h1.5v1.5h-1.5zM560.25 148.25h22.5v1.5h-22.5zM583.25 148.25h1.5v1.5h-1.5zM588.25 148.25h1.5v1.5h-1.5zM595.25 148.25h1.5v1.5h-1.5zM598.25 148.25h1.5v1.5h-1.5zM542.25 149.25h1.5v1.5h-1.5zM554.25 149.25h1.5v1.5h-1.5zM556.25 149.25h1.5v1.5h-1.5zM558.25 149.25h2.5v1.5h-2.5zM561.25 149.25h3.5v1.5h-3.5zM566.25 149.25h13.5v1.5h-13.5zM580.25 149.25h1.5v1.5h-1.5zM582.25 149.25h1.5v1.5h-1.5zM585.25 149.25h2.5v1.5h-2.5zM590.25 149.25h1.5v1.5h-1.5zM595.25 149.25h1.5v1.5h-1.5zM600.25 149.25h1.5v1.5h-1.5zM547.25 150.25h1.5v1.5h-1.5zM553.25 150.25h1.5v1.5h-1.5zM558.25 150.25h5.5v1.5h-5.5zM564.25 150.25h9.5v1.5h-9.5zM574.25 150.25h1.5v1.5h-1.5zM576.25 150.25h1.5v1.5h-1.5zM578.25 150.25h1.5v1.5h-1.5zM580.25 150.25h1.5v1.5h-1.5zM582.25 150.25h2.5v1.5h-2.5zM585.25 150.25h3.5v1.5h-3.5zM592.25 150.25h1.5v1.5h-1.5zM594.25 150.25h1.5v1.5h-1.5zM599.25 150.25h1.5v1.5h-1.5zM549.25 151.25h1.5v1.5h-1.5zM552.25 151.25h1.5v1.5h-1.5zM554.25 151.25h1.5v1.5h-1.5zM561.25 151.25h3.5v1.5h-3.5zM565.25 151.25h6.5v1.5h-6.5zM572.25 151.25h6.5v1.5h-6.5zM579.25 151.25h1.5v1.5h-1.5zM582.25 151.25h1.5v1.5h-1.5zM584.25 151.25h1.5v1.5h-1.5zM586.25 151.25h1.5v1.5h-1.5zM588.25 151.25h1.5v1.5h-1.5zM604.25 151.25h1.5v1.5h-1.5zM540.25 152.25h1.5v1.5h-1.5zM545.25 152.25h1.5v1.5h-1.5zM554.25 152.25h1.5v1.5h-1.5zM558.25 152.25h1.5v1.5h-1.5zM561.25 152.25h15.5v1.5h-15.5zM577.25 152.25h2.5v1.5h-2.5zM580.25 152.25h1.5v1.5h-1.5zM582.25 152.25h1.5v1.5h-1.5zM587.25 152.25h2.5v1.5h-2.5zM594.25 152.25h1.5v1.5h-1.5zM606.25 152.25h1.5v1.5h-1.5zM551.25 153.25h7.5v1.5h-7.5zM559.25 153.25h1.5v1.5h-1.5zM562.25 153.25h8.5v1.5h-8.5zM571.25 153.25h3.5v1.5h-3.5zM575.25 153.25h3.5v1.5h-3.5zM579.25 153.25h5.5v1.5h-5.5zM587.25 153.25h1.5v1.5h-1.5zM592.25 153.25h1.5v1.5h-1.5zM594.25 153.25h1.5v1.5h-1.5zM598.25 153.25h1.5v1.5h-1.5zM555.25 154.25h3.5v1.5h-3.5zM559.25 154.25h14.5v1.5h-14.5zM574.25 154.25h4.5v1.5h-4.5zM579.25 154.25h1.5v1.5h-1.5zM581.25 154.25h2.5v1.5h-2.5zM588.25 154.25h1.5v1.5h-1.5zM605.25 154.25h1.5v1.5h-1.5zM551.25 155.25h1.5v1.5h-1.5zM557.25 155.25h2.5v1.5h-2.5zM560.25 155.25h9.5v1.5h-9.5zM570.25 155.25h2.5v1.5h-2.5zM573.25 155.25h1.5v1.5h-1.5zM575.25 155.25h2.5v1.5h-2.5zM581.25 155.25h1.5v1.5h-1.5zM584.25 155.25h1.5v1.5h-1.5zM586.25 155.25h1.5v1.5h-1.5zM589.25 155.25h1.5v1.5h-1.5zM592.25 155.25h1.5v1.5h-1.5zM594.25 155.25h1.5v1.5h-1.5zM604.25 155.25h1.5v1.5h-1.5zM546.25 156.25h1.5v1.5h-1.5zM553.25 156.25h1.5v1.5h-1.5zM558.25 156.25h2.5v1.5h-2.5zM561.25 156.25h1.5v1.5h-1.5zM564.25 156.25h2.5v1.5h-2.5zM567.25 156.25h3.5v1.5h-3.5zM571.25 156.25h6.5v1.5h-6.5zM587.25 156.25h1.5v1.5h-1.5zM600.25 156.25h1.5v1.5h-1.5zM671.25 156.25h1.5v1.5h-1.5zM548.25 157.25h1.5v1.5h-1.5zM556.25 157.25h1.5v1.5h-1.5zM559.25 157.25h1.5v1.5h-1.5zM562.25 157.25h3.5v1.5h-3.5zM567.25 157.25h4.5v1.5h-4.5zM572.25 157.25h2.5v1.5h-2.5zM575.25 157.25h1.5v1.5h-1.5zM578.25 157.25h3.5v1.5h-3.5zM582.25 157.25h3.5v1.5h-3.5zM587.25 157.25h1.5v1.5h-1.5zM589.25 157.25h2.5v1.5h-2.5zM601.25 157.25h1.5v1.5h-1.5zM604.25 157.25h1.5v1.5h-1.5zM606.25 157.25h1.5v1.5h-1.5zM609.25 157.25h1.5v1.5h-1.5zM661.25 157.25h1.5v1.5h-1.5zM542.25 158.25h1.5v1.5h-1.5zM545.25 158.25h2.5v1.5h-2.5zM559.25 158.25h1.5v1.5h-1.5zM563.25 158.25h3.5v1.5h-3.5zM567.25 158.25h1.5v1.5h-1.5zM570.25 158.25h7.5v1.5h-7.5zM578.25 158.25h1.5v1.5h-1.5zM584.25 158.25h1.5v1.5h-1.5zM593.25 158.25h1.5v1.5h-1.5zM600.25 158.25h1.5v1.5h-1.5zM544.25 159.25h1.5v1.5h-1.5zM552.25 159.25h1.5v1.5h-1.5zM555.25 159.25h1.5v1.5h-1.5zM564.25 159.25h6.5v1.5h-6.5zM572.25 159.25h1.5v1.5h-1.5zM576.25 159.25h2.5v1.5h-2.5zM580.25 159.25h1.5v1.5h-1.5zM582.25 159.25h1.5v1.5h-1.5zM591.25 159.25h1.5v1.5h-1.5zM596.25 159.25h2.5v1.5h-2.5zM600.25 159.25h1.5v1.5h-1.5zM539.25 160.25h1.5v1.5h-1.5zM547.25 160.25h1.5v1.5h-1.5zM553.25 160.25h1.5v1.5h-1.5zM556.25 160.25h1.5v1.5h-1.5zM559.25 160.25h7.5v1.5h-7.5zM568.25 160.25h5.5v1.5h-5.5zM578.25 160.25h1.5v1.5h-1.5zM580.25 160.25h2.5v1.5h-2.5zM590.25 160.25h1.5v1.5h-1.5zM601.25 160.25h1.5v1.5h-1.5zM554.25 161.25h1.5v1.5h-1.5zM560.25 161.25h3.5v1.5h-3.5zM564.25 161.25h1.5v1.5h-1.5zM566.25 161.25h1.5v1.5h-1.5zM568.25 161.25h4.5v1.5h-4.5zM576.25 161.25h2.5v1.5h-2.5zM581.25 161.25h1.5v1.5h-1.5zM587.25 161.25h1.5v1.5h-1.5zM601.25 161.25h1.5v1.5h-1.5zM603.25 161.25h1.5v1.5h-1.5zM545.25 162.25h1.5v1.5h-1.5zM554.25 162.25h1.5v1.5h-1.5zM558.25 162.25h2.5v1.5h-2.5zM561.25 162.25h1.5v1.5h-1.5zM563.25 162.25h1.5v1.5h-1.5zM566.25 162.25h1.5v1.5h-1.5zM568.25 162.25h1.5v1.5h-1.5zM570.25 162.25h1.5v1.5h-1.5zM572.25 162.25h3.5v1.5h-3.5zM577.25 162.25h1.5v1.5h-1.5zM579.25 162.25h2.5v1.5h-2.5zM582.25 162.25h1.5v1.5h-1.5zM588.25 162.25h1.5v1.5h-1.5zM599.25 162.25h1.5v1.5h-1.5zM618.25 162.25h1.5v1.5h-1.5zM543.25 163.25h1.5v1.5h-1.5zM550.25 163.25h1.5v1.5h-1.5zM552.25 163.25h1.5v1.5h-1.5zM555.25 163.25h1.5v1.5h-1.5zM557.25 163.25h1.5v1.5h-1.5zM561.25 163.25h1.5v1.5h-1.5zM564.25 163.25h2.5v1.5h-2.5zM567.25 163.25h1.5v1.5h-1.5zM569.25 163.25h1.5v1.5h-1.5zM571.25 163.25h1.5v1.5h-1.5zM574.25 163.25h2.5v1.5h-2.5zM581.25 163.25h1.5v1.5h-1.5zM584.25 163.25h1.5v1.5h-1.5zM587.25 163.25h1.5v1.5h-1.5zM593.25 163.25h1.5v1.5h-1.5zM602.25 163.25h1.5v1.5h-1.5zM604.25 163.25h1.5v1.5h-1.5zM535.25 164.25h1.5v1.5h-1.5zM549.25 164.25h1.5v1.5h-1.5zM553.25 164.25h1.5v1.5h-1.5zM560.25 164.25h1.5v1.5h-1.5zM564.25 164.25h5.5v1.5h-5.5zM573.25 164.25h2.5v1.5h-2.5zM584.25 164.25h1.5v1.5h-1.5zM587.25 164.25h1.5v1.5h-1.5zM591.25 164.25h1.5v1.5h-1.5zM593.25 164.25h2.5v1.5h-2.5zM597.25 164.25h1.5v1.5h-1.5zM553.25 165.25h1.5v1.5h-1.5zM555.25 165.25h1.5v1.5h-1.5zM560.25 165.25h1.5v1.5h-1.5zM562.25 165.25h1.5v1.5h-1.5zM566.25 165.25h4.5v1.5h-4.5zM571.25 165.25h1.5v1.5h-1.5zM573.25 165.25h1.5v1.5h-1.5zM575.25 165.25h1.5v1.5h-1.5zM581.25 165.25h2.5v1.5h-2.5zM586.25 165.25h2.5v1.5h-2.5zM590.25 165.25h1.5v1.5h-1.5zM595.25 165.25h1.5v1.5h-1.5zM603.25 165.25h2.5v1.5h-2.5zM547.25 166.25h1.5v1.5h-1.5zM549.25 166.25h1.5v1.5h-1.5zM551.25 166.25h1.5v1.5h-1.5zM557.25 166.25h1.5v1.5h-1.5zM561.25 166.25h1.5v1.5h-1.5zM564.25 166.25h1.5v1.5h-1.5zM566.25 166.25h1.5v1.5h-1.5zM569.25 166.25h3.5v1.5h-3.5zM573.25 166.25h3.5v1.5h-3.5zM580.25 166.25h1.5v1.5h-1.5zM583.25 166.25h2.5v1.5h-2.5zM596.25 166.25h2.5v1.5h-2.5zM613.25 166.25h2.5v1.5h-2.5zM558.25 167.25h1.5v1.5h-1.5zM562.25 167.25h2.5v1.5h-2.5zM567.25 167.25h1.5v1.5h-1.5zM570.25 167.25h1.5v1.5h-1.5zM572.25 167.25h2.5v1.5h-2.5zM575.25 167.25h1.5v1.5h-1.5zM581.25 167.25h1.5v1.5h-1.5zM583.25 167.25h1.5v1.5h-1.5zM593.25 167.25h1.5v1.5h-1.5zM596.25 167.25h1.5v1.5h-1.5zM599.25 167.25h1.5v1.5h-1.5zM545.25 168.25h1.5v1.5h-1.5zM555.25 168.25h2.5v1.5h-2.5zM560.25 168.25h4.5v1.5h-4.5zM567.25 168.25h2.5v1.5h-2.5zM570.25 168.25h1.5v1.5h-1.5zM573.25 168.25h2.5v1.5h-2.5zM576.25 168.25h2.5v1.5h-2.5zM581.25 168.25h3.5v1.5h-3.5zM585.25 168.25h1.5v1.5h-1.5zM604.25 168.25h1.5v1.5h-1.5zM546.25 169.25h1.5v1.5h-1.5zM551.25 169.25h1.5v1.5h-1.5zM553.25 169.25h1.5v1.5h-1.5zM559.25 169.25h4.5v1.5h-4.5zM565.25 169.25h1.5v1.5h-1.5zM567.25 169.25h1.5v1.5h-1.5zM571.25 169.25h1.5v1.5h-1.5zM574.25 169.25h1.5v1.5h-1.5zM578.25 169.25h1.5v1.5h-1.5zM585.25 169.25h2.5v1.5h-2.5zM588.25 169.25h1.5v1.5h-1.5zM594.25 169.25h1.5v1.5h-1.5zM596.25 169.25h1.5v1.5h-1.5zM609.25 169.25h1.5v1.5h-1.5zM545.25 170.25h1.5v1.5h-1.5zM552.25 170.25h1.5v1.5h-1.5zM556.25 170.25h1.5v1.5h-1.5zM560.25 170.25h1.5v1.5h-1.5zM562.25 170.25h2.5v1.5h-2.5zM565.25 170.25h1.5v1.5h-1.5zM571.25 170.25h1.5v1.5h-1.5zM573.25 170.25h1.5v1.5h-1.5zM576.25 170.25h1.5v1.5h-1.5zM596.25 170.25h1.5v1.5h-1.5zM599.25 170.25h1.5v1.5h-1.5zM601.25 170.25h2.5v1.5h-2.5zM543.25 171.25h1.5v1.5h-1.5zM547.25 171.25h5.5v1.5h-5.5zM553.25 171.25h3.5v1.5h-3.5zM557.25 171.25h3.5v1.5h-3.5zM561.25 171.25h1.5v1.5h-1.5zM563.25 171.25h2.5v1.5h-2.5zM566.25 171.25h2.5v1.5h-2.5zM569.25 171.25h3.5v1.5h-3.5zM573.25 171.25h1.5v1.5h-1.5zM580.25 171.25h1.5v1.5h-1.5zM586.25 171.25h1.5v1.5h-1.5zM588.25 171.25h1.5v1.5h-1.5zM590.25 171.25h1.5v1.5h-1.5zM600.25 171.25h1.5v1.5h-1.5zM546.25 172.25h1.5v1.5h-1.5zM548.25 172.25h1.5v1.5h-1.5zM551.25 172.25h13.5v1.5h-13.5zM566.25 172.25h6.5v1.5h-6.5zM578.25 172.25h1.5v1.5h-1.5zM589.25 172.25h1.5v1.5h-1.5zM592.25 172.25h1.5v1.5h-1.5zM542.25 173.25h1.5v1.5h-1.5zM548.25 173.25h1.5v1.5h-1.5zM550.25 173.25h1.5v1.5h-1.5zM552.25 173.25h1.5v1.5h-1.5zM554.25 173.25h12.5v1.5h-12.5zM568.25 173.25h1.5v1.5h-1.5zM570.25 173.25h1.5v1.5h-1.5zM572.25 173.25h2.5v1.5h-2.5zM578.25 173.25h2.5v1.5h-2.5zM589.25 173.25h1.5v1.5h-1.5zM594.25 173.25h1.5v1.5h-1.5zM598.25 173.25h2.5v1.5h-2.5zM604.25 173.25h1.5v1.5h-1.5zM543.25 174.25h2.5v1.5h-2.5zM550.25 174.25h20.5v1.5h-20.5zM574.25 174.25h2.5v1.5h-2.5zM583.25 174.25h3.5v1.5h-3.5zM587.25 174.25h1.5v1.5h-1.5zM592.25 174.25h1.5v1.5h-1.5zM595.25 174.25h1.5v1.5h-1.5zM598.25 174.25h1.5v1.5h-1.5zM601.25 174.25h1.5v1.5h-1.5zM612.25 174.25h1.5v1.5h-1.5zM549.25 175.25h8.5v1.5h-8.5zM558.25 175.25h6.5v1.5h-6.5zM566.25 175.25h4.5v1.5h-4.5zM572.25 175.25h1.5v1.5h-1.5zM594.25 175.25h1.5v1.5h-1.5zM601.25 175.25h1.5v1.5h-1.5zM609.25 175.25h1.5v1.5h-1.5zM535.25 176.25h1.5v1.5h-1.5zM543.25 176.25h1.5v1.5h-1.5zM545.25 176.25h1.5v1.5h-1.5zM547.25 176.25h1.5v1.5h-1.5zM549.25 176.25h9.5v1.5h-9.5zM559.25 176.25h12.5v1.5h-12.5zM572.25 176.25h1.5v1.5h-1.5zM575.25 176.25h1.5v1.5h-1.5zM585.25 176.25h1.5v1.5h-1.5zM517.25 177.25h1.5v1.5h-1.5zM527.25 177.25h1.5v1.5h-1.5zM545.25 177.25h1.5v1.5h-1.5zM547.25 177.25h5.5v1.5h-5.5zM553.25 177.25h9.5v1.5h-9.5zM563.25 177.25h9.5v1.5h-9.5zM573.25 177.25h1.5v1.5h-1.5zM585.25 177.25h1.5v1.5h-1.5zM591.25 177.25h1.5v1.5h-1.5zM615.25 177.25h1.5v1.5h-1.5zM618.25 177.25h1.5v1.5h-1.5zM517.25 178.25h1.5v1.5h-1.5zM534.25 178.25h1.5v1.5h-1.5zM542.25 178.25h6.5v1.5h-6.5zM549.25 178.25h17.5v1.5h-17.5zM567.25 178.25h4.5v1.5h-4.5zM572.25 178.25h2.5v1.5h-2.5zM576.25 178.25h1.5v1.5h-1.5zM579.25 178.25h1.5v1.5h-1.5zM584.25 178.25h1.5v1.5h-1.5zM593.25 178.25h1.5v1.5h-1.5zM596.25 178.25h1.5v1.5h-1.5zM611.25 178.25h1.5v1.5h-1.5zM613.25 178.25h1.5v1.5h-1.5zM527.25 179.25h1.5v1.5h-1.5zM543.25 179.25h2.5v1.5h-2.5zM546.25 179.25h1.5v1.5h-1.5zM548.25 179.25h24.5v1.5h-24.5zM574.25 179.25h2.5v1.5h-2.5zM579.25 179.25h1.5v1.5h-1.5zM533.25 180.25h1.5v1.5h-1.5zM541.25 180.25h1.5v1.5h-1.5zM544.25 180.25h1.5v1.5h-1.5zM546.25 180.25h7.5v1.5h-7.5zM554.25 180.25h7.5v1.5h-7.5zM562.25 180.25h4.5v1.5h-4.5zM567.25 180.25h2.5v1.5h-2.5zM570.25 180.25h1.5v1.5h-1.5zM572.25 180.25h3.5v1.5h-3.5zM577.25 180.25h1.5v1.5h-1.5zM601.25 180.25h1.5v1.5h-1.5zM543.25 181.25h1.5v1.5h-1.5zM545.25 181.25h3.5v1.5h-3.5zM549.25 181.25h19.5v1.5h-19.5zM570.25 181.25h1.5v1.5h-1.5zM572.25 181.25h2.5v1.5h-2.5zM521.25 182.25h1.5v1.5h-1.5zM539.25 182.25h1.5v1.5h-1.5zM541.25 182.25h2.5v1.5h-2.5zM544.25 182.25h2.5v1.5h-2.5zM547.25 182.25h7.5v1.5h-7.5zM555.25 182.25h19.5v1.5h-19.5zM579.25 182.25h1.5v1.5h-1.5zM588.25 182.25h1.5v1.5h-1.5zM524.25 183.25h1.5v1.5h-1.5zM528.25 183.25h2.5v1.5h-2.5zM544.25 183.25h2.5v1.5h-2.5zM547.25 183.25h4.5v1.5h-4.5zM552.25 183.25h18.5v1.5h-18.5zM575.25 183.25h2.5v1.5h-2.5zM599.25 183.25h2.5v1.5h-2.5zM536.25 184.25h1.5v1.5h-1.5zM542.25 184.25h2.5v1.5h-2.5zM545.25 184.25h26.5v1.5h-26.5zM572.25 184.25h1.5v1.5h-1.5zM576.25 184.25h1.5v1.5h-1.5zM579.25 184.25h1.5v1.5h-1.5zM596.25 184.25h1.5v1.5h-1.5zM533.25 185.25h1.5v1.5h-1.5zM537.25 185.25h1.5v1.5h-1.5zM546.25 185.25h20.5v1.5h-20.5zM568.25 185.25h5.5v1.5h-5.5zM574.25 185.25h1.5v1.5h-1.5zM580.25 185.25h1.5v1.5h-1.5zM519.25 186.25h1.5v1.5h-1.5zM532.25 186.25h1.5v1.5h-1.5zM537.25 186.25h1.5v1.5h-1.5zM546.25 186.25h2.5v1.5h-2.5zM551.25 186.25h1.5v1.5h-1.5zM554.25 186.25h8.5v1.5h-8.5zM564.25 186.25h2.5v1.5h-2.5zM567.25 186.25h3.5v1.5h-3.5zM573.25 186.25h1.5v1.5h-1.5zM575.25 186.25h1.5v1.5h-1.5zM591.25 186.25h1.5v1.5h-1.5zM525.25 187.25h1.5v1.5h-1.5zM527.25 187.25h1.5v1.5h-1.5zM531.25 187.25h1.5v1.5h-1.5zM540.25 187.25h1.5v1.5h-1.5zM543.25 187.25h1.5v1.5h-1.5zM547.25 187.25h1.5v1.5h-1.5zM550.25 187.25h2.5v1.5h-2.5zM553.25 187.25h11.5v1.5h-11.5zM566.25 187.25h3.5v1.5h-3.5zM573.25 187.25h1.5v1.5h-1.5zM584.25 187.25h1.5v1.5h-1.5zM527.25 188.25h1.5v1.5h-1.5zM530.25 188.25h1.5v1.5h-1.5zM534.25 188.25h1.5v1.5h-1.5zM543.25 188.25h3.5v1.5h-3.5zM549.25 188.25h6.5v1.5h-6.5zM557.25 188.25h2.5v1.5h-2.5zM560.25 188.25h7.5v1.5h-7.5zM572.25 188.25h2.5v1.5h-2.5zM601.25 188.25h1.5v1.5h-1.5zM524.25 189.25h1.5v1.5h-1.5zM528.25 189.25h1.5v1.5h-1.5zM532.25 189.25h1.5v1.5h-1.5zM538.25 189.25h1.5v1.5h-1.5zM548.25 189.25h1.5v1.5h-1.5zM550.25 189.25h3.5v1.5h-3.5zM554.25 189.25h2.5v1.5h-2.5zM557.25 189.25h5.5v1.5h-5.5zM563.25 189.25h3.5v1.5h-3.5zM567.25 189.25h2.5v1.5h-2.5zM571.25 189.25h1.5v1.5h-1.5zM574.25 189.25h1.5v1.5h-1.5zM541.25 190.25h1.5v1.5h-1.5zM546.25 190.25h1.5v1.5h-1.5zM549.25 190.25h1.5v1.5h-1.5zM554.25 190.25h1.5v1.5h-1.5zM557.25 190.25h6.5v1.5h-6.5zM566.25 190.25h1.5v1.5h-1.5zM572.25 190.25h1.5v1.5h-1.5zM596.25 190.25h1.5v1.5h-1.5zM533.25 191.25h1.5v1.5h-1.5zM536.25 191.25h1.5v1.5h-1.5zM544.25 191.25h1.5v1.5h-1.5zM546.25 191.25h1.5v1.5h-1.5zM548.25 191.25h1.5v1.5h-1.5zM554.25 191.25h2.5v1.5h-2.5zM557.25 191.25h2.5v1.5h-2.5zM562.25 191.25h2.5v1.5h-2.5zM565.25 191.25h3.5v1.5h-3.5zM534.25 192.25h1.5v1.5h-1.5zM551.25 192.25h1.5v1.5h-1.5zM554.25 192.25h1.5v1.5h-1.5zM559.25 192.25h1.5v1.5h-1.5zM562.25 192.25h1.5v1.5h-1.5zM565.25 192.25h1.5v1.5h-1.5zM588.25 192.25h1.5v1.5h-1.5zM531.25 193.25h1.5v1.5h-1.5zM543.25 193.25h1.5v1.5h-1.5zM552.25 193.25h1.5v1.5h-1.5zM560.25 193.25h2.5v1.5h-2.5zM564.25 193.25h1.5v1.5h-1.5zM601.25 193.25h1.5v1.5h-1.5zM544.25 194.25h2.5v1.5h-2.5zM553.25 194.25h3.5v1.5h-3.5zM558.25 194.25h1.5v1.5h-1.5zM563.25 194.25h1.5v1.5h-1.5zM548.25 195.25h1.5v1.5h-1.5zM551.25 195.25h1.5v1.5h-1.5zM554.25 195.25h2.5v1.5h-2.5zM559.25 195.25h1.5v1.5h-1.5zM561.25 195.25h1.5v1.5h-1.5zM575.25 195.25h1.5v1.5h-1.5zM577.25 195.25h1.5v1.5h-1.5zM592.25 195.25h1.5v1.5h-1.5zM530.25 196.25h1.5v1.5h-1.5zM535.25 196.25h1.5v1.5h-1.5zM546.25 196.25h1.5v1.5h-1.5zM551.25 196.25h1.5v1.5h-1.5zM553.25 196.25h1.5v1.5h-1.5zM556.25 196.25h1.5v1.5h-1.5zM569.25 196.25h1.5v1.5h-1.5zM588.25 196.25h1.5v1.5h-1.5zM604.25 196.25h1.5v1.5h-1.5zM531.25 197.25h1.5v1.5h-1.5zM538.25 197.25h1.5v1.5h-1.5zM541.25 197.25h2.5v1.5h-2.5zM545.25 197.25h1.5v1.5h-1.5zM551.25 197.25h1.5v1.5h-1.5zM588.25 197.25h1.5v1.5h-1.5zM570.25 198.25h1.5v1.5h-1.5zM530.25 199.25h1.5v1.5h-1.5zM536.25 199.25h1.5v1.5h-1.5zM565.25 199.25h1.5v1.5h-1.5zM528.25 200.25h1.5v1.5h-1.5zM561.25 200.25h1.5v1.5h-1.5zM564.25 200.25h1.5v1.5h-1.5zM567.25 200.25h1.5v1.5h-1.5zM575.25 200.25h1.5v1.5h-1.5zM598.25 200.25h1.5v1.5h-1.5zM543.25 201.25h1.5v1.5h-1.5zM554.25 201.25h1.5v1.5h-1.5zM556.25 201.25h1.5v1.5h-1.5zM541.25 202.25h1.5v1.5h-1.5zM570.25 202.25h1.5v1.5h-1.5zM592.25 202.25h1.5v1.5h-1.5zM562.25 203.25h1.5v1.5h-1.5zM523.25 206.25h1.5v1.5h-1.5zM558.25 207.25h1.5v1.5h-1.5zM560.25 207.25h1.5v1.5h-1.5zM578.25 207.25h1.5v1.5h-1.5z" fill="#000"/>
</g>
<path d="M49.5 53.4V215.5M46.5 212.2H207.8" stroke="#111" stroke-width="1.2" fill="none"/>
<path d="M46.5 177.9h3M83.8 212.2v3M46.5 174.2h3M87.5 212.2v3M46.5 171.0h3M90.7 212.2v3M46.5 168.2h3M93.5 212.2v3M46.5 165.6h3M96.1 212.2v3M46.5 163.2h3M98.5 212.2v3M46.5 160.9h3M100.8 212.2v3M46.5 158.7h3M103.0 212.2v3M46.5 156.7h3M105.0 212.2v3M46.5 139.3h3M122.4 212.2v3M46.5 134.1h3M127.6 212.2v3M46.5 129.7h3M132.0 212.2v3M46.5 126.2h3M135.5 212.2v3M46.5 124.0h3M137.7 212.2v3M46.5 122.0h3M139.7 212.2v3M46.5 120.0h3M141.7 212.2v3M46.5 118.0h3M143.7 212.2v3M46.5 116.3h3M145.4 212.2v3M46.5 96.2h3M165.5 212.2v3M46.5 91.0h3M170.7 212.2v3M46.5 86.6h3M175.1 212.2v3M46.5 84.2h3M177.5 212.2v3M46.5 82.2h3M179.5 212.2v3M46.5 80.4h3M181.3 212.2v3M46.5 78.7h3M183.0 212.2v3M46.5 77.3h3M184.4 212.2v3M46.5 75.9h3M185.8 212.2v3M46.5 74.6h3M187.1 212.2v3M46.5 73.3h3M188.4 212.2v3M45.9 104.2h3.6M157.5 212.2v3.6M45.9 59.5h3.6M202.2 212.2v3.6" stroke="#000" stroke-width="1" fill="none"/>
<rect x="46.1" y="183.5" width="3.4" height="9.6" fill="#111"/>
<rect x="68.3" y="212.2" width="9.2" height="3.2" fill="#111"/>
<path d="M111.9 53.4V212.2M49.5 142.6H207.8" stroke="#000" stroke-width="1.3" fill="none"/>
<rect x="108.60" y="50.10" width="6.60" height="6.60" fill="none" stroke="#111" stroke-width="1.25"/>
<rect x="108.60" y="208.90" width="6.60" height="6.60" fill="none" stroke="#111" stroke-width="1.25"/>
<rect x="46.20" y="139.30" width="6.60" height="6.60" fill="none" stroke="#111" stroke-width="1.25"/>
<rect x="204.50" y="139.30" width="6.60" height="6.60" fill="none" stroke="#111" stroke-width="1.25"/>
<rect x="108.60" y="139.30" width="6.60" height="6.60" fill="none" stroke="#111" stroke-width="1.25"/>
<text x="90.4" y="226.8" font-family="Liberation Sans, sans-serif" font-size="10.3" textLength="77.2" lengthAdjust="spacing" fill="#111" stroke="#111" stroke-width="0.3">AnnxV-FITC-A</text>
<text x="193.4" y="224.2" font-family="Liberation Sans, sans-serif" font-size="7" font-weight="bold" textLength="23" lengthAdjust="spacingAndGlyphs" fill="#111">262144</text>
<text transform="translate(41.1 142.5) rotate(-90)" font-family="Liberation Sans, sans-serif" font-size="11" textLength="23.4" lengthAdjust="spacingAndGlyphs" fill="#111" stroke="#111" stroke-width="0.1">PI-A</text>
<text transform="translate(42.1 66.7) rotate(-90)" font-family="Liberation Sans, sans-serif" font-size="7" font-weight="bold" textLength="23.5" lengthAdjust="spacingAndGlyphs" fill="#111">262144</text>
<path d="M286.1 52.0V214.1M283.1 210.79999999999998H444.4" stroke="#111" stroke-width="1.2" fill="none"/>
<path d="M283.1 176.5h3M320.4 210.79999999999998v3M283.1 172.8h3M324.1 210.79999999999998v3M283.1 169.6h3M327.3 210.79999999999998v3M283.1 166.8h3M330.1 210.79999999999998v3M283.1 164.2h3M332.7 210.79999999999998v3M283.1 161.8h3M335.1 210.79999999999998v3M283.1 159.5h3M337.4 210.79999999999998v3M283.1 157.3h3M339.6 210.79999999999998v3M283.1 155.3h3M341.6 210.79999999999998v3M283.1 137.9h3M359.0 210.79999999999998v3M283.1 132.7h3M364.2 210.79999999999998v3M283.1 128.3h3M368.6 210.79999999999998v3M283.1 124.8h3M372.1 210.79999999999998v3M283.1 122.6h3M374.3 210.79999999999998v3M283.1 120.6h3M376.3 210.79999999999998v3M283.1 118.6h3M378.3 210.79999999999998v3M283.1 116.6h3M380.3 210.79999999999998v3M283.1 114.9h3M382.0 210.79999999999998v3M283.1 94.8h3M402.1 210.79999999999998v3M283.1 89.6h3M407.3 210.79999999999998v3M283.1 85.2h3M411.7 210.79999999999998v3M283.1 82.8h3M414.1 210.79999999999998v3M283.1 80.8h3M416.1 210.79999999999998v3M283.1 79.0h3M417.9 210.79999999999998v3M283.1 77.3h3M419.6 210.79999999999998v3M283.1 75.9h3M421.0 210.79999999999998v3M283.1 74.5h3M422.4 210.79999999999998v3M283.1 73.2h3M423.7 210.79999999999998v3M283.1 71.9h3M425.0 210.79999999999998v3M282.5 102.8h3.6M394.1 210.79999999999998v3.6M282.5 58.1h3.6M438.8 210.79999999999998v3.6" stroke="#000" stroke-width="1" fill="none"/>
<rect x="282.70000000000005" y="182.1" width="3.4" height="9.6" fill="#111"/>
<rect x="304.90000000000003" y="210.79999999999998" width="9.2" height="3.2" fill="#111"/>
<path d="M348.5 52.0V210.79999999999998M286.1 141.2H444.4" stroke="#000" stroke-width="1.3" fill="none"/>
<rect x="345.20" y="48.70" width="6.60" height="6.60" fill="none" stroke="#111" stroke-width="1.25"/>
<rect x="345.20" y="207.50" width="6.60" height="6.60" fill="none" stroke="#111" stroke-width="1.25"/>
<rect x="282.80" y="137.90" width="6.60" height="6.60" fill="none" stroke="#111" stroke-width="1.25"/>
<rect x="441.10" y="137.90" width="6.60" height="6.60" fill="none" stroke="#111" stroke-width="1.25"/>
<rect x="345.20" y="137.90" width="6.60" height="6.60" fill="none" stroke="#111" stroke-width="1.25"/>
<text x="327.0" y="225.4" font-family="Liberation Sans, sans-serif" font-size="10.3" textLength="77.2" lengthAdjust="spacing" fill="#111" stroke="#111" stroke-width="0.3">AnnxV-FITC-A</text>
<text x="430.0" y="222.79999999999998" font-family="Liberation Sans, sans-serif" font-size="7" font-weight="bold" textLength="23" lengthAdjust="spacingAndGlyphs" fill="#111">262144</text>
<text transform="translate(277.7 141.1) rotate(-90)" font-family="Liberation Sans, sans-serif" font-size="11" textLength="23.4" lengthAdjust="spacingAndGlyphs" fill="#111" stroke="#111" stroke-width="0.1">PI-A</text>
<text transform="translate(278.7 65.3) rotate(-90)" font-family="Liberation Sans, sans-serif" font-size="7" font-weight="bold" textLength="23.5" lengthAdjust="spacingAndGlyphs" fill="#111">262144</text>
<path d="M515.1 50.1V212.2M512.1 208.89999999999998H673.4000000000001" stroke="#111" stroke-width="1.2" fill="none"/>
<path d="M512.1 174.6h3M549.4 208.89999999999998v3M512.1 170.9h3M553.1 208.89999999999998v3M512.1 167.7h3M556.3 208.89999999999998v3M512.1 164.9h3M559.1 208.89999999999998v3M512.1 162.3h3M561.7 208.89999999999998v3M512.1 159.9h3M564.1 208.89999999999998v3M512.1 157.6h3M566.4 208.89999999999998v3M512.1 155.4h3M568.6 208.89999999999998v3M512.1 153.4h3M570.6 208.89999999999998v3M512.1 136.0h3M588.0 208.89999999999998v3M512.1 130.8h3M593.2 208.89999999999998v3M512.1 126.4h3M597.6 208.89999999999998v3M512.1 122.9h3M601.1 208.89999999999998v3M512.1 120.7h3M603.3 208.89999999999998v3M512.1 118.7h3M605.3 208.89999999999998v3M512.1 116.7h3M607.3 208.89999999999998v3M512.1 114.7h3M609.3 208.89999999999998v3M512.1 113.0h3M611.0 208.89999999999998v3M512.1 92.9h3M631.1 208.89999999999998v3M512.1 87.7h3M636.3 208.89999999999998v3M512.1 83.3h3M640.7 208.89999999999998v3M512.1 80.9h3M643.1 208.89999999999998v3M512.1 78.9h3M645.1 208.89999999999998v3M512.1 77.1h3M646.9 208.89999999999998v3M512.1 75.4h3M648.6 208.89999999999998v3M512.1 74.0h3M650.0 208.89999999999998v3M512.1 72.6h3M651.4 208.89999999999998v3M512.1 71.3h3M652.7 208.89999999999998v3M512.1 70.0h3M654.0 208.89999999999998v3M511.5 100.9h3.6M623.1 208.89999999999998v3.6M511.5 56.2h3.6M667.8 208.89999999999998v3.6" stroke="#000" stroke-width="1" fill="none"/>
<rect x="511.70000000000005" y="180.2" width="3.4" height="9.6" fill="#111"/>
<rect x="533.9" y="208.89999999999998" width="9.2" height="3.2" fill="#111"/>
<path d="M577.5 50.1V208.89999999999998M515.1 139.29999999999998H673.4000000000001" stroke="#000" stroke-width="1.3" fill="none"/>
<rect x="574.20" y="46.80" width="6.60" height="6.60" fill="none" stroke="#111" stroke-width="1.25"/>
<rect x="574.20" y="205.60" width="6.60" height="6.60" fill="none" stroke="#111" stroke-width="1.25"/>
<rect x="511.80" y="136.00" width="6.60" height="6.60" fill="none" stroke="#111" stroke-width="1.25"/>
<rect x="670.10" y="136.00" width="6.60" height="6.60" fill="none" stroke="#111" stroke-width="1.25"/>
<rect x="574.20" y="136.00" width="6.60" height="6.60" fill="none" stroke="#111" stroke-width="1.25"/>
<text x="556.0" y="223.5" font-family="Liberation Sans, sans-serif" font-size="10.3" textLength="77.2" lengthAdjust="spacing" fill="#111" stroke="#111" stroke-width="0.3">AnnxV-FITC-A</text>
<text x="659.0" y="220.89999999999998" font-family="Liberation Sans, sans-serif" font-size="7" font-weight="bold" textLength="23" lengthAdjust="spacingAndGlyphs" fill="#111">262144</text>
<text transform="translate(506.70000000000005 139.2) rotate(-90)" font-family="Liberation Sans, sans-serif" font-size="11" textLength="23.4" lengthAdjust="spacingAndGlyphs" fill="#111" stroke="#111" stroke-width="0.1">PI-A</text>
<text transform="translate(507.70000000000005 63.400000000000006) rotate(-90)" font-family="Liberation Sans, sans-serif" font-size="7" font-weight="bold" textLength="23.5" lengthAdjust="spacingAndGlyphs" fill="#111">262144</text>
<text x="16.6" y="278" font-family="Liberation Sans, sans-serif" font-size="17.2" font-weight="bold" fill="#111" stroke="#111" stroke-width="0.4">B</text>
<path d="M55.2 304.3V467.7M54.5 467H299" stroke="#000" stroke-width="1.6" fill="none"/>
<text x="48" y="470.9" font-family="Liberation Sans, sans-serif" font-size="10.7" font-weight="bold" text-anchor="end" fill="#111">0</text>
<text x="48" y="438.5" font-family="Liberation Sans, sans-serif" font-size="10.7" font-weight="bold" text-anchor="end" fill="#111">20</text>
<text x="48" y="406.1" font-family="Liberation Sans, sans-serif" font-size="10.7" font-weight="bold" text-anchor="end" fill="#111">40</text>
<text x="48" y="373.7" font-family="Liberation Sans, sans-serif" font-size="10.7" font-weight="bold" text-anchor="end" fill="#111">60</text>
<text x="48" y="341.3" font-family="Liberation Sans, sans-serif" font-size="10.7" font-weight="bold" text-anchor="end" fill="#111">80</text>
<text x="48" y="308.9" font-family="Liberation Sans, sans-serif" font-size="10.7" font-weight="bold" text-anchor="end" fill="#111">100</text>
<path d="M50.6 467.0H55M50.6 434.6H55M50.6 402.2H55M50.6 369.8H55M50.6 337.4H55M50.6 305.0H55M95.3 467V471.4M176 467V471.4M256.9 467V471.4" stroke="#000" stroke-width="1.5" fill="none"/>
<text x="94.3" y="482.8" font-family="Liberation Sans, sans-serif" font-size="11" font-weight="bold" text-anchor="middle" fill="#111">C</text>
<text x="175.8" y="482.8" font-family="Liberation Sans, sans-serif" font-size="11" font-weight="bold" text-anchor="middle" fill="#111">5</text>
<text x="257" y="482.8" font-family="Liberation Sans, sans-serif" font-size="11" font-weight="bold" text-anchor="middle" fill="#111">10</text>
<text x="119.6" y="500" font-family="Liberation Sans, sans-serif" font-size="10.6" font-weight="bold" textLength="113.8" lengthAdjust="spacingAndGlyphs" fill="#111">Concentration (mg/ml)</text>
<text transform="translate(11.4 407.2) rotate(-90)" font-family="Liberation Sans, sans-serif" font-size="12" font-weight="bold" textLength="43.5" lengthAdjust="spacingAndGlyphs" fill="#111">% events</text>
<rect x="65.85" y="465.95" width="18.20" height="1.05" fill="#dadada" stroke="#000" stroke-width="1.5"/>
<path d="M94.9 447.3V444.3M89.9 444.3H99.9" stroke="#000" stroke-width="1.5" fill="none"/>
<rect x="86.25" y="448.05" width="17.30" height="18.95" fill="#7c7c7c" stroke="#000" stroke-width="1.5"/>
<path d="M114.8 450.5V448M109.8 448H119.8" stroke="#000" stroke-width="1.5" fill="none"/>
<rect x="105.05" y="451.25" width="19.40" height="15.75" fill="#000" stroke="#000" stroke-width="1.5"/>
<path d="M155.0 455.5V453.9M150.0 453.9H160.0" stroke="#000" stroke-width="1.5" fill="none"/>
<rect x="145.85" y="456.25" width="18.30" height="10.75" fill="#dadada" stroke="#000" stroke-width="1.5"/>
<rect x="167.55" y="461.75" width="16.90" height="5.25" fill="#7c7c7c" stroke="#000" stroke-width="1.5"/>
<path d="M196.5 451.8V449.1M191.5 449.1H201.5" stroke="#000" stroke-width="1.5" fill="none"/>
<rect x="187.05" y="452.55" width="18.90" height="14.45" fill="#000" stroke="#000" stroke-width="1.5"/>
<path d="M236.1 441.9V435.5M231.1 435.5H241.1" stroke="#000" stroke-width="1.5" fill="none"/>
<rect x="227.35" y="442.65" width="17.50" height="24.35" fill="#dadada" stroke="#000" stroke-width="1.5"/>
<path d="M256.3 449.5V443.6M251.3 443.6H261.3" stroke="#000" stroke-width="1.5" fill="none"/>
<rect x="247.55" y="450.25" width="17.50" height="16.75" fill="#7c7c7c" stroke="#000" stroke-width="1.5"/>
<path d="M276.8 386.1V381.4M271.8 381.4H281.8" stroke="#000" stroke-width="1.5" fill="none"/>
<rect x="267.75" y="386.85" width="18.00" height="80.15" fill="#000" stroke="#000" stroke-width="1.5"/>
<text x="154.9" y="457.2" font-family="Liberation Sans, sans-serif" font-size="11.5" text-anchor="middle" fill="#111">*</text>
<text x="176.3" y="463.8" font-family="Liberation Sans, sans-serif" font-size="11.5" text-anchor="middle" fill="#111">*</text>
<text x="195" y="444.7" font-family="Liberation Sans, sans-serif" font-size="9.5" text-anchor="middle" fill="#111">ns</text>
<text x="235" y="430.8" font-family="Liberation Sans, sans-serif" font-size="9.5" text-anchor="middle" fill="#111">ns</text>
<text x="255.4" y="440.3" font-family="Liberation Sans, sans-serif" font-size="9.5" text-anchor="middle" fill="#111">ns</text>
<text x="276.4" y="382.6" font-family="Liberation Sans, sans-serif" font-size="11.5" text-anchor="middle" fill="#111">**</text>
<rect x="68.7" y="311.6" width="17.3" height="6.0" rx="1.2" fill="#dadada" stroke="#000" stroke-width="1.4"/>
<text x="96.1" y="318.3" font-family="Liberation Sans, sans-serif" font-size="10" font-weight="bold" textLength="67.9" lengthAdjust="spacingAndGlyphs" fill="#111">Necrotic cells</text>
<rect x="68.7" y="322.3" width="17.3" height="5.7" rx="1.2" fill="#7c7c7c" stroke="#000" stroke-width="1.4"/>
<text x="96.1" y="328.7" font-family="Liberation Sans, sans-serif" font-size="10" font-weight="bold" textLength="103" lengthAdjust="spacingAndGlyphs" fill="#111">Early apoptotic cells</text>
<rect x="68.7" y="333.3" width="17.3" height="6.3" rx="1.2" fill="#000" stroke="#000" stroke-width="1.4"/>
<text x="96.1" y="340" font-family="Liberation Sans, sans-serif" font-size="10" font-weight="bold" textLength="99.8" lengthAdjust="spacingAndGlyphs" fill="#111">Late apoptotic cells</text>
</svg></body></html>
